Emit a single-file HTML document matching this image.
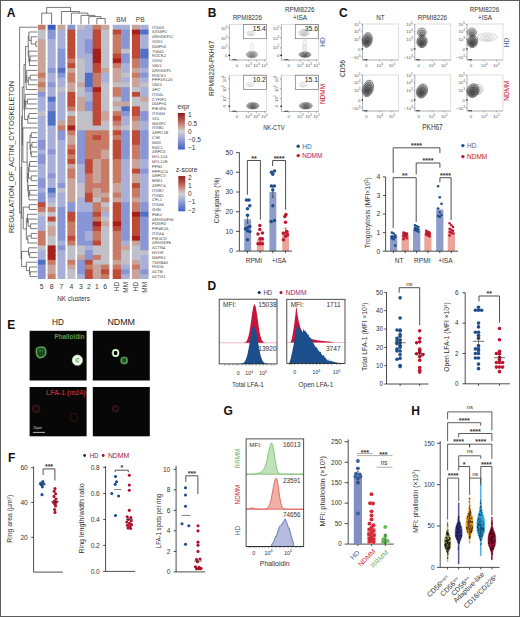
<!DOCTYPE html>
<html><head><meta charset="utf-8"><style>
html,body{margin:0;padding:0;background:#fff;}
svg{display:block;font-family:"Liberation Sans",sans-serif;}
</style></head><body>
<svg width="520" height="617" viewBox="0 0 520 617">
<rect x="0" y="0" width="520" height="617" fill="#fff"/>
<rect x="37.80" y="24.80" width="7.85" height="5.50" fill="#c77a66"/>
<rect x="37.80" y="29.60" width="7.85" height="5.50" fill="#c0c0c9"/>
<rect x="37.80" y="34.39" width="7.85" height="5.50" fill="#c0c0c9"/>
<rect x="37.80" y="39.19" width="7.85" height="5.50" fill="#c9a49b"/>
<rect x="37.80" y="43.98" width="7.85" height="5.50" fill="#c9a49b"/>
<rect x="37.80" y="48.78" width="7.85" height="5.50" fill="#c9a49b"/>
<rect x="37.80" y="53.58" width="7.85" height="5.50" fill="#c9a49b"/>
<rect x="37.80" y="58.37" width="7.85" height="5.50" fill="#c9a49b"/>
<rect x="37.80" y="63.17" width="7.85" height="5.50" fill="#c9a49b"/>
<rect x="37.80" y="67.97" width="7.85" height="5.50" fill="#c9a49b"/>
<rect x="37.80" y="72.76" width="7.85" height="5.50" fill="#c77a66"/>
<rect x="37.80" y="77.56" width="7.85" height="5.50" fill="#c9a49b"/>
<rect x="37.80" y="82.35" width="7.85" height="5.50" fill="#c77a66"/>
<rect x="37.80" y="87.15" width="7.85" height="5.50" fill="#c9a49b"/>
<rect x="37.80" y="91.95" width="7.85" height="5.50" fill="#8896d6"/>
<rect x="37.80" y="96.74" width="7.85" height="5.50" fill="#a8b0d9"/>
<rect x="37.80" y="101.54" width="7.85" height="5.50" fill="#a8b0d9"/>
<rect x="37.80" y="106.34" width="7.85" height="5.50" fill="#a8b0d9"/>
<rect x="37.80" y="111.13" width="7.85" height="5.50" fill="#c0c0c9"/>
<rect x="37.80" y="115.93" width="7.85" height="5.50" fill="#a8b0d9"/>
<rect x="37.80" y="120.72" width="7.85" height="5.50" fill="#a8b0d9"/>
<rect x="37.80" y="125.52" width="7.85" height="5.50" fill="#a8b0d9"/>
<rect x="37.80" y="130.32" width="7.85" height="5.50" fill="#a8b0d9"/>
<rect x="37.80" y="135.11" width="7.85" height="5.50" fill="#a8b0d9"/>
<rect x="37.80" y="139.91" width="7.85" height="5.50" fill="#8896d6"/>
<rect x="37.80" y="144.71" width="7.85" height="5.50" fill="#8896d6"/>
<rect x="37.80" y="149.50" width="7.85" height="5.50" fill="#a8b0d9"/>
<rect x="37.80" y="154.30" width="7.85" height="5.50" fill="#8896d6"/>
<rect x="37.80" y="159.09" width="7.85" height="5.50" fill="#8896d6"/>
<rect x="37.80" y="163.89" width="7.85" height="5.50" fill="#a8b0d9"/>
<rect x="37.80" y="168.69" width="7.85" height="5.50" fill="#a8b0d9"/>
<rect x="37.80" y="173.48" width="7.85" height="5.50" fill="#a8b0d9"/>
<rect x="37.80" y="178.28" width="7.85" height="5.50" fill="#8896d6"/>
<rect x="37.80" y="183.08" width="7.85" height="5.50" fill="#8896d6"/>
<rect x="37.80" y="187.87" width="7.85" height="5.50" fill="#a8b0d9"/>
<rect x="37.80" y="192.67" width="7.85" height="5.50" fill="#8896d6"/>
<rect x="37.80" y="197.46" width="7.85" height="5.50" fill="#8896d6"/>
<rect x="37.80" y="202.26" width="7.85" height="5.50" fill="#bd4a36"/>
<rect x="37.80" y="207.06" width="7.85" height="5.50" fill="#c77a66"/>
<rect x="37.80" y="211.85" width="7.85" height="5.50" fill="#c0c0c9"/>
<rect x="37.80" y="216.65" width="7.85" height="5.50" fill="#a8b0d9"/>
<rect x="37.80" y="221.45" width="7.85" height="5.50" fill="#a8b0d9"/>
<rect x="37.80" y="226.24" width="7.85" height="5.50" fill="#a8b0d9"/>
<rect x="37.80" y="231.04" width="7.85" height="5.50" fill="#c77a66"/>
<rect x="37.80" y="235.83" width="7.85" height="5.50" fill="#c77a66"/>
<rect x="37.80" y="240.63" width="7.85" height="5.50" fill="#c77a66"/>
<rect x="37.80" y="245.43" width="7.85" height="5.50" fill="#c0c0c9"/>
<rect x="37.80" y="250.22" width="7.85" height="5.50" fill="#a8b0d9"/>
<rect x="37.80" y="255.02" width="7.85" height="5.50" fill="#a8b0d9"/>
<rect x="37.80" y="259.82" width="7.85" height="5.50" fill="#5070c8"/>
<rect x="37.80" y="264.61" width="7.85" height="5.50" fill="#8896d6"/>
<rect x="37.80" y="269.41" width="7.85" height="5.50" fill="#8896d6"/>
<rect x="37.80" y="274.20" width="7.85" height="4.80" fill="#8896d6"/>
<rect x="47.60" y="24.80" width="8.05" height="5.50" fill="#3a5cc0"/>
<rect x="47.60" y="29.60" width="8.05" height="5.50" fill="#8896d6"/>
<rect x="47.60" y="34.39" width="8.05" height="5.50" fill="#8896d6"/>
<rect x="47.60" y="39.19" width="8.05" height="5.50" fill="#a8b0d9"/>
<rect x="47.60" y="43.98" width="8.05" height="5.50" fill="#a8b0d9"/>
<rect x="47.60" y="48.78" width="8.05" height="5.50" fill="#a8b0d9"/>
<rect x="47.60" y="53.58" width="8.05" height="5.50" fill="#a8b0d9"/>
<rect x="47.60" y="58.37" width="8.05" height="5.50" fill="#a8b0d9"/>
<rect x="47.60" y="63.17" width="8.05" height="5.50" fill="#a8b0d9"/>
<rect x="47.60" y="67.97" width="8.05" height="5.50" fill="#8896d6"/>
<rect x="47.60" y="72.76" width="8.05" height="5.50" fill="#a8b0d9"/>
<rect x="47.60" y="77.56" width="8.05" height="5.50" fill="#a8b0d9"/>
<rect x="47.60" y="82.35" width="8.05" height="5.50" fill="#8896d6"/>
<rect x="47.60" y="87.15" width="8.05" height="5.50" fill="#a8b0d9"/>
<rect x="47.60" y="91.95" width="8.05" height="5.50" fill="#a8b0d9"/>
<rect x="47.60" y="96.74" width="8.05" height="5.50" fill="#5070c8"/>
<rect x="47.60" y="101.54" width="8.05" height="5.50" fill="#8896d6"/>
<rect x="47.60" y="106.34" width="8.05" height="5.50" fill="#8896d6"/>
<rect x="47.60" y="111.13" width="8.05" height="5.50" fill="#5070c8"/>
<rect x="47.60" y="115.93" width="8.05" height="5.50" fill="#5070c8"/>
<rect x="47.60" y="120.72" width="8.05" height="5.50" fill="#5070c8"/>
<rect x="47.60" y="125.52" width="8.05" height="5.50" fill="#a8b0d9"/>
<rect x="47.60" y="130.32" width="8.05" height="5.50" fill="#a8b0d9"/>
<rect x="47.60" y="135.11" width="8.05" height="5.50" fill="#a8b0d9"/>
<rect x="47.60" y="139.91" width="8.05" height="5.50" fill="#a8b0d9"/>
<rect x="47.60" y="144.71" width="8.05" height="5.50" fill="#a8b0d9"/>
<rect x="47.60" y="149.50" width="8.05" height="5.50" fill="#8896d6"/>
<rect x="47.60" y="154.30" width="8.05" height="5.50" fill="#a8b0d9"/>
<rect x="47.60" y="159.09" width="8.05" height="5.50" fill="#a8b0d9"/>
<rect x="47.60" y="163.89" width="8.05" height="5.50" fill="#a8b0d9"/>
<rect x="47.60" y="168.69" width="8.05" height="5.50" fill="#a8b0d9"/>
<rect x="47.60" y="173.48" width="8.05" height="5.50" fill="#8896d6"/>
<rect x="47.60" y="178.28" width="8.05" height="5.50" fill="#a8b0d9"/>
<rect x="47.60" y="183.08" width="8.05" height="5.50" fill="#a8b0d9"/>
<rect x="47.60" y="187.87" width="8.05" height="5.50" fill="#5070c8"/>
<rect x="47.60" y="192.67" width="8.05" height="5.50" fill="#8896d6"/>
<rect x="47.60" y="197.46" width="8.05" height="5.50" fill="#a8b0d9"/>
<rect x="47.60" y="202.26" width="8.05" height="5.50" fill="#c0c0c9"/>
<rect x="47.60" y="207.06" width="8.05" height="5.50" fill="#c77a66"/>
<rect x="47.60" y="211.85" width="8.05" height="5.50" fill="#c0c0c9"/>
<rect x="47.60" y="216.65" width="8.05" height="5.50" fill="#bd4a36"/>
<rect x="47.60" y="221.45" width="8.05" height="5.50" fill="#c0c0c9"/>
<rect x="47.60" y="226.24" width="8.05" height="5.50" fill="#c9a49b"/>
<rect x="47.60" y="231.04" width="8.05" height="5.50" fill="#c9a49b"/>
<rect x="47.60" y="235.83" width="8.05" height="5.50" fill="#c0c0c9"/>
<rect x="47.60" y="240.63" width="8.05" height="5.50" fill="#c0c0c9"/>
<rect x="47.60" y="245.43" width="8.05" height="5.50" fill="#a5201a"/>
<rect x="47.60" y="250.22" width="8.05" height="5.50" fill="#a5201a"/>
<rect x="47.60" y="255.02" width="8.05" height="5.50" fill="#a5201a"/>
<rect x="47.60" y="259.82" width="8.05" height="5.50" fill="#c77a66"/>
<rect x="47.60" y="264.61" width="8.05" height="5.50" fill="#c9a49b"/>
<rect x="47.60" y="269.41" width="8.05" height="5.50" fill="#c9a49b"/>
<rect x="47.60" y="274.20" width="8.05" height="4.80" fill="#c77a66"/>
<rect x="57.50" y="24.80" width="7.95" height="5.50" fill="#c9a49b"/>
<rect x="57.50" y="29.60" width="7.95" height="5.50" fill="#a8b0d9"/>
<rect x="57.50" y="34.39" width="7.95" height="5.50" fill="#a8b0d9"/>
<rect x="57.50" y="39.19" width="7.95" height="5.50" fill="#a8b0d9"/>
<rect x="57.50" y="43.98" width="7.95" height="5.50" fill="#a8b0d9"/>
<rect x="57.50" y="48.78" width="7.95" height="5.50" fill="#8896d6"/>
<rect x="57.50" y="53.58" width="7.95" height="5.50" fill="#8896d6"/>
<rect x="57.50" y="58.37" width="7.95" height="5.50" fill="#8896d6"/>
<rect x="57.50" y="63.17" width="7.95" height="5.50" fill="#8896d6"/>
<rect x="57.50" y="67.97" width="7.95" height="5.50" fill="#5070c8"/>
<rect x="57.50" y="72.76" width="7.95" height="5.50" fill="#8896d6"/>
<rect x="57.50" y="77.56" width="7.95" height="5.50" fill="#a8b0d9"/>
<rect x="57.50" y="82.35" width="7.95" height="5.50" fill="#a8b0d9"/>
<rect x="57.50" y="87.15" width="7.95" height="5.50" fill="#c0c0c9"/>
<rect x="57.50" y="91.95" width="7.95" height="5.50" fill="#a8b0d9"/>
<rect x="57.50" y="96.74" width="7.95" height="5.50" fill="#a8b0d9"/>
<rect x="57.50" y="101.54" width="7.95" height="5.50" fill="#a8b0d9"/>
<rect x="57.50" y="106.34" width="7.95" height="5.50" fill="#a8b0d9"/>
<rect x="57.50" y="111.13" width="7.95" height="5.50" fill="#a8b0d9"/>
<rect x="57.50" y="115.93" width="7.95" height="5.50" fill="#a8b0d9"/>
<rect x="57.50" y="120.72" width="7.95" height="5.50" fill="#c9a49b"/>
<rect x="57.50" y="125.52" width="7.95" height="5.50" fill="#c77a66"/>
<rect x="57.50" y="130.32" width="7.95" height="5.50" fill="#8896d6"/>
<rect x="57.50" y="135.11" width="7.95" height="5.50" fill="#8896d6"/>
<rect x="57.50" y="139.91" width="7.95" height="5.50" fill="#a8b0d9"/>
<rect x="57.50" y="144.71" width="7.95" height="5.50" fill="#a8b0d9"/>
<rect x="57.50" y="149.50" width="7.95" height="5.50" fill="#a8b0d9"/>
<rect x="57.50" y="154.30" width="7.95" height="5.50" fill="#a8b0d9"/>
<rect x="57.50" y="159.09" width="7.95" height="5.50" fill="#a8b0d9"/>
<rect x="57.50" y="163.89" width="7.95" height="5.50" fill="#a8b0d9"/>
<rect x="57.50" y="168.69" width="7.95" height="5.50" fill="#a8b0d9"/>
<rect x="57.50" y="173.48" width="7.95" height="5.50" fill="#a8b0d9"/>
<rect x="57.50" y="178.28" width="7.95" height="5.50" fill="#a8b0d9"/>
<rect x="57.50" y="183.08" width="7.95" height="5.50" fill="#8896d6"/>
<rect x="57.50" y="187.87" width="7.95" height="5.50" fill="#c0c0c9"/>
<rect x="57.50" y="192.67" width="7.95" height="5.50" fill="#a8b0d9"/>
<rect x="57.50" y="197.46" width="7.95" height="5.50" fill="#a8b0d9"/>
<rect x="57.50" y="202.26" width="7.95" height="5.50" fill="#a8b0d9"/>
<rect x="57.50" y="207.06" width="7.95" height="5.50" fill="#8896d6"/>
<rect x="57.50" y="211.85" width="7.95" height="5.50" fill="#8896d6"/>
<rect x="57.50" y="216.65" width="7.95" height="5.50" fill="#8896d6"/>
<rect x="57.50" y="221.45" width="7.95" height="5.50" fill="#8896d6"/>
<rect x="57.50" y="226.24" width="7.95" height="5.50" fill="#8896d6"/>
<rect x="57.50" y="231.04" width="7.95" height="5.50" fill="#8896d6"/>
<rect x="57.50" y="235.83" width="7.95" height="5.50" fill="#8896d6"/>
<rect x="57.50" y="240.63" width="7.95" height="5.50" fill="#a8b0d9"/>
<rect x="57.50" y="245.43" width="7.95" height="5.50" fill="#8896d6"/>
<rect x="57.50" y="250.22" width="7.95" height="5.50" fill="#a8b0d9"/>
<rect x="57.50" y="255.02" width="7.95" height="5.50" fill="#a8b0d9"/>
<rect x="57.50" y="259.82" width="7.95" height="5.50" fill="#a8b0d9"/>
<rect x="57.50" y="264.61" width="7.95" height="5.50" fill="#a8b0d9"/>
<rect x="57.50" y="269.41" width="7.95" height="5.50" fill="#a8b0d9"/>
<rect x="57.50" y="274.20" width="7.95" height="4.80" fill="#a8b0d9"/>
<rect x="67.40" y="24.80" width="7.95" height="5.50" fill="#8896d6"/>
<rect x="67.40" y="29.60" width="7.95" height="5.50" fill="#bd4a36"/>
<rect x="67.40" y="34.39" width="7.95" height="5.50" fill="#bd4a36"/>
<rect x="67.40" y="39.19" width="7.95" height="5.50" fill="#bd4a36"/>
<rect x="67.40" y="43.98" width="7.95" height="5.50" fill="#bd4a36"/>
<rect x="67.40" y="48.78" width="7.95" height="5.50" fill="#bd4a36"/>
<rect x="67.40" y="53.58" width="7.95" height="5.50" fill="#bd4a36"/>
<rect x="67.40" y="58.37" width="7.95" height="5.50" fill="#c77a66"/>
<rect x="67.40" y="63.17" width="7.95" height="5.50" fill="#bd4a36"/>
<rect x="67.40" y="67.97" width="7.95" height="5.50" fill="#c9a49b"/>
<rect x="67.40" y="72.76" width="7.95" height="5.50" fill="#c77a66"/>
<rect x="67.40" y="77.56" width="7.95" height="5.50" fill="#c77a66"/>
<rect x="67.40" y="82.35" width="7.95" height="5.50" fill="#c9a49b"/>
<rect x="67.40" y="87.15" width="7.95" height="5.50" fill="#c9a49b"/>
<rect x="67.40" y="91.95" width="7.95" height="5.50" fill="#bd4a36"/>
<rect x="67.40" y="96.74" width="7.95" height="5.50" fill="#bd4a36"/>
<rect x="67.40" y="101.54" width="7.95" height="5.50" fill="#bd4a36"/>
<rect x="67.40" y="106.34" width="7.95" height="5.50" fill="#c77a66"/>
<rect x="67.40" y="111.13" width="7.95" height="5.50" fill="#c0c0c9"/>
<rect x="67.40" y="115.93" width="7.95" height="5.50" fill="#c77a66"/>
<rect x="67.40" y="120.72" width="7.95" height="5.50" fill="#c77a66"/>
<rect x="67.40" y="125.52" width="7.95" height="5.50" fill="#a5201a"/>
<rect x="67.40" y="130.32" width="7.95" height="5.50" fill="#c77a66"/>
<rect x="67.40" y="135.11" width="7.95" height="5.50" fill="#c9a49b"/>
<rect x="67.40" y="139.91" width="7.95" height="5.50" fill="#c9a49b"/>
<rect x="67.40" y="144.71" width="7.95" height="5.50" fill="#c77a66"/>
<rect x="67.40" y="149.50" width="7.95" height="5.50" fill="#bd4a36"/>
<rect x="67.40" y="154.30" width="7.95" height="5.50" fill="#c77a66"/>
<rect x="67.40" y="159.09" width="7.95" height="5.50" fill="#bd4a36"/>
<rect x="67.40" y="163.89" width="7.95" height="5.50" fill="#c9a49b"/>
<rect x="67.40" y="168.69" width="7.95" height="5.50" fill="#c77a66"/>
<rect x="67.40" y="173.48" width="7.95" height="5.50" fill="#c77a66"/>
<rect x="67.40" y="178.28" width="7.95" height="5.50" fill="#c9a49b"/>
<rect x="67.40" y="183.08" width="7.95" height="5.50" fill="#c9a49b"/>
<rect x="67.40" y="187.87" width="7.95" height="5.50" fill="#c9a49b"/>
<rect x="67.40" y="192.67" width="7.95" height="5.50" fill="#c9a49b"/>
<rect x="67.40" y="197.46" width="7.95" height="5.50" fill="#c9a49b"/>
<rect x="67.40" y="202.26" width="7.95" height="5.50" fill="#8896d6"/>
<rect x="67.40" y="207.06" width="7.95" height="5.50" fill="#8896d6"/>
<rect x="67.40" y="211.85" width="7.95" height="5.50" fill="#bd4a36"/>
<rect x="67.40" y="216.65" width="7.95" height="5.50" fill="#bd4a36"/>
<rect x="67.40" y="221.45" width="7.95" height="5.50" fill="#c77a66"/>
<rect x="67.40" y="226.24" width="7.95" height="5.50" fill="#c77a66"/>
<rect x="67.40" y="231.04" width="7.95" height="5.50" fill="#c77a66"/>
<rect x="67.40" y="235.83" width="7.95" height="5.50" fill="#bd4a36"/>
<rect x="67.40" y="240.63" width="7.95" height="5.50" fill="#c77a66"/>
<rect x="67.40" y="245.43" width="7.95" height="5.50" fill="#c0c0c9"/>
<rect x="67.40" y="250.22" width="7.95" height="5.50" fill="#c0c0c9"/>
<rect x="67.40" y="255.02" width="7.95" height="5.50" fill="#c0c0c9"/>
<rect x="67.40" y="259.82" width="7.95" height="5.50" fill="#c77a66"/>
<rect x="67.40" y="264.61" width="7.95" height="5.50" fill="#c9a49b"/>
<rect x="67.40" y="269.41" width="7.95" height="5.50" fill="#c0c0c9"/>
<rect x="67.40" y="274.20" width="7.95" height="4.80" fill="#c0c0c9"/>
<rect x="77.10" y="24.80" width="8.15" height="5.50" fill="#c0c0c9"/>
<rect x="77.10" y="29.60" width="8.15" height="5.50" fill="#a8b0d9"/>
<rect x="77.10" y="34.39" width="8.15" height="5.50" fill="#a8b0d9"/>
<rect x="77.10" y="39.19" width="8.15" height="5.50" fill="#a8b0d9"/>
<rect x="77.10" y="43.98" width="8.15" height="5.50" fill="#a8b0d9"/>
<rect x="77.10" y="48.78" width="8.15" height="5.50" fill="#a8b0d9"/>
<rect x="77.10" y="53.58" width="8.15" height="5.50" fill="#a8b0d9"/>
<rect x="77.10" y="58.37" width="8.15" height="5.50" fill="#c0c0c9"/>
<rect x="77.10" y="63.17" width="8.15" height="5.50" fill="#c0c0c9"/>
<rect x="77.10" y="67.97" width="8.15" height="5.50" fill="#c0c0c9"/>
<rect x="77.10" y="72.76" width="8.15" height="5.50" fill="#c0c0c9"/>
<rect x="77.10" y="77.56" width="8.15" height="5.50" fill="#c0c0c9"/>
<rect x="77.10" y="82.35" width="8.15" height="5.50" fill="#c9a49b"/>
<rect x="77.10" y="87.15" width="8.15" height="5.50" fill="#c0c0c9"/>
<rect x="77.10" y="91.95" width="8.15" height="5.50" fill="#c0c0c9"/>
<rect x="77.10" y="96.74" width="8.15" height="5.50" fill="#c9a49b"/>
<rect x="77.10" y="101.54" width="8.15" height="5.50" fill="#c9a49b"/>
<rect x="77.10" y="106.34" width="8.15" height="5.50" fill="#c9a49b"/>
<rect x="77.10" y="111.13" width="8.15" height="5.50" fill="#c0c0c9"/>
<rect x="77.10" y="115.93" width="8.15" height="5.50" fill="#c0c0c9"/>
<rect x="77.10" y="120.72" width="8.15" height="5.50" fill="#c0c0c9"/>
<rect x="77.10" y="125.52" width="8.15" height="5.50" fill="#c0c0c9"/>
<rect x="77.10" y="130.32" width="8.15" height="5.50" fill="#8896d6"/>
<rect x="77.10" y="135.11" width="8.15" height="5.50" fill="#8896d6"/>
<rect x="77.10" y="139.91" width="8.15" height="5.50" fill="#8896d6"/>
<rect x="77.10" y="144.71" width="8.15" height="5.50" fill="#8896d6"/>
<rect x="77.10" y="149.50" width="8.15" height="5.50" fill="#8896d6"/>
<rect x="77.10" y="154.30" width="8.15" height="5.50" fill="#8896d6"/>
<rect x="77.10" y="159.09" width="8.15" height="5.50" fill="#8896d6"/>
<rect x="77.10" y="163.89" width="8.15" height="5.50" fill="#a8b0d9"/>
<rect x="77.10" y="168.69" width="8.15" height="5.50" fill="#a8b0d9"/>
<rect x="77.10" y="173.48" width="8.15" height="5.50" fill="#a8b0d9"/>
<rect x="77.10" y="178.28" width="8.15" height="5.50" fill="#a8b0d9"/>
<rect x="77.10" y="183.08" width="8.15" height="5.50" fill="#c0c0c9"/>
<rect x="77.10" y="187.87" width="8.15" height="5.50" fill="#c0c0c9"/>
<rect x="77.10" y="192.67" width="8.15" height="5.50" fill="#c0c0c9"/>
<rect x="77.10" y="197.46" width="8.15" height="5.50" fill="#a8b0d9"/>
<rect x="77.10" y="202.26" width="8.15" height="5.50" fill="#a8b0d9"/>
<rect x="77.10" y="207.06" width="8.15" height="5.50" fill="#a8b0d9"/>
<rect x="77.10" y="211.85" width="8.15" height="5.50" fill="#8896d6"/>
<rect x="77.10" y="216.65" width="8.15" height="5.50" fill="#8896d6"/>
<rect x="77.10" y="221.45" width="8.15" height="5.50" fill="#8896d6"/>
<rect x="77.10" y="226.24" width="8.15" height="5.50" fill="#8896d6"/>
<rect x="77.10" y="231.04" width="8.15" height="5.50" fill="#8896d6"/>
<rect x="77.10" y="235.83" width="8.15" height="5.50" fill="#8896d6"/>
<rect x="77.10" y="240.63" width="8.15" height="5.50" fill="#8896d6"/>
<rect x="77.10" y="245.43" width="8.15" height="5.50" fill="#c0c0c9"/>
<rect x="77.10" y="250.22" width="8.15" height="5.50" fill="#c0c0c9"/>
<rect x="77.10" y="255.02" width="8.15" height="5.50" fill="#c9a49b"/>
<rect x="77.10" y="259.82" width="8.15" height="5.50" fill="#8896d6"/>
<rect x="77.10" y="264.61" width="8.15" height="5.50" fill="#8896d6"/>
<rect x="77.10" y="269.41" width="8.15" height="5.50" fill="#8896d6"/>
<rect x="77.10" y="274.20" width="8.15" height="4.80" fill="#a8b0d9"/>
<rect x="84.90" y="24.80" width="8.15" height="5.50" fill="#a8b0d9"/>
<rect x="84.90" y="29.60" width="8.15" height="5.50" fill="#a8b0d9"/>
<rect x="84.90" y="34.39" width="8.15" height="5.50" fill="#a8b0d9"/>
<rect x="84.90" y="39.19" width="8.15" height="5.50" fill="#8896d6"/>
<rect x="84.90" y="43.98" width="8.15" height="5.50" fill="#8896d6"/>
<rect x="84.90" y="48.78" width="8.15" height="5.50" fill="#8896d6"/>
<rect x="84.90" y="53.58" width="8.15" height="5.50" fill="#a8b0d9"/>
<rect x="84.90" y="58.37" width="8.15" height="5.50" fill="#a8b0d9"/>
<rect x="84.90" y="63.17" width="8.15" height="5.50" fill="#a8b0d9"/>
<rect x="84.90" y="67.97" width="8.15" height="5.50" fill="#a8b0d9"/>
<rect x="84.90" y="72.76" width="8.15" height="5.50" fill="#5070c8"/>
<rect x="84.90" y="77.56" width="8.15" height="5.50" fill="#5070c8"/>
<rect x="84.90" y="82.35" width="8.15" height="5.50" fill="#5070c8"/>
<rect x="84.90" y="87.15" width="8.15" height="5.50" fill="#8896d6"/>
<rect x="84.90" y="91.95" width="8.15" height="5.50" fill="#a8b0d9"/>
<rect x="84.90" y="96.74" width="8.15" height="5.50" fill="#a8b0d9"/>
<rect x="84.90" y="101.54" width="8.15" height="5.50" fill="#8896d6"/>
<rect x="84.90" y="106.34" width="8.15" height="5.50" fill="#8896d6"/>
<rect x="84.90" y="111.13" width="8.15" height="5.50" fill="#c0c0c9"/>
<rect x="84.90" y="115.93" width="8.15" height="5.50" fill="#c0c0c9"/>
<rect x="84.90" y="120.72" width="8.15" height="5.50" fill="#c0c0c9"/>
<rect x="84.90" y="125.52" width="8.15" height="5.50" fill="#c0c0c9"/>
<rect x="84.90" y="130.32" width="8.15" height="5.50" fill="#c77a66"/>
<rect x="84.90" y="135.11" width="8.15" height="5.50" fill="#c77a66"/>
<rect x="84.90" y="139.91" width="8.15" height="5.50" fill="#c77a66"/>
<rect x="84.90" y="144.71" width="8.15" height="5.50" fill="#c77a66"/>
<rect x="84.90" y="149.50" width="8.15" height="5.50" fill="#c77a66"/>
<rect x="84.90" y="154.30" width="8.15" height="5.50" fill="#c77a66"/>
<rect x="84.90" y="159.09" width="8.15" height="5.50" fill="#bd4a36"/>
<rect x="84.90" y="163.89" width="8.15" height="5.50" fill="#bd4a36"/>
<rect x="84.90" y="168.69" width="8.15" height="5.50" fill="#bd4a36"/>
<rect x="84.90" y="173.48" width="8.15" height="5.50" fill="#c77a66"/>
<rect x="84.90" y="178.28" width="8.15" height="5.50" fill="#c77a66"/>
<rect x="84.90" y="183.08" width="8.15" height="5.50" fill="#c77a66"/>
<rect x="84.90" y="187.87" width="8.15" height="5.50" fill="#c77a66"/>
<rect x="84.90" y="192.67" width="8.15" height="5.50" fill="#bd4a36"/>
<rect x="84.90" y="197.46" width="8.15" height="5.50" fill="#bd4a36"/>
<rect x="84.90" y="202.26" width="8.15" height="5.50" fill="#a8b0d9"/>
<rect x="84.90" y="207.06" width="8.15" height="5.50" fill="#a8b0d9"/>
<rect x="84.90" y="211.85" width="8.15" height="5.50" fill="#8896d6"/>
<rect x="84.90" y="216.65" width="8.15" height="5.50" fill="#8896d6"/>
<rect x="84.90" y="221.45" width="8.15" height="5.50" fill="#8896d6"/>
<rect x="84.90" y="226.24" width="8.15" height="5.50" fill="#8896d6"/>
<rect x="84.90" y="231.04" width="8.15" height="5.50" fill="#a8b0d9"/>
<rect x="84.90" y="235.83" width="8.15" height="5.50" fill="#a8b0d9"/>
<rect x="84.90" y="240.63" width="8.15" height="5.50" fill="#8896d6"/>
<rect x="84.90" y="245.43" width="8.15" height="5.50" fill="#a8b0d9"/>
<rect x="84.90" y="250.22" width="8.15" height="5.50" fill="#8896d6"/>
<rect x="84.90" y="255.02" width="8.15" height="5.50" fill="#8896d6"/>
<rect x="84.90" y="259.82" width="8.15" height="5.50" fill="#bd4a36"/>
<rect x="84.90" y="264.61" width="8.15" height="5.50" fill="#c77a66"/>
<rect x="84.90" y="269.41" width="8.15" height="5.50" fill="#bd4a36"/>
<rect x="84.90" y="274.20" width="8.15" height="4.80" fill="#bd4a36"/>
<rect x="92.70" y="24.80" width="8.65" height="5.50" fill="#c77a66"/>
<rect x="92.70" y="29.60" width="8.65" height="5.50" fill="#bd4a36"/>
<rect x="92.70" y="34.39" width="8.65" height="5.50" fill="#bd4a36"/>
<rect x="92.70" y="39.19" width="8.65" height="5.50" fill="#bd4a36"/>
<rect x="92.70" y="43.98" width="8.65" height="5.50" fill="#bd4a36"/>
<rect x="92.70" y="48.78" width="8.65" height="5.50" fill="#a5201a"/>
<rect x="92.70" y="53.58" width="8.65" height="5.50" fill="#a5201a"/>
<rect x="92.70" y="58.37" width="8.65" height="5.50" fill="#a5201a"/>
<rect x="92.70" y="63.17" width="8.65" height="5.50" fill="#bd4a36"/>
<rect x="92.70" y="67.97" width="8.65" height="5.50" fill="#bd4a36"/>
<rect x="92.70" y="72.76" width="8.65" height="5.50" fill="#c77a66"/>
<rect x="92.70" y="77.56" width="8.65" height="5.50" fill="#c77a66"/>
<rect x="92.70" y="82.35" width="8.65" height="5.50" fill="#c77a66"/>
<rect x="92.70" y="87.15" width="8.65" height="5.50" fill="#a5201a"/>
<rect x="92.70" y="91.95" width="8.65" height="5.50" fill="#bd4a36"/>
<rect x="92.70" y="96.74" width="8.65" height="5.50" fill="#bd4a36"/>
<rect x="92.70" y="101.54" width="8.65" height="5.50" fill="#bd4a36"/>
<rect x="92.70" y="106.34" width="8.65" height="5.50" fill="#bd4a36"/>
<rect x="92.70" y="111.13" width="8.65" height="5.50" fill="#bd4a36"/>
<rect x="92.70" y="115.93" width="8.65" height="5.50" fill="#bd4a36"/>
<rect x="92.70" y="120.72" width="8.65" height="5.50" fill="#bd4a36"/>
<rect x="92.70" y="125.52" width="8.65" height="5.50" fill="#c0c0c9"/>
<rect x="92.70" y="130.32" width="8.65" height="5.50" fill="#c77a66"/>
<rect x="92.70" y="135.11" width="8.65" height="5.50" fill="#bd4a36"/>
<rect x="92.70" y="139.91" width="8.65" height="5.50" fill="#c77a66"/>
<rect x="92.70" y="144.71" width="8.65" height="5.50" fill="#c77a66"/>
<rect x="92.70" y="149.50" width="8.65" height="5.50" fill="#c77a66"/>
<rect x="92.70" y="154.30" width="8.65" height="5.50" fill="#c77a66"/>
<rect x="92.70" y="159.09" width="8.65" height="5.50" fill="#c9a49b"/>
<rect x="92.70" y="163.89" width="8.65" height="5.50" fill="#c9a49b"/>
<rect x="92.70" y="168.69" width="8.65" height="5.50" fill="#c9a49b"/>
<rect x="92.70" y="173.48" width="8.65" height="5.50" fill="#c9a49b"/>
<rect x="92.70" y="178.28" width="8.65" height="5.50" fill="#c9a49b"/>
<rect x="92.70" y="183.08" width="8.65" height="5.50" fill="#c77a66"/>
<rect x="92.70" y="187.87" width="8.65" height="5.50" fill="#c9a49b"/>
<rect x="92.70" y="192.67" width="8.65" height="5.50" fill="#c9a49b"/>
<rect x="92.70" y="197.46" width="8.65" height="5.50" fill="#c0c0c9"/>
<rect x="92.70" y="202.26" width="8.65" height="5.50" fill="#c77a66"/>
<rect x="92.70" y="207.06" width="8.65" height="5.50" fill="#c77a66"/>
<rect x="92.70" y="211.85" width="8.65" height="5.50" fill="#bd4a36"/>
<rect x="92.70" y="216.65" width="8.65" height="5.50" fill="#c77a66"/>
<rect x="92.70" y="221.45" width="8.65" height="5.50" fill="#a5201a"/>
<rect x="92.70" y="226.24" width="8.65" height="5.50" fill="#bd4a36"/>
<rect x="92.70" y="231.04" width="8.65" height="5.50" fill="#c77a66"/>
<rect x="92.70" y="235.83" width="8.65" height="5.50" fill="#c77a66"/>
<rect x="92.70" y="240.63" width="8.65" height="5.50" fill="#bd4a36"/>
<rect x="92.70" y="245.43" width="8.65" height="5.50" fill="#c0c0c9"/>
<rect x="92.70" y="250.22" width="8.65" height="5.50" fill="#c0c0c9"/>
<rect x="92.70" y="255.02" width="8.65" height="5.50" fill="#c77a66"/>
<rect x="92.70" y="259.82" width="8.65" height="5.50" fill="#c0c0c9"/>
<rect x="92.70" y="264.61" width="8.65" height="5.50" fill="#c9a49b"/>
<rect x="92.70" y="269.41" width="8.65" height="5.50" fill="#c9a49b"/>
<rect x="92.70" y="274.20" width="8.65" height="4.80" fill="#c9a49b"/>
<rect x="101.00" y="24.80" width="8.35" height="5.50" fill="#c9a49b"/>
<rect x="101.00" y="29.60" width="8.35" height="5.50" fill="#c0c0c9"/>
<rect x="101.00" y="34.39" width="8.35" height="5.50" fill="#c0c0c9"/>
<rect x="101.00" y="39.19" width="8.35" height="5.50" fill="#c0c0c9"/>
<rect x="101.00" y="43.98" width="8.35" height="5.50" fill="#c0c0c9"/>
<rect x="101.00" y="48.78" width="8.35" height="5.50" fill="#c0c0c9"/>
<rect x="101.00" y="53.58" width="8.35" height="5.50" fill="#c0c0c9"/>
<rect x="101.00" y="58.37" width="8.35" height="5.50" fill="#c0c0c9"/>
<rect x="101.00" y="63.17" width="8.35" height="5.50" fill="#c0c0c9"/>
<rect x="101.00" y="67.97" width="8.35" height="5.50" fill="#c9a49b"/>
<rect x="101.00" y="72.76" width="8.35" height="5.50" fill="#a8b0d9"/>
<rect x="101.00" y="77.56" width="8.35" height="5.50" fill="#a8b0d9"/>
<rect x="101.00" y="82.35" width="8.35" height="5.50" fill="#c0c0c9"/>
<rect x="101.00" y="87.15" width="8.35" height="5.50" fill="#c0c0c9"/>
<rect x="101.00" y="91.95" width="8.35" height="5.50" fill="#c0c0c9"/>
<rect x="101.00" y="96.74" width="8.35" height="5.50" fill="#c0c0c9"/>
<rect x="101.00" y="101.54" width="8.35" height="5.50" fill="#c0c0c9"/>
<rect x="101.00" y="106.34" width="8.35" height="5.50" fill="#c0c0c9"/>
<rect x="101.00" y="111.13" width="8.35" height="5.50" fill="#c9a49b"/>
<rect x="101.00" y="115.93" width="8.35" height="5.50" fill="#c9a49b"/>
<rect x="101.00" y="120.72" width="8.35" height="5.50" fill="#c0c0c9"/>
<rect x="101.00" y="125.52" width="8.35" height="5.50" fill="#c0c0c9"/>
<rect x="101.00" y="130.32" width="8.35" height="5.50" fill="#c77a66"/>
<rect x="101.00" y="135.11" width="8.35" height="5.50" fill="#c77a66"/>
<rect x="101.00" y="139.91" width="8.35" height="5.50" fill="#c77a66"/>
<rect x="101.00" y="144.71" width="8.35" height="5.50" fill="#c77a66"/>
<rect x="101.00" y="149.50" width="8.35" height="5.50" fill="#c9a49b"/>
<rect x="101.00" y="154.30" width="8.35" height="5.50" fill="#c9a49b"/>
<rect x="101.00" y="159.09" width="8.35" height="5.50" fill="#c77a66"/>
<rect x="101.00" y="163.89" width="8.35" height="5.50" fill="#c77a66"/>
<rect x="101.00" y="168.69" width="8.35" height="5.50" fill="#c77a66"/>
<rect x="101.00" y="173.48" width="8.35" height="5.50" fill="#c77a66"/>
<rect x="101.00" y="178.28" width="8.35" height="5.50" fill="#c77a66"/>
<rect x="101.00" y="183.08" width="8.35" height="5.50" fill="#c77a66"/>
<rect x="101.00" y="187.87" width="8.35" height="5.50" fill="#c77a66"/>
<rect x="101.00" y="192.67" width="8.35" height="5.50" fill="#c9a49b"/>
<rect x="101.00" y="197.46" width="8.35" height="5.50" fill="#c77a66"/>
<rect x="101.00" y="202.26" width="8.35" height="5.50" fill="#c0c0c9"/>
<rect x="101.00" y="207.06" width="8.35" height="5.50" fill="#c9a49b"/>
<rect x="101.00" y="211.85" width="8.35" height="5.50" fill="#a8b0d9"/>
<rect x="101.00" y="216.65" width="8.35" height="5.50" fill="#c0c0c9"/>
<rect x="101.00" y="221.45" width="8.35" height="5.50" fill="#c9a49b"/>
<rect x="101.00" y="226.24" width="8.35" height="5.50" fill="#c0c0c9"/>
<rect x="101.00" y="231.04" width="8.35" height="5.50" fill="#c0c0c9"/>
<rect x="101.00" y="235.83" width="8.35" height="5.50" fill="#c0c0c9"/>
<rect x="101.00" y="240.63" width="8.35" height="5.50" fill="#c0c0c9"/>
<rect x="101.00" y="245.43" width="8.35" height="5.50" fill="#c0c0c9"/>
<rect x="101.00" y="250.22" width="8.35" height="5.50" fill="#c0c0c9"/>
<rect x="101.00" y="255.02" width="8.35" height="5.50" fill="#c0c0c9"/>
<rect x="101.00" y="259.82" width="8.35" height="5.50" fill="#c0c0c9"/>
<rect x="101.00" y="264.61" width="8.35" height="5.50" fill="#c77a66"/>
<rect x="101.00" y="269.41" width="8.35" height="5.50" fill="#bd4a36"/>
<rect x="101.00" y="274.20" width="8.35" height="4.80" fill="#c77a66"/>
<rect x="112.70" y="24.80" width="8.95" height="5.50" fill="#a8b0d9"/>
<rect x="112.70" y="29.60" width="8.95" height="5.50" fill="#bd4a36"/>
<rect x="112.70" y="34.39" width="8.95" height="5.50" fill="#c77a66"/>
<rect x="112.70" y="39.19" width="8.95" height="5.50" fill="#c77a66"/>
<rect x="112.70" y="43.98" width="8.95" height="5.50" fill="#c77a66"/>
<rect x="112.70" y="48.78" width="8.95" height="5.50" fill="#c77a66"/>
<rect x="112.70" y="53.58" width="8.95" height="5.50" fill="#bd4a36"/>
<rect x="112.70" y="58.37" width="8.95" height="5.50" fill="#a5201a"/>
<rect x="112.70" y="63.17" width="8.95" height="5.50" fill="#c77a66"/>
<rect x="112.70" y="67.97" width="8.95" height="5.50" fill="#c9a49b"/>
<rect x="112.70" y="72.76" width="8.95" height="5.50" fill="#c9a49b"/>
<rect x="112.70" y="77.56" width="8.95" height="5.50" fill="#c9a49b"/>
<rect x="112.70" y="82.35" width="8.95" height="5.50" fill="#c0c0c9"/>
<rect x="112.70" y="87.15" width="8.95" height="5.50" fill="#c77a66"/>
<rect x="112.70" y="91.95" width="8.95" height="5.50" fill="#c77a66"/>
<rect x="112.70" y="96.74" width="8.95" height="5.50" fill="#c0c0c9"/>
<rect x="112.70" y="101.54" width="8.95" height="5.50" fill="#c9a49b"/>
<rect x="112.70" y="106.34" width="8.95" height="5.50" fill="#c0c0c9"/>
<rect x="112.70" y="111.13" width="8.95" height="5.50" fill="#c77a66"/>
<rect x="112.70" y="115.93" width="8.95" height="5.50" fill="#bd4a36"/>
<rect x="112.70" y="120.72" width="8.95" height="5.50" fill="#c77a66"/>
<rect x="112.70" y="125.52" width="8.95" height="5.50" fill="#c9a49b"/>
<rect x="112.70" y="130.32" width="8.95" height="5.50" fill="#bd4a36"/>
<rect x="112.70" y="135.11" width="8.95" height="5.50" fill="#c77a66"/>
<rect x="112.70" y="139.91" width="8.95" height="5.50" fill="#bd4a36"/>
<rect x="112.70" y="144.71" width="8.95" height="5.50" fill="#bd4a36"/>
<rect x="112.70" y="149.50" width="8.95" height="5.50" fill="#bd4a36"/>
<rect x="112.70" y="154.30" width="8.95" height="5.50" fill="#bd4a36"/>
<rect x="112.70" y="159.09" width="8.95" height="5.50" fill="#c77a66"/>
<rect x="112.70" y="163.89" width="8.95" height="5.50" fill="#c77a66"/>
<rect x="112.70" y="168.69" width="8.95" height="5.50" fill="#c77a66"/>
<rect x="112.70" y="173.48" width="8.95" height="5.50" fill="#c77a66"/>
<rect x="112.70" y="178.28" width="8.95" height="5.50" fill="#c77a66"/>
<rect x="112.70" y="183.08" width="8.95" height="5.50" fill="#c9a49b"/>
<rect x="112.70" y="187.87" width="8.95" height="5.50" fill="#c9a49b"/>
<rect x="112.70" y="192.67" width="8.95" height="5.50" fill="#c77a66"/>
<rect x="112.70" y="197.46" width="8.95" height="5.50" fill="#c9a49b"/>
<rect x="112.70" y="202.26" width="8.95" height="5.50" fill="#bd4a36"/>
<rect x="112.70" y="207.06" width="8.95" height="5.50" fill="#bd4a36"/>
<rect x="112.70" y="211.85" width="8.95" height="5.50" fill="#bd4a36"/>
<rect x="112.70" y="216.65" width="8.95" height="5.50" fill="#bd4a36"/>
<rect x="112.70" y="221.45" width="8.95" height="5.50" fill="#a5201a"/>
<rect x="112.70" y="226.24" width="8.95" height="5.50" fill="#bd4a36"/>
<rect x="112.70" y="231.04" width="8.95" height="5.50" fill="#c77a66"/>
<rect x="112.70" y="235.83" width="8.95" height="5.50" fill="#c77a66"/>
<rect x="112.70" y="240.63" width="8.95" height="5.50" fill="#c77a66"/>
<rect x="112.70" y="245.43" width="8.95" height="5.50" fill="#c77a66"/>
<rect x="112.70" y="250.22" width="8.95" height="5.50" fill="#c77a66"/>
<rect x="112.70" y="255.02" width="8.95" height="5.50" fill="#c77a66"/>
<rect x="112.70" y="259.82" width="8.95" height="5.50" fill="#c9a49b"/>
<rect x="112.70" y="264.61" width="8.95" height="5.50" fill="#c77a66"/>
<rect x="112.70" y="269.41" width="8.95" height="5.50" fill="#bd4a36"/>
<rect x="112.70" y="274.20" width="8.95" height="4.80" fill="#bd4a36"/>
<rect x="121.30" y="24.80" width="8.55" height="5.50" fill="#a8b0d9"/>
<rect x="121.30" y="29.60" width="8.55" height="5.50" fill="#8896d6"/>
<rect x="121.30" y="34.39" width="8.55" height="5.50" fill="#8896d6"/>
<rect x="121.30" y="39.19" width="8.55" height="5.50" fill="#8896d6"/>
<rect x="121.30" y="43.98" width="8.55" height="5.50" fill="#8896d6"/>
<rect x="121.30" y="48.78" width="8.55" height="5.50" fill="#c0c0c9"/>
<rect x="121.30" y="53.58" width="8.55" height="5.50" fill="#8896d6"/>
<rect x="121.30" y="58.37" width="8.55" height="5.50" fill="#8896d6"/>
<rect x="121.30" y="63.17" width="8.55" height="5.50" fill="#a8b0d9"/>
<rect x="121.30" y="67.97" width="8.55" height="5.50" fill="#a8b0d9"/>
<rect x="121.30" y="72.76" width="8.55" height="5.50" fill="#c0c0c9"/>
<rect x="121.30" y="77.56" width="8.55" height="5.50" fill="#a8b0d9"/>
<rect x="121.30" y="82.35" width="8.55" height="5.50" fill="#c0c0c9"/>
<rect x="121.30" y="87.15" width="8.55" height="5.50" fill="#8896d6"/>
<rect x="121.30" y="91.95" width="8.55" height="5.50" fill="#8896d6"/>
<rect x="121.30" y="96.74" width="8.55" height="5.50" fill="#8896d6"/>
<rect x="121.30" y="101.54" width="8.55" height="5.50" fill="#c9a49b"/>
<rect x="121.30" y="106.34" width="8.55" height="5.50" fill="#5070c8"/>
<rect x="121.30" y="111.13" width="8.55" height="5.50" fill="#8896d6"/>
<rect x="121.30" y="115.93" width="8.55" height="5.50" fill="#a8b0d9"/>
<rect x="121.30" y="120.72" width="8.55" height="5.50" fill="#a8b0d9"/>
<rect x="121.30" y="125.52" width="8.55" height="5.50" fill="#c0c0c9"/>
<rect x="121.30" y="130.32" width="8.55" height="5.50" fill="#8896d6"/>
<rect x="121.30" y="135.11" width="8.55" height="5.50" fill="#8896d6"/>
<rect x="121.30" y="139.91" width="8.55" height="5.50" fill="#8896d6"/>
<rect x="121.30" y="144.71" width="8.55" height="5.50" fill="#8896d6"/>
<rect x="121.30" y="149.50" width="8.55" height="5.50" fill="#8896d6"/>
<rect x="121.30" y="154.30" width="8.55" height="5.50" fill="#8896d6"/>
<rect x="121.30" y="159.09" width="8.55" height="5.50" fill="#a8b0d9"/>
<rect x="121.30" y="163.89" width="8.55" height="5.50" fill="#a8b0d9"/>
<rect x="121.30" y="168.69" width="8.55" height="5.50" fill="#a8b0d9"/>
<rect x="121.30" y="173.48" width="8.55" height="5.50" fill="#a8b0d9"/>
<rect x="121.30" y="178.28" width="8.55" height="5.50" fill="#a8b0d9"/>
<rect x="121.30" y="183.08" width="8.55" height="5.50" fill="#a8b0d9"/>
<rect x="121.30" y="187.87" width="8.55" height="5.50" fill="#a8b0d9"/>
<rect x="121.30" y="192.67" width="8.55" height="5.50" fill="#a8b0d9"/>
<rect x="121.30" y="197.46" width="8.55" height="5.50" fill="#a8b0d9"/>
<rect x="121.30" y="202.26" width="8.55" height="5.50" fill="#8896d6"/>
<rect x="121.30" y="207.06" width="8.55" height="5.50" fill="#8896d6"/>
<rect x="121.30" y="211.85" width="8.55" height="5.50" fill="#8896d6"/>
<rect x="121.30" y="216.65" width="8.55" height="5.50" fill="#8896d6"/>
<rect x="121.30" y="221.45" width="8.55" height="5.50" fill="#8896d6"/>
<rect x="121.30" y="226.24" width="8.55" height="5.50" fill="#8896d6"/>
<rect x="121.30" y="231.04" width="8.55" height="5.50" fill="#8896d6"/>
<rect x="121.30" y="235.83" width="8.55" height="5.50" fill="#8896d6"/>
<rect x="121.30" y="240.63" width="8.55" height="5.50" fill="#a8b0d9"/>
<rect x="121.30" y="245.43" width="8.55" height="5.50" fill="#c9a49b"/>
<rect x="121.30" y="250.22" width="8.55" height="5.50" fill="#c0c0c9"/>
<rect x="121.30" y="255.02" width="8.55" height="5.50" fill="#c0c0c9"/>
<rect x="121.30" y="259.82" width="8.55" height="5.50" fill="#c0c0c9"/>
<rect x="121.30" y="264.61" width="8.55" height="5.50" fill="#a8b0d9"/>
<rect x="121.30" y="269.41" width="8.55" height="5.50" fill="#8896d6"/>
<rect x="121.30" y="274.20" width="8.55" height="4.80" fill="#a8b0d9"/>
<rect x="131.90" y="24.80" width="8.35" height="5.50" fill="#c9a49b"/>
<rect x="131.90" y="29.60" width="8.35" height="5.50" fill="#a5201a"/>
<rect x="131.90" y="34.39" width="8.35" height="5.50" fill="#bd4a36"/>
<rect x="131.90" y="39.19" width="8.35" height="5.50" fill="#bd4a36"/>
<rect x="131.90" y="43.98" width="8.35" height="5.50" fill="#bd4a36"/>
<rect x="131.90" y="48.78" width="8.35" height="5.50" fill="#bd4a36"/>
<rect x="131.90" y="53.58" width="8.35" height="5.50" fill="#bd4a36"/>
<rect x="131.90" y="58.37" width="8.35" height="5.50" fill="#c77a66"/>
<rect x="131.90" y="63.17" width="8.35" height="5.50" fill="#c77a66"/>
<rect x="131.90" y="67.97" width="8.35" height="5.50" fill="#c9a49b"/>
<rect x="131.90" y="72.76" width="8.35" height="5.50" fill="#c77a66"/>
<rect x="131.90" y="77.56" width="8.35" height="5.50" fill="#c9a49b"/>
<rect x="131.90" y="82.35" width="8.35" height="5.50" fill="#c9a49b"/>
<rect x="131.90" y="87.15" width="8.35" height="5.50" fill="#c0c0c9"/>
<rect x="131.90" y="91.95" width="8.35" height="5.50" fill="#bd4a36"/>
<rect x="131.90" y="96.74" width="8.35" height="5.50" fill="#c0c0c9"/>
<rect x="131.90" y="101.54" width="8.35" height="5.50" fill="#c0c0c9"/>
<rect x="131.90" y="106.34" width="8.35" height="5.50" fill="#bd4a36"/>
<rect x="131.90" y="111.13" width="8.35" height="5.50" fill="#bd4a36"/>
<rect x="131.90" y="115.93" width="8.35" height="5.50" fill="#c77a66"/>
<rect x="131.90" y="120.72" width="8.35" height="5.50" fill="#c9a49b"/>
<rect x="131.90" y="125.52" width="8.35" height="5.50" fill="#c9a49b"/>
<rect x="131.90" y="130.32" width="8.35" height="5.50" fill="#bd4a36"/>
<rect x="131.90" y="135.11" width="8.35" height="5.50" fill="#bd4a36"/>
<rect x="131.90" y="139.91" width="8.35" height="5.50" fill="#bd4a36"/>
<rect x="131.90" y="144.71" width="8.35" height="5.50" fill="#c77a66"/>
<rect x="131.90" y="149.50" width="8.35" height="5.50" fill="#c77a66"/>
<rect x="131.90" y="154.30" width="8.35" height="5.50" fill="#c77a66"/>
<rect x="131.90" y="159.09" width="8.35" height="5.50" fill="#c9a49b"/>
<rect x="131.90" y="163.89" width="8.35" height="5.50" fill="#c9a49b"/>
<rect x="131.90" y="168.69" width="8.35" height="5.50" fill="#bd4a36"/>
<rect x="131.90" y="173.48" width="8.35" height="5.50" fill="#c9a49b"/>
<rect x="131.90" y="178.28" width="8.35" height="5.50" fill="#c9a49b"/>
<rect x="131.90" y="183.08" width="8.35" height="5.50" fill="#bd4a36"/>
<rect x="131.90" y="187.87" width="8.35" height="5.50" fill="#c77a66"/>
<rect x="131.90" y="192.67" width="8.35" height="5.50" fill="#c77a66"/>
<rect x="131.90" y="197.46" width="8.35" height="5.50" fill="#c9a49b"/>
<rect x="131.90" y="202.26" width="8.35" height="5.50" fill="#c77a66"/>
<rect x="131.90" y="207.06" width="8.35" height="5.50" fill="#c77a66"/>
<rect x="131.90" y="211.85" width="8.35" height="5.50" fill="#a5201a"/>
<rect x="131.90" y="216.65" width="8.35" height="5.50" fill="#bd4a36"/>
<rect x="131.90" y="221.45" width="8.35" height="5.50" fill="#bd4a36"/>
<rect x="131.90" y="226.24" width="8.35" height="5.50" fill="#bd4a36"/>
<rect x="131.90" y="231.04" width="8.35" height="5.50" fill="#bd4a36"/>
<rect x="131.90" y="235.83" width="8.35" height="5.50" fill="#a5201a"/>
<rect x="131.90" y="240.63" width="8.35" height="5.50" fill="#c9a49b"/>
<rect x="131.90" y="245.43" width="8.35" height="5.50" fill="#c0c0c9"/>
<rect x="131.90" y="250.22" width="8.35" height="5.50" fill="#c0c0c9"/>
<rect x="131.90" y="255.02" width="8.35" height="5.50" fill="#c0c0c9"/>
<rect x="131.90" y="259.82" width="8.35" height="5.50" fill="#c9a49b"/>
<rect x="131.90" y="264.61" width="8.35" height="5.50" fill="#c77a66"/>
<rect x="131.90" y="269.41" width="8.35" height="5.50" fill="#c9a49b"/>
<rect x="131.90" y="274.20" width="8.35" height="4.80" fill="#c9a49b"/>
<rect x="140.20" y="24.80" width="8.35" height="5.50" fill="#a8b0d9"/>
<rect x="140.20" y="29.60" width="8.35" height="5.50" fill="#5070c8"/>
<rect x="140.20" y="34.39" width="8.35" height="5.50" fill="#a8b0d9"/>
<rect x="140.20" y="39.19" width="8.35" height="5.50" fill="#a8b0d9"/>
<rect x="140.20" y="43.98" width="8.35" height="5.50" fill="#a8b0d9"/>
<rect x="140.20" y="48.78" width="8.35" height="5.50" fill="#5070c8"/>
<rect x="140.20" y="53.58" width="8.35" height="5.50" fill="#5070c8"/>
<rect x="140.20" y="58.37" width="8.35" height="5.50" fill="#8896d6"/>
<rect x="140.20" y="63.17" width="8.35" height="5.50" fill="#8896d6"/>
<rect x="140.20" y="67.97" width="8.35" height="5.50" fill="#a8b0d9"/>
<rect x="140.20" y="72.76" width="8.35" height="5.50" fill="#8896d6"/>
<rect x="140.20" y="77.56" width="8.35" height="5.50" fill="#a8b0d9"/>
<rect x="140.20" y="82.35" width="8.35" height="5.50" fill="#c0c0c9"/>
<rect x="140.20" y="87.15" width="8.35" height="5.50" fill="#a8b0d9"/>
<rect x="140.20" y="91.95" width="8.35" height="5.50" fill="#a8b0d9"/>
<rect x="140.20" y="96.74" width="8.35" height="5.50" fill="#c9a49b"/>
<rect x="140.20" y="101.54" width="8.35" height="5.50" fill="#c0c0c9"/>
<rect x="140.20" y="106.34" width="8.35" height="5.50" fill="#c0c0c9"/>
<rect x="140.20" y="111.13" width="8.35" height="5.50" fill="#8896d6"/>
<rect x="140.20" y="115.93" width="8.35" height="5.50" fill="#8896d6"/>
<rect x="140.20" y="120.72" width="8.35" height="5.50" fill="#a8b0d9"/>
<rect x="140.20" y="125.52" width="8.35" height="5.50" fill="#a8b0d9"/>
<rect x="140.20" y="130.32" width="8.35" height="5.50" fill="#8896d6"/>
<rect x="140.20" y="135.11" width="8.35" height="5.50" fill="#8896d6"/>
<rect x="140.20" y="139.91" width="8.35" height="5.50" fill="#8896d6"/>
<rect x="140.20" y="144.71" width="8.35" height="5.50" fill="#8896d6"/>
<rect x="140.20" y="149.50" width="8.35" height="5.50" fill="#8896d6"/>
<rect x="140.20" y="154.30" width="8.35" height="5.50" fill="#8896d6"/>
<rect x="140.20" y="159.09" width="8.35" height="5.50" fill="#a8b0d9"/>
<rect x="140.20" y="163.89" width="8.35" height="5.50" fill="#a8b0d9"/>
<rect x="140.20" y="168.69" width="8.35" height="5.50" fill="#8896d6"/>
<rect x="140.20" y="173.48" width="8.35" height="5.50" fill="#a8b0d9"/>
<rect x="140.20" y="178.28" width="8.35" height="5.50" fill="#a8b0d9"/>
<rect x="140.20" y="183.08" width="8.35" height="5.50" fill="#a8b0d9"/>
<rect x="140.20" y="187.87" width="8.35" height="5.50" fill="#a8b0d9"/>
<rect x="140.20" y="192.67" width="8.35" height="5.50" fill="#a8b0d9"/>
<rect x="140.20" y="197.46" width="8.35" height="5.50" fill="#a8b0d9"/>
<rect x="140.20" y="202.26" width="8.35" height="5.50" fill="#8896d6"/>
<rect x="140.20" y="207.06" width="8.35" height="5.50" fill="#8896d6"/>
<rect x="140.20" y="211.85" width="8.35" height="5.50" fill="#5070c8"/>
<rect x="140.20" y="216.65" width="8.35" height="5.50" fill="#8896d6"/>
<rect x="140.20" y="221.45" width="8.35" height="5.50" fill="#8896d6"/>
<rect x="140.20" y="226.24" width="8.35" height="5.50" fill="#8896d6"/>
<rect x="140.20" y="231.04" width="8.35" height="5.50" fill="#8896d6"/>
<rect x="140.20" y="235.83" width="8.35" height="5.50" fill="#8896d6"/>
<rect x="140.20" y="240.63" width="8.35" height="5.50" fill="#8896d6"/>
<rect x="140.20" y="245.43" width="8.35" height="5.50" fill="#8896d6"/>
<rect x="140.20" y="250.22" width="8.35" height="5.50" fill="#c0c0c9"/>
<rect x="140.20" y="255.02" width="8.35" height="5.50" fill="#a8b0d9"/>
<rect x="140.20" y="259.82" width="8.35" height="5.50" fill="#a8b0d9"/>
<rect x="140.20" y="264.61" width="8.35" height="5.50" fill="#a8b0d9"/>
<rect x="140.20" y="269.41" width="8.35" height="5.50" fill="#8896d6"/>
<rect x="140.20" y="274.20" width="8.35" height="4.80" fill="#a8b0d9"/>
<text x="6.8" y="16.6" font-size="12" font-weight="bold" fill="#111">A</text>
<text x="152" y="28.65" font-size="4.05" fill="#3a3a3a" text-rendering="geometricPrecision">ITGAX</text>
<text x="152" y="33.44" font-size="4.05" fill="#3a3a3a" text-rendering="geometricPrecision">IQGAP2</text>
<text x="152" y="38.24" font-size="4.05" fill="#3a3a3a" text-rendering="geometricPrecision">ARHGEF12</text>
<text x="152" y="43.04" font-size="4.05" fill="#3a3a3a" text-rendering="geometricPrecision">SOS1</text>
<text x="152" y="47.83" font-size="4.05" fill="#3a3a3a" text-rendering="geometricPrecision">DIAPH2</text>
<text x="152" y="52.63" font-size="4.05" fill="#3a3a3a" text-rendering="geometricPrecision">TIAM2</text>
<text x="152" y="57.43" font-size="4.05" fill="#3a3a3a" text-rendering="geometricPrecision">ROCK2</text>
<text x="152" y="62.22" font-size="4.05" fill="#3a3a3a" text-rendering="geometricPrecision">SSH2</text>
<text x="152" y="67.02" font-size="4.05" fill="#3a3a3a" text-rendering="geometricPrecision">VAV1</text>
<text x="152" y="71.81" font-size="4.05" fill="#3a3a3a" text-rendering="geometricPrecision">ARHGEF1</text>
<text x="152" y="76.61" font-size="4.05" fill="#3a3a3a" text-rendering="geometricPrecision">ROCK1</text>
<text x="152" y="81.41" font-size="4.05" fill="#3a3a3a" text-rendering="geometricPrecision">PPP1R12A</text>
<text x="152" y="86.20" font-size="4.05" fill="#3a3a3a" text-rendering="geometricPrecision">VAV3</text>
<text x="152" y="91.00" font-size="4.05" fill="#3a3a3a" text-rendering="geometricPrecision">APC</text>
<text x="152" y="95.80" font-size="4.05" fill="#3a3a3a" text-rendering="geometricPrecision">ITGAL</text>
<text x="152" y="100.59" font-size="4.05" fill="#3a3a3a" text-rendering="geometricPrecision">CYFIP2</text>
<text x="152" y="105.39" font-size="4.05" fill="#3a3a3a" text-rendering="geometricPrecision">DIAPH1</text>
<text x="152" y="110.18" font-size="4.05" fill="#3a3a3a" text-rendering="geometricPrecision">PIK3R5</text>
<text x="152" y="114.98" font-size="4.05" fill="#3a3a3a" text-rendering="geometricPrecision">ITGAM</text>
<text x="152" y="119.78" font-size="4.05" fill="#3a3a3a" text-rendering="geometricPrecision">VCL</text>
<text x="152" y="124.57" font-size="4.05" fill="#3a3a3a" text-rendering="geometricPrecision">WASF2</text>
<text x="152" y="129.37" font-size="4.05" fill="#3a3a3a" text-rendering="geometricPrecision">ITGB1</text>
<text x="152" y="134.17" font-size="4.05" fill="#3a3a3a" text-rendering="geometricPrecision">ARPC1B</text>
<text x="152" y="138.96" font-size="4.05" fill="#3a3a3a" text-rendering="geometricPrecision">CSK</text>
<text x="152" y="143.76" font-size="4.05" fill="#3a3a3a" text-rendering="geometricPrecision">WAS</text>
<text x="152" y="148.55" font-size="4.05" fill="#3a3a3a" text-rendering="geometricPrecision">RAC2</text>
<text x="152" y="153.35" font-size="4.05" fill="#3a3a3a" text-rendering="geometricPrecision">ARPC5</text>
<text x="152" y="158.15" font-size="4.05" fill="#3a3a3a" text-rendering="geometricPrecision">MYL12A</text>
<text x="152" y="162.94" font-size="4.05" fill="#3a3a3a" text-rendering="geometricPrecision">MYL12B</text>
<text x="152" y="167.74" font-size="4.05" fill="#3a3a3a" text-rendering="geometricPrecision">PFN1</text>
<text x="152" y="172.53" font-size="4.05" fill="#3a3a3a" text-rendering="geometricPrecision">PPP1CA</text>
<text x="152" y="177.33" font-size="4.05" fill="#3a3a3a" text-rendering="geometricPrecision">ARPC3</text>
<text x="152" y="182.13" font-size="4.05" fill="#3a3a3a" text-rendering="geometricPrecision">BRK1</text>
<text x="152" y="186.92" font-size="4.05" fill="#3a3a3a" text-rendering="geometricPrecision">ARPC4</text>
<text x="152" y="191.72" font-size="4.05" fill="#3a3a3a" text-rendering="geometricPrecision">ITGB7</text>
<text x="152" y="196.52" font-size="4.05" fill="#3a3a3a" text-rendering="geometricPrecision">ITGB2</text>
<text x="152" y="201.31" font-size="4.05" fill="#3a3a3a" text-rendering="geometricPrecision">CFL1</text>
<text x="152" y="206.11" font-size="4.05" fill="#3a3a3a" text-rendering="geometricPrecision">ITGA6</text>
<text x="152" y="210.90" font-size="4.05" fill="#3a3a3a" text-rendering="geometricPrecision">GSN</text>
<text x="152" y="215.70" font-size="4.05" fill="#3a3a3a" text-rendering="geometricPrecision">PAK2</text>
<text x="152" y="220.50" font-size="4.05" fill="#3a3a3a" text-rendering="geometricPrecision">ARHGAP35</text>
<text x="152" y="225.29" font-size="4.05" fill="#3a3a3a" text-rendering="geometricPrecision">PDGFD</text>
<text x="152" y="230.09" font-size="4.05" fill="#3a3a3a" text-rendering="geometricPrecision">PIP4K2A</text>
<text x="152" y="234.89" font-size="4.05" fill="#3a3a3a" text-rendering="geometricPrecision">ITGA4</text>
<text x="152" y="239.68" font-size="4.05" fill="#3a3a3a" text-rendering="geometricPrecision">PIK3CD</text>
<text x="152" y="244.48" font-size="4.05" fill="#3a3a3a" text-rendering="geometricPrecision">ARHGEF6</text>
<text x="152" y="249.27" font-size="4.05" fill="#3a3a3a" text-rendering="geometricPrecision">ACTN4</text>
<text x="152" y="254.07" font-size="4.05" fill="#3a3a3a" text-rendering="geometricPrecision">MYH9</text>
<text x="152" y="258.87" font-size="4.05" fill="#3a3a3a" text-rendering="geometricPrecision">MAPK1</text>
<text x="152" y="263.66" font-size="4.05" fill="#3a3a3a" text-rendering="geometricPrecision">TMSB4X</text>
<text x="152" y="268.46" font-size="4.05" fill="#3a3a3a" text-rendering="geometricPrecision">RHOA</text>
<text x="152" y="273.26" font-size="4.05" fill="#3a3a3a" text-rendering="geometricPrecision">ACTB</text>
<text x="152" y="278.05" font-size="4.05" fill="#3a3a3a" text-rendering="geometricPrecision">ACTG1</text>
<path d="M96.85,24.30V18.50H105.15V24.30" stroke="#555" stroke-width="0.8" fill="none"/>
<path d="M88.80,24.30V16.60H101.00V18.50" stroke="#555" stroke-width="0.8" fill="none"/>
<path d="M81.00,24.30V15.40H94.90V16.60" stroke="#555" stroke-width="0.8" fill="none"/>
<path d="M71.35,24.30V13.10H87.95V15.40" stroke="#555" stroke-width="0.8" fill="none"/>
<path d="M61.45,24.30V11.50H79.65V13.10" stroke="#555" stroke-width="0.8" fill="none"/>
<path d="M41.70,24.30V13.10H51.60V24.30" stroke="#555" stroke-width="0.8" fill="none"/>
<path d="M46.65,13.10V7.40H70.55V11.50" stroke="#555" stroke-width="0.8" fill="none"/>
<text x="121.3" y="22.3" font-size="6.6" fill="#444" text-anchor="middle">BM</text>
<text x="140.2" y="22.3" font-size="6.6" fill="#444" text-anchor="middle">PB</text>
<text x="41.70" y="288.5" font-size="6.8" fill="#333" text-anchor="middle">5</text>
<text x="51.60" y="288.5" font-size="6.8" fill="#333" text-anchor="middle">8</text>
<text x="61.45" y="288.5" font-size="6.8" fill="#333" text-anchor="middle">7</text>
<text x="71.35" y="288.5" font-size="6.8" fill="#333" text-anchor="middle">4</text>
<text x="81.00" y="288.5" font-size="6.8" fill="#333" text-anchor="middle">3</text>
<text x="88.80" y="288.5" font-size="6.8" fill="#333" text-anchor="middle">2</text>
<text x="96.85" y="288.5" font-size="6.8" fill="#333" text-anchor="middle">1</text>
<text x="105.15" y="288.5" font-size="6.8" fill="#333" text-anchor="middle">6</text>
<text transform="translate(119.30,282) rotate(-90)" font-size="6.4" fill="#333" text-anchor="end">HD</text>
<text transform="translate(127.85,282) rotate(-90)" font-size="6.4" fill="#333" text-anchor="end">MM</text>
<text transform="translate(138.35,282) rotate(-90)" font-size="6.4" fill="#333" text-anchor="end">HD</text>
<text transform="translate(146.65,282) rotate(-90)" font-size="6.4" fill="#333" text-anchor="end">MM</text>
<text x="73.55" y="300.5" font-size="7.6" fill="#333" text-anchor="middle" textLength="32.7" lengthAdjust="spacingAndGlyphs">NK clusters</text>
<text transform="translate(13.6,157) rotate(-90)" font-size="6.4" fill="#333" text-anchor="middle" textLength="152" lengthAdjust="spacingAndGlyphs">REGULATION_OF_ACTIN_CYTOSKELETON</text>
<defs><linearGradient id="cm" x1="0" y1="0" x2="0" y2="1"><stop offset="0" stop-color="#8e1b1b"/><stop offset="0.25" stop-color="#c0685e"/><stop offset="0.5" stop-color="#d4d2d4"/><stop offset="0.75" stop-color="#8e9ad6"/><stop offset="1" stop-color="#3f5fc0"/></linearGradient></defs>
<text x="177.4" y="109.4" font-size="6.3" fill="#333">expr</text>
<rect x="177.9" y="113" width="7" height="36.5" fill="url(#cm)"/>
<text x="188" y="116.9" font-size="6.5" fill="#333">1</text>
<text x="188" y="125.8" font-size="6.5" fill="#333">0.5</text>
<text x="188" y="133.9" font-size="6.5" fill="#333">0</text>
<text x="188" y="142.0" font-size="6.5" fill="#333">−0.5</text>
<text x="188" y="149.6" font-size="6.5" fill="#333">−1</text>
<text x="176" y="172.3" font-size="6.5" fill="#333">z-score</text>
<rect x="178.3" y="176.1" width="7" height="35.2" fill="url(#cm)"/>
<text x="188" y="179.6" font-size="6.5" fill="#333">2</text>
<text x="188" y="187.9" font-size="6.5" fill="#333">1</text>
<text x="188" y="195.7" font-size="6.5" fill="#333">0</text>
<text x="188" y="204.4" font-size="6.5" fill="#333">−1</text>
<text x="188" y="212.5" font-size="6.5" fill="#333">−2</text>
<path d="M37.30,41.59H35.80V46.38H37.30" stroke="#444" stroke-width="0.7" fill="none"/>
<path d="M37.30,142.31H31.93V147.10H37.30" stroke="#444" stroke-width="0.7" fill="none"/>
<path d="M37.30,36.79H31.21V43.98H35.80" stroke="#444" stroke-width="0.7" fill="none"/>
<path d="M37.30,132.72H31.21V137.51H37.30" stroke="#444" stroke-width="0.7" fill="none"/>
<path d="M37.30,151.90H31.21V156.70H37.30" stroke="#444" stroke-width="0.7" fill="none"/>
<path d="M37.30,175.88H31.21V180.68H37.30" stroke="#444" stroke-width="0.7" fill="none"/>
<path d="M37.30,233.44H31.21V238.23H37.30" stroke="#444" stroke-width="0.7" fill="none"/>
<path d="M31.93,144.71H30.61V154.30H31.21" stroke="#444" stroke-width="0.7" fill="none"/>
<path d="M37.30,223.84H30.62V228.64H37.30" stroke="#444" stroke-width="0.7" fill="none"/>
<path d="M37.30,55.98H30.12V60.77H37.30" stroke="#444" stroke-width="0.7" fill="none"/>
<path d="M37.30,75.16H30.12V79.96H37.30" stroke="#444" stroke-width="0.7" fill="none"/>
<path d="M37.30,271.81H30.12V276.60H37.30" stroke="#444" stroke-width="0.7" fill="none"/>
<path d="M31.21,135.11H30.01V149.50H30.61" stroke="#444" stroke-width="0.7" fill="none"/>
<path d="M37.30,161.49H29.68V166.29H37.30" stroke="#444" stroke-width="0.7" fill="none"/>
<path d="M37.30,190.27H29.68V195.07H37.30" stroke="#444" stroke-width="0.7" fill="none"/>
<path d="M37.30,252.62H29.68V257.42H37.30" stroke="#444" stroke-width="0.7" fill="none"/>
<path d="M30.12,58.37H29.48V65.57H37.30" stroke="#444" stroke-width="0.7" fill="none"/>
<path d="M37.30,267.01H29.48V274.20H30.12" stroke="#444" stroke-width="0.7" fill="none"/>
<path d="M29.68,163.89H29.08V171.08H37.30" stroke="#444" stroke-width="0.7" fill="none"/>
<path d="M29.08,167.49H28.48V178.28H31.21" stroke="#444" stroke-width="0.7" fill="none"/>
<path d="M37.30,204.66H29.28V209.45H37.30" stroke="#444" stroke-width="0.7" fill="none"/>
<path d="M29.68,192.67H28.95V199.86H37.30" stroke="#444" stroke-width="0.7" fill="none"/>
<path d="M37.30,31.99H28.93V40.39H31.21" stroke="#444" stroke-width="0.7" fill="none"/>
<path d="M37.30,113.53H28.91V118.33H37.30" stroke="#444" stroke-width="0.7" fill="none"/>
<path d="M37.30,51.18H28.88V61.97H29.48" stroke="#444" stroke-width="0.7" fill="none"/>
<path d="M37.30,247.82H28.57V255.02H29.68" stroke="#444" stroke-width="0.7" fill="none"/>
<path d="M28.93,36.19H28.28V56.58H28.88" stroke="#444" stroke-width="0.7" fill="none"/>
<path d="M30.12,77.56H28.42V84.75H37.30" stroke="#444" stroke-width="0.7" fill="none"/>
<path d="M37.30,185.47H28.35V196.27H28.95" stroke="#444" stroke-width="0.7" fill="none"/>
<path d="M28.48,172.88H27.75V190.87H28.35" stroke="#444" stroke-width="0.7" fill="none"/>
<path d="M37.30,219.05H28.12V226.24H30.62" stroke="#444" stroke-width="0.7" fill="none"/>
<path d="M37.30,214.25H27.52V222.64H28.12" stroke="#444" stroke-width="0.7" fill="none"/>
<path d="M31.21,235.83H27.84V243.03H37.30" stroke="#444" stroke-width="0.7" fill="none"/>
<path d="M28.91,115.93H27.75V123.12H37.30" stroke="#444" stroke-width="0.7" fill="none"/>
<path d="M30.01,142.31H27.15V181.88H27.75" stroke="#444" stroke-width="0.7" fill="none"/>
<path d="M37.30,99.14H27.39V103.94H37.30" stroke="#444" stroke-width="0.7" fill="none"/>
<path d="M37.30,70.36H26.80V81.16H28.42" stroke="#444" stroke-width="0.7" fill="none"/>
<path d="M26.80,75.76H26.20V89.55H37.30" stroke="#444" stroke-width="0.7" fill="none"/>
<path d="M27.52,218.45H26.38V239.43H27.84" stroke="#444" stroke-width="0.7" fill="none"/>
<path d="M37.30,262.21H26.35V270.61H29.48" stroke="#444" stroke-width="0.7" fill="none"/>
<path d="M27.39,101.54H25.77V108.73H37.30" stroke="#444" stroke-width="0.7" fill="none"/>
<path d="M37.30,94.35H25.17V105.14H25.77" stroke="#444" stroke-width="0.7" fill="none"/>
<path d="M28.28,46.38H25.59V82.65H26.20" stroke="#444" stroke-width="0.7" fill="none"/>
<path d="M25.17,99.74H24.57V119.53H27.75" stroke="#444" stroke-width="0.7" fill="none"/>
<path d="M25.59,64.52H23.97V109.63H24.57" stroke="#444" stroke-width="0.7" fill="none"/>
<path d="M29.28,207.06H23.26V228.94H26.38" stroke="#444" stroke-width="0.7" fill="none"/>
<path d="M37.30,127.92H22.91V162.09H27.15" stroke="#444" stroke-width="0.7" fill="none"/>
<path d="M23.97,87.08H22.31V145.01H22.91" stroke="#444" stroke-width="0.7" fill="none"/>
<path d="M22.31,116.04H21.71V218.00H23.26" stroke="#444" stroke-width="0.7" fill="none"/>
<path d="M28.57,251.42H21.64V266.41H26.35" stroke="#444" stroke-width="0.7" fill="none"/>
<path d="M21.71,167.02H21.04V258.92H21.64" stroke="#444" stroke-width="0.7" fill="none"/>
<path d="M37.30,27.20H19.60V212.97H21.04" stroke="#444" stroke-width="0.7" fill="none"/>
<text x="207.70" y="16.60" font-size="12" fill="#111" text-anchor="start" font-weight="bold">B</text>
<text x="247.30" y="19.90" font-size="6.4" fill="#333" text-anchor="middle" textLength="29.3" lengthAdjust="spacingAndGlyphs">RPMI8226</text>
<text x="299.70" y="12.00" font-size="6.4" fill="#333" text-anchor="middle" textLength="29.3" lengthAdjust="spacingAndGlyphs">RPMI8226</text>
<text x="300.00" y="19.90" font-size="6.4" fill="#333" text-anchor="middle" >+ISA</text>
<rect x="229.4" y="24.4" width="36.900000000000006" height="35.6" fill="none" stroke="#c8c8c8" stroke-width="0.6"/>
<path d="M229.4,24.4V60H266.3" stroke="#9a9a9a" stroke-width="0.6" fill="none"/>
<path d="M228.1,28.2H229.4" stroke="#555" stroke-width="0.5"/>
<text x="227.40" y="29.70" font-size="4.3" fill="#555" text-anchor="end">10<tspan font-size="3.10" dy="-1.81">4</tspan></text>
<path d="M228.1,38.0H229.4" stroke="#555" stroke-width="0.5"/>
<text x="227.40" y="39.50" font-size="4.3" fill="#555" text-anchor="end">10<tspan font-size="3.10" dy="-1.81">3</tspan></text>
<path d="M228.1,47.8H229.4" stroke="#555" stroke-width="0.5"/>
<text x="227.40" y="49.30" font-size="4.3" fill="#555" text-anchor="end">10<tspan font-size="3.10" dy="-1.81">2</tspan></text>
<path d="M228.1,55.4H229.4" stroke="#555" stroke-width="0.5"/>
<text x="227.40" y="56.90" font-size="4.3" fill="#555" text-anchor="end">0</text>
<path d="M236.9,60V61.3" stroke="#555" stroke-width="0.5"/>
<text x="236.90" y="66.60" font-size="4.3" fill="#555" text-anchor="middle">0</text>
<path d="M248.4,60V61.3" stroke="#555" stroke-width="0.5"/>
<text x="248.40" y="66.60" font-size="4.3" fill="#555" text-anchor="middle">10<tspan font-size="3.10" dy="-1.81">3</tspan></text>
<path d="M256.5,60V61.3" stroke="#555" stroke-width="0.5"/>
<text x="256.50" y="66.60" font-size="4.3" fill="#555" text-anchor="middle">10<tspan font-size="3.10" dy="-1.81">4</tspan></text>
<path d="M264.6,60V61.3" stroke="#555" stroke-width="0.5"/>
<text x="264.60" y="66.60" font-size="4.3" fill="#555" text-anchor="middle">10<tspan font-size="3.10" dy="-1.81">5</tspan></text>
<rect x="243.40" y="24.40" width="22.90" height="14.30" fill="none" stroke="#777" stroke-width="0.7"/>
<text x="265.90" y="30.70" font-size="6.8" fill="#222" text-anchor="end" >15.4</text>
<g transform="rotate(0 251.9 54.599999999999994)">
<ellipse cx="251.9" cy="54.60" rx="5.60" ry="3.20" fill="#777" fill-opacity="0.28" stroke="#555" stroke-width="0.45"/>
<ellipse cx="251.9" cy="54.84" rx="4.20" ry="2.40" fill="#777" fill-opacity="0.28" stroke="#555" stroke-width="0.45"/>
<ellipse cx="251.9" cy="55.08" rx="2.80" ry="1.60" fill="#777" fill-opacity="0.28" stroke="#555" stroke-width="0.45"/>
<ellipse cx="251.9" cy="55.32" rx="1.40" ry="0.80" fill="#777" fill-opacity="0.28" stroke="#555" stroke-width="0.45"/>
</g>
<g transform="rotate(0 251.9 47.4)">
<ellipse cx="251.9" cy="47.40" rx="1.50" ry="5.00" fill="#ddd" fill-opacity="0.07" stroke="#ccc" stroke-width="0.45"/>
</g>
<g transform="rotate(0 250.70000000000002 33.4)">
<ellipse cx="250.70000000000002" cy="33.40" rx="4.00" ry="2.20" fill="#bbb" fill-opacity="0.10" stroke="#aaa" stroke-width="0.45"/>
<ellipse cx="250.70000000000002" cy="33.73" rx="2.00" ry="1.10" fill="#bbb" fill-opacity="0.10" stroke="#aaa" stroke-width="0.45"/>
</g>
<circle cx="229.4" cy="55.40" r="0.8" fill="#111"/>
<path d="M232.4,59.7H236.4" stroke="#222" stroke-width="0.8"/>
<rect x="281.3" y="24.4" width="37.099999999999966" height="35.6" fill="none" stroke="#c8c8c8" stroke-width="0.6"/>
<path d="M281.3,24.4V60H318.4" stroke="#9a9a9a" stroke-width="0.6" fill="none"/>
<path d="M280.0,28.2H281.3" stroke="#555" stroke-width="0.5"/>
<text x="279.30" y="29.70" font-size="4.3" fill="#555" text-anchor="end">10<tspan font-size="3.10" dy="-1.81">4</tspan></text>
<path d="M280.0,38.0H281.3" stroke="#555" stroke-width="0.5"/>
<text x="279.30" y="39.50" font-size="4.3" fill="#555" text-anchor="end">10<tspan font-size="3.10" dy="-1.81">3</tspan></text>
<path d="M280.0,47.8H281.3" stroke="#555" stroke-width="0.5"/>
<text x="279.30" y="49.30" font-size="4.3" fill="#555" text-anchor="end">10<tspan font-size="3.10" dy="-1.81">2</tspan></text>
<path d="M280.0,55.4H281.3" stroke="#555" stroke-width="0.5"/>
<text x="279.30" y="56.90" font-size="4.3" fill="#555" text-anchor="end">0</text>
<path d="M288.8,60V61.3" stroke="#555" stroke-width="0.5"/>
<text x="288.80" y="66.60" font-size="4.3" fill="#555" text-anchor="middle">0</text>
<path d="M300.3,60V61.3" stroke="#555" stroke-width="0.5"/>
<text x="300.30" y="66.60" font-size="4.3" fill="#555" text-anchor="middle">10<tspan font-size="3.10" dy="-1.81">3</tspan></text>
<path d="M308.40000000000003,60V61.3" stroke="#555" stroke-width="0.5"/>
<text x="308.40" y="66.60" font-size="4.3" fill="#555" text-anchor="middle">10<tspan font-size="3.10" dy="-1.81">4</tspan></text>
<path d="M316.5,60V61.3" stroke="#555" stroke-width="0.5"/>
<text x="316.50" y="66.60" font-size="4.3" fill="#555" text-anchor="middle">10<tspan font-size="3.10" dy="-1.81">5</tspan></text>
<rect x="295.30" y="24.40" width="23.10" height="14.30" fill="none" stroke="#777" stroke-width="0.7"/>
<text x="318.00" y="30.70" font-size="6.8" fill="#222" text-anchor="end" >35.6</text>
<g transform="rotate(0 305.0 54.599999999999994)">
<ellipse cx="305.0" cy="54.60" rx="6.00" ry="2.80" fill="#666" fill-opacity="0.28" stroke="#444" stroke-width="0.45"/>
<ellipse cx="305.0" cy="54.77" rx="4.80" ry="2.24" fill="#666" fill-opacity="0.28" stroke="#444" stroke-width="0.45"/>
<ellipse cx="305.0" cy="54.94" rx="3.60" ry="1.68" fill="#666" fill-opacity="0.28" stroke="#444" stroke-width="0.45"/>
<ellipse cx="305.0" cy="55.10" rx="2.40" ry="1.12" fill="#666" fill-opacity="0.28" stroke="#444" stroke-width="0.45"/>
<ellipse cx="305.0" cy="55.27" rx="1.20" ry="0.56" fill="#666" fill-opacity="0.28" stroke="#444" stroke-width="0.45"/>
</g>
<g transform="rotate(0 304.8 46.4)">
<ellipse cx="304.8" cy="46.40" rx="2.00" ry="6.50" fill="#ccc" fill-opacity="0.07" stroke="#bbb" stroke-width="0.45"/>
<ellipse cx="304.8" cy="47.38" rx="1.00" ry="3.25" fill="#ccc" fill-opacity="0.07" stroke="#bbb" stroke-width="0.45"/>
</g>
<g transform="rotate(0 304.0 32.7)">
<ellipse cx="304.0" cy="32.70" rx="5.00" ry="3.50" fill="#aaa" fill-opacity="0.17" stroke="#999" stroke-width="0.45"/>
<ellipse cx="304.0" cy="33.05" rx="3.33" ry="2.33" fill="#aaa" fill-opacity="0.17" stroke="#999" stroke-width="0.45"/>
<ellipse cx="304.0" cy="33.40" rx="1.67" ry="1.17" fill="#aaa" fill-opacity="0.17" stroke="#999" stroke-width="0.45"/>
</g>
<circle cx="281.3" cy="55.40" r="0.8" fill="#111"/>
<path d="M284.3,59.7H288.3" stroke="#222" stroke-width="0.8"/>
<rect x="229.4" y="75.2" width="36.900000000000006" height="36.3" fill="none" stroke="#c8c8c8" stroke-width="0.6"/>
<path d="M229.4,75.2V111.5H266.3" stroke="#9a9a9a" stroke-width="0.6" fill="none"/>
<path d="M228.1,79.0H229.4" stroke="#555" stroke-width="0.5"/>
<text transform="translate(226.20,79.00) rotate(-90)" font-size="4.3" fill="#555" text-anchor="middle">10<tspan font-size="3.10" dy="-1.81">4</tspan></text>
<path d="M228.1,88.8H229.4" stroke="#555" stroke-width="0.5"/>
<text transform="translate(226.20,88.80) rotate(-90)" font-size="4.3" fill="#555" text-anchor="middle">10<tspan font-size="3.10" dy="-1.81">3</tspan></text>
<path d="M228.1,98.6H229.4" stroke="#555" stroke-width="0.5"/>
<text transform="translate(226.20,98.60) rotate(-90)" font-size="4.3" fill="#555" text-anchor="middle">10<tspan font-size="3.10" dy="-1.81">2</tspan></text>
<path d="M228.1,106.2H229.4" stroke="#555" stroke-width="0.5"/>
<text transform="translate(226.20,106.20) rotate(-90)" font-size="4.3" fill="#555" text-anchor="middle">0</text>
<path d="M236.9,111.5V112.8" stroke="#555" stroke-width="0.5"/>
<text x="236.90" y="118.10" font-size="4.3" fill="#555" text-anchor="middle">0</text>
<path d="M248.4,111.5V112.8" stroke="#555" stroke-width="0.5"/>
<text x="248.40" y="118.10" font-size="4.3" fill="#555" text-anchor="middle">10<tspan font-size="3.10" dy="-1.81">3</tspan></text>
<path d="M256.5,111.5V112.8" stroke="#555" stroke-width="0.5"/>
<text x="256.50" y="118.10" font-size="4.3" fill="#555" text-anchor="middle">10<tspan font-size="3.10" dy="-1.81">4</tspan></text>
<path d="M264.6,111.5V112.8" stroke="#555" stroke-width="0.5"/>
<text x="264.60" y="118.10" font-size="4.3" fill="#555" text-anchor="middle">10<tspan font-size="3.10" dy="-1.81">5</tspan></text>
<rect x="243.40" y="75.20" width="22.90" height="14.30" fill="none" stroke="#777" stroke-width="0.7"/>
<text x="265.90" y="81.50" font-size="6.8" fill="#222" text-anchor="end" >10.2</text>
<g transform="rotate(0 252.8 105.80000000000001)">
<ellipse cx="252.8" cy="105.80" rx="6.20" ry="3.20" fill="#666" fill-opacity="0.28" stroke="#444" stroke-width="0.45"/>
<ellipse cx="252.8" cy="105.99" rx="4.96" ry="2.56" fill="#666" fill-opacity="0.28" stroke="#444" stroke-width="0.45"/>
<ellipse cx="252.8" cy="106.18" rx="3.72" ry="1.92" fill="#666" fill-opacity="0.28" stroke="#444" stroke-width="0.45"/>
<ellipse cx="252.8" cy="106.38" rx="2.48" ry="1.28" fill="#666" fill-opacity="0.28" stroke="#444" stroke-width="0.45"/>
<ellipse cx="252.8" cy="106.57" rx="1.24" ry="0.64" fill="#666" fill-opacity="0.28" stroke="#444" stroke-width="0.45"/>
</g>
<g transform="rotate(0 250.0 84.60000000000001)">
<ellipse cx="250.0" cy="84.60" rx="4.00" ry="2.00" fill="#ccc" fill-opacity="0.10" stroke="#bbb" stroke-width="0.45"/>
<ellipse cx="250.0" cy="84.90" rx="2.00" ry="1.00" fill="#ccc" fill-opacity="0.10" stroke="#bbb" stroke-width="0.45"/>
</g>
<circle cx="229.4" cy="106.20" r="0.8" fill="#111"/>
<path d="M232.4,111.2H236.4" stroke="#222" stroke-width="0.8"/>
<rect x="281.3" y="75.2" width="37.099999999999966" height="36.3" fill="none" stroke="#c8c8c8" stroke-width="0.6"/>
<path d="M281.3,75.2V111.5H318.4" stroke="#9a9a9a" stroke-width="0.6" fill="none"/>
<path d="M280.0,79.0H281.3" stroke="#555" stroke-width="0.5"/>
<text transform="translate(278.10,79.00) rotate(-90)" font-size="4.3" fill="#555" text-anchor="middle">10<tspan font-size="3.10" dy="-1.81">4</tspan></text>
<path d="M280.0,88.8H281.3" stroke="#555" stroke-width="0.5"/>
<text transform="translate(278.10,88.80) rotate(-90)" font-size="4.3" fill="#555" text-anchor="middle">10<tspan font-size="3.10" dy="-1.81">3</tspan></text>
<path d="M280.0,98.6H281.3" stroke="#555" stroke-width="0.5"/>
<text transform="translate(278.10,98.60) rotate(-90)" font-size="4.3" fill="#555" text-anchor="middle">10<tspan font-size="3.10" dy="-1.81">2</tspan></text>
<path d="M280.0,106.2H281.3" stroke="#555" stroke-width="0.5"/>
<text transform="translate(278.10,106.20) rotate(-90)" font-size="4.3" fill="#555" text-anchor="middle">0</text>
<path d="M288.8,111.5V112.8" stroke="#555" stroke-width="0.5"/>
<text x="288.80" y="118.10" font-size="4.3" fill="#555" text-anchor="middle">0</text>
<path d="M300.3,111.5V112.8" stroke="#555" stroke-width="0.5"/>
<text x="300.30" y="118.10" font-size="4.3" fill="#555" text-anchor="middle">10<tspan font-size="3.10" dy="-1.81">3</tspan></text>
<path d="M308.40000000000003,111.5V112.8" stroke="#555" stroke-width="0.5"/>
<text x="308.40" y="118.10" font-size="4.3" fill="#555" text-anchor="middle">10<tspan font-size="3.10" dy="-1.81">4</tspan></text>
<path d="M316.5,111.5V112.8" stroke="#555" stroke-width="0.5"/>
<text x="316.50" y="118.10" font-size="4.3" fill="#555" text-anchor="middle">10<tspan font-size="3.10" dy="-1.81">5</tspan></text>
<rect x="295.30" y="75.20" width="23.10" height="14.30" fill="none" stroke="#777" stroke-width="0.7"/>
<text x="318.00" y="81.50" font-size="6.8" fill="#222" text-anchor="end" >15.1</text>
<g transform="rotate(0 305.90000000000003 105.80000000000001)">
<ellipse cx="305.90000000000003" cy="105.80" rx="6.50" ry="3.30" fill="#666" fill-opacity="0.28" stroke="#444" stroke-width="0.45"/>
<ellipse cx="305.90000000000003" cy="106.00" rx="5.20" ry="2.64" fill="#666" fill-opacity="0.28" stroke="#444" stroke-width="0.45"/>
<ellipse cx="305.90000000000003" cy="106.20" rx="3.90" ry="1.98" fill="#666" fill-opacity="0.28" stroke="#444" stroke-width="0.45"/>
<ellipse cx="305.90000000000003" cy="106.39" rx="2.60" ry="1.32" fill="#666" fill-opacity="0.28" stroke="#444" stroke-width="0.45"/>
<ellipse cx="305.90000000000003" cy="106.59" rx="1.30" ry="0.66" fill="#666" fill-opacity="0.28" stroke="#444" stroke-width="0.45"/>
</g>
<g transform="rotate(0 303.2 84.60000000000001)">
<ellipse cx="303.2" cy="84.60" rx="3.80" ry="2.50" fill="#ccc" fill-opacity="0.10" stroke="#bbb" stroke-width="0.45"/>
<ellipse cx="303.2" cy="84.98" rx="1.90" ry="1.25" fill="#ccc" fill-opacity="0.10" stroke="#bbb" stroke-width="0.45"/>
</g>
<circle cx="281.3" cy="106.20" r="0.8" fill="#111"/>
<path d="M284.3,111.2H288.3" stroke="#222" stroke-width="0.8"/>
<text transform="translate(324.60,42.00) rotate(-90)" font-size="6.5" fill="#3b5f9e" text-anchor="middle" >HD</text>
<text transform="translate(325.00,94.00) rotate(-90)" font-size="6.5" fill="#c8102e" text-anchor="middle" >NDMM</text>
<text transform="translate(214.00,68.40) rotate(-90)" font-size="7.8" fill="#333" text-anchor="middle" textLength="55" lengthAdjust="spacingAndGlyphs">RPMI8226-PKH67</text>
<text x="273.90" y="129.80" font-size="8" fill="#333" text-anchor="middle" textLength="21.5" lengthAdjust="spacingAndGlyphs">NK-CTV</text>
<text x="339.00" y="16.60" font-size="12" fill="#111" text-anchor="start" font-weight="bold">C</text>
<text x="380.50" y="19.90" font-size="6.4" fill="#333" text-anchor="middle" >NT</text>
<text x="432.40" y="19.90" font-size="6.4" fill="#333" text-anchor="middle" textLength="29.3" lengthAdjust="spacingAndGlyphs">RPMI8226</text>
<text x="484.50" y="12.00" font-size="6.4" fill="#333" text-anchor="middle" textLength="29.3" lengthAdjust="spacingAndGlyphs">RPMI8226</text>
<text x="485.00" y="19.90" font-size="6.4" fill="#333" text-anchor="middle" >+ISA</text>
<rect x="362.5" y="24" width="36.0" height="36" fill="none" stroke="#c8c8c8" stroke-width="0.6"/>
<path d="M362.5,24V60H398.5" stroke="#9a9a9a" stroke-width="0.6" fill="none"/>
<path d="M361.2,24.3H362.5" stroke="#555" stroke-width="0.5"/>
<text x="360.50" y="25.80" font-size="4.3" fill="#555" text-anchor="end">10<tspan font-size="3.10" dy="-1.81">5</tspan></text>
<path d="M361.2,31.8H362.5" stroke="#555" stroke-width="0.5"/>
<text x="360.50" y="33.30" font-size="4.3" fill="#555" text-anchor="end">10<tspan font-size="3.10" dy="-1.81">4</tspan></text>
<path d="M361.2,39.8H362.5" stroke="#555" stroke-width="0.5"/>
<text x="360.50" y="41.30" font-size="4.3" fill="#555" text-anchor="end">10<tspan font-size="3.10" dy="-1.81">3</tspan></text>
<path d="M361.2,49H362.5" stroke="#555" stroke-width="0.5"/>
<text x="360.50" y="50.50" font-size="4.3" fill="#555" text-anchor="end">0</text>
<path d="M361.2,57H362.5" stroke="#555" stroke-width="0.5"/>
<text x="360.50" y="58.50" font-size="4.3" fill="#555" text-anchor="end">−10<tspan font-size="3.10" dy="-1.81">3</tspan></text>
<path d="M366.5,60V61.3" stroke="#555" stroke-width="0.5"/>
<text x="366.50" y="66.60" font-size="4.3" fill="#555" text-anchor="middle">0</text>
<path d="M379.8,60V61.3" stroke="#555" stroke-width="0.5"/>
<text x="379.80" y="66.60" font-size="4.3" fill="#555" text-anchor="middle">10<tspan font-size="3.10" dy="-1.81">4</tspan></text>
<path d="M391.9,60V61.3" stroke="#555" stroke-width="0.5"/>
<text x="391.90" y="66.60" font-size="4.3" fill="#555" text-anchor="middle">10<tspan font-size="3.10" dy="-1.81">5</tspan></text>
<circle cx="362.5" cy="49.00" r="0.7" fill="#111"/>
<path d="M363.5,59.7H367.5" stroke="#222" stroke-width="0.8"/>
<g transform="rotate(12 367.3 40)">
<ellipse cx="367.3" cy="40.00" rx="5.00" ry="7.50" fill="#444" fill-opacity="0.32" stroke="#222" stroke-width="0.45"/>
<ellipse cx="367.3" cy="40.45" rx="4.00" ry="6.00" fill="#444" fill-opacity="0.32" stroke="#222" stroke-width="0.45"/>
<ellipse cx="367.3" cy="40.90" rx="3.00" ry="4.50" fill="#444" fill-opacity="0.32" stroke="#222" stroke-width="0.45"/>
<ellipse cx="367.3" cy="41.35" rx="2.00" ry="3.00" fill="#444" fill-opacity="0.32" stroke="#222" stroke-width="0.45"/>
<ellipse cx="367.3" cy="41.80" rx="1.00" ry="1.50" fill="#444" fill-opacity="0.32" stroke="#222" stroke-width="0.45"/>
</g>
<rect x="414.8" y="24" width="36.0" height="36" fill="none" stroke="#c8c8c8" stroke-width="0.6"/>
<path d="M414.8,24V60H450.8" stroke="#9a9a9a" stroke-width="0.6" fill="none"/>
<path d="M413.5,24.3H414.8" stroke="#555" stroke-width="0.5"/>
<text x="412.80" y="25.80" font-size="4.3" fill="#555" text-anchor="end">10<tspan font-size="3.10" dy="-1.81">5</tspan></text>
<path d="M413.5,31.8H414.8" stroke="#555" stroke-width="0.5"/>
<text x="412.80" y="33.30" font-size="4.3" fill="#555" text-anchor="end">10<tspan font-size="3.10" dy="-1.81">4</tspan></text>
<path d="M413.5,39.8H414.8" stroke="#555" stroke-width="0.5"/>
<text x="412.80" y="41.30" font-size="4.3" fill="#555" text-anchor="end">10<tspan font-size="3.10" dy="-1.81">3</tspan></text>
<path d="M413.5,49H414.8" stroke="#555" stroke-width="0.5"/>
<text x="412.80" y="50.50" font-size="4.3" fill="#555" text-anchor="end">0</text>
<path d="M413.5,57H414.8" stroke="#555" stroke-width="0.5"/>
<text x="412.80" y="58.50" font-size="4.3" fill="#555" text-anchor="end">−10<tspan font-size="3.10" dy="-1.81">3</tspan></text>
<path d="M418.8,60V61.3" stroke="#555" stroke-width="0.5"/>
<text x="418.80" y="66.60" font-size="4.3" fill="#555" text-anchor="middle">0</text>
<path d="M432.1,60V61.3" stroke="#555" stroke-width="0.5"/>
<text x="432.10" y="66.60" font-size="4.3" fill="#555" text-anchor="middle">10<tspan font-size="3.10" dy="-1.81">4</tspan></text>
<path d="M444.2,60V61.3" stroke="#555" stroke-width="0.5"/>
<text x="444.20" y="66.60" font-size="4.3" fill="#555" text-anchor="middle">10<tspan font-size="3.10" dy="-1.81">5</tspan></text>
<circle cx="414.8" cy="49.00" r="0.7" fill="#111"/>
<path d="M415.8,59.7H419.8" stroke="#222" stroke-width="0.8"/>
<g transform="rotate(0 421.8 32.5)">
<ellipse cx="421.8" cy="32.50" rx="4.50" ry="4.50" fill="#555" fill-opacity="0.28" stroke="#333" stroke-width="0.45"/>
<ellipse cx="421.8" cy="32.95" rx="3.00" ry="3.00" fill="#555" fill-opacity="0.28" stroke="#333" stroke-width="0.45"/>
<ellipse cx="421.8" cy="33.40" rx="1.50" ry="1.50" fill="#555" fill-opacity="0.28" stroke="#333" stroke-width="0.45"/>
</g>
<g transform="rotate(8 422.0 41.5)">
<ellipse cx="422.0" cy="41.50" rx="5.20" ry="6.20" fill="#444" fill-opacity="0.32" stroke="#222" stroke-width="0.45"/>
<ellipse cx="422.0" cy="41.87" rx="4.16" ry="4.96" fill="#444" fill-opacity="0.32" stroke="#222" stroke-width="0.45"/>
<ellipse cx="422.0" cy="42.24" rx="3.12" ry="3.72" fill="#444" fill-opacity="0.32" stroke="#222" stroke-width="0.45"/>
<ellipse cx="422.0" cy="42.62" rx="2.08" ry="2.48" fill="#444" fill-opacity="0.32" stroke="#222" stroke-width="0.45"/>
<ellipse cx="422.0" cy="42.99" rx="1.04" ry="1.24" fill="#444" fill-opacity="0.32" stroke="#222" stroke-width="0.45"/>
</g>
<rect x="467" y="24" width="36" height="36" fill="none" stroke="#c8c8c8" stroke-width="0.6"/>
<path d="M467,24V60H503" stroke="#9a9a9a" stroke-width="0.6" fill="none"/>
<path d="M465.7,24.3H467" stroke="#555" stroke-width="0.5"/>
<text x="465.00" y="25.80" font-size="4.3" fill="#555" text-anchor="end">10<tspan font-size="3.10" dy="-1.81">5</tspan></text>
<path d="M465.7,31.8H467" stroke="#555" stroke-width="0.5"/>
<text x="465.00" y="33.30" font-size="4.3" fill="#555" text-anchor="end">10<tspan font-size="3.10" dy="-1.81">4</tspan></text>
<path d="M465.7,39.8H467" stroke="#555" stroke-width="0.5"/>
<text x="465.00" y="41.30" font-size="4.3" fill="#555" text-anchor="end">10<tspan font-size="3.10" dy="-1.81">3</tspan></text>
<path d="M465.7,49H467" stroke="#555" stroke-width="0.5"/>
<text x="465.00" y="50.50" font-size="4.3" fill="#555" text-anchor="end">0</text>
<path d="M465.7,57H467" stroke="#555" stroke-width="0.5"/>
<text x="465.00" y="58.50" font-size="4.3" fill="#555" text-anchor="end">−10<tspan font-size="3.10" dy="-1.81">3</tspan></text>
<path d="M471,60V61.3" stroke="#555" stroke-width="0.5"/>
<text x="471.00" y="66.60" font-size="4.3" fill="#555" text-anchor="middle">0</text>
<path d="M484.3,60V61.3" stroke="#555" stroke-width="0.5"/>
<text x="484.30" y="66.60" font-size="4.3" fill="#555" text-anchor="middle">10<tspan font-size="3.10" dy="-1.81">4</tspan></text>
<path d="M496.4,60V61.3" stroke="#555" stroke-width="0.5"/>
<text x="496.40" y="66.60" font-size="4.3" fill="#555" text-anchor="middle">10<tspan font-size="3.10" dy="-1.81">5</tspan></text>
<circle cx="467" cy="49.00" r="0.7" fill="#111"/>
<path d="M468,59.7H472" stroke="#222" stroke-width="0.8"/>
<g transform="rotate(0 487 37.2)">
<ellipse cx="487" cy="37.20" rx="10.00" ry="4.20" fill="#c8c8c8" fill-opacity="0.10" stroke="#b0b0b0" stroke-width="0.45"/>
<ellipse cx="487" cy="37.62" rx="6.67" ry="2.80" fill="#c8c8c8" fill-opacity="0.10" stroke="#b0b0b0" stroke-width="0.45"/>
<ellipse cx="487" cy="38.04" rx="3.33" ry="1.40" fill="#c8c8c8" fill-opacity="0.10" stroke="#b0b0b0" stroke-width="0.45"/>
</g>
<g transform="rotate(0 472 32.5)">
<ellipse cx="472" cy="32.50" rx="4.50" ry="4.50" fill="#555" fill-opacity="0.28" stroke="#333" stroke-width="0.45"/>
<ellipse cx="472" cy="32.95" rx="3.00" ry="3.00" fill="#555" fill-opacity="0.28" stroke="#333" stroke-width="0.45"/>
<ellipse cx="472" cy="33.40" rx="1.50" ry="1.50" fill="#555" fill-opacity="0.28" stroke="#333" stroke-width="0.45"/>
</g>
<g transform="rotate(8 472.5 41.5)">
<ellipse cx="472.5" cy="41.50" rx="5.20" ry="6.20" fill="#444" fill-opacity="0.32" stroke="#222" stroke-width="0.45"/>
<ellipse cx="472.5" cy="41.87" rx="4.16" ry="4.96" fill="#444" fill-opacity="0.32" stroke="#222" stroke-width="0.45"/>
<ellipse cx="472.5" cy="42.24" rx="3.12" ry="3.72" fill="#444" fill-opacity="0.32" stroke="#222" stroke-width="0.45"/>
<ellipse cx="472.5" cy="42.62" rx="2.08" ry="2.48" fill="#444" fill-opacity="0.32" stroke="#222" stroke-width="0.45"/>
<ellipse cx="472.5" cy="42.99" rx="1.04" ry="1.24" fill="#444" fill-opacity="0.32" stroke="#222" stroke-width="0.45"/>
</g>
<rect x="362.5" y="75" width="36.0" height="36" fill="none" stroke="#c8c8c8" stroke-width="0.6"/>
<path d="M362.5,75V111H398.5" stroke="#9a9a9a" stroke-width="0.6" fill="none"/>
<path d="M361.2,75.3H362.5" stroke="#555" stroke-width="0.5"/>
<text x="360.50" y="76.80" font-size="4.3" fill="#555" text-anchor="end">10<tspan font-size="3.10" dy="-1.81">5</tspan></text>
<path d="M361.2,82.8H362.5" stroke="#555" stroke-width="0.5"/>
<text x="360.50" y="84.30" font-size="4.3" fill="#555" text-anchor="end">10<tspan font-size="3.10" dy="-1.81">4</tspan></text>
<path d="M361.2,90.8H362.5" stroke="#555" stroke-width="0.5"/>
<text x="360.50" y="92.30" font-size="4.3" fill="#555" text-anchor="end">10<tspan font-size="3.10" dy="-1.81">3</tspan></text>
<path d="M361.2,100H362.5" stroke="#555" stroke-width="0.5"/>
<text x="360.50" y="101.50" font-size="4.3" fill="#555" text-anchor="end">0</text>
<path d="M361.2,108H362.5" stroke="#555" stroke-width="0.5"/>
<text x="360.50" y="109.50" font-size="4.3" fill="#555" text-anchor="end">−10<tspan font-size="3.10" dy="-1.81">3</tspan></text>
<path d="M366.5,111V112.3" stroke="#555" stroke-width="0.5"/>
<text x="366.50" y="117.60" font-size="4.3" fill="#555" text-anchor="middle">0</text>
<path d="M379.8,111V112.3" stroke="#555" stroke-width="0.5"/>
<text x="379.80" y="117.60" font-size="4.3" fill="#555" text-anchor="middle">10<tspan font-size="3.10" dy="-1.81">4</tspan></text>
<path d="M391.9,111V112.3" stroke="#555" stroke-width="0.5"/>
<text x="391.90" y="117.60" font-size="4.3" fill="#555" text-anchor="middle">10<tspan font-size="3.10" dy="-1.81">5</tspan></text>
<circle cx="362.5" cy="100.00" r="0.7" fill="#111"/>
<path d="M363.5,110.7H367.5" stroke="#222" stroke-width="0.8"/>
<g transform="rotate(15 368.0 88.5)">
<ellipse cx="368.0" cy="88.50" rx="5.30" ry="8.50" fill="#444" fill-opacity="0.32" stroke="#222" stroke-width="0.45"/>
<ellipse cx="368.0" cy="89.01" rx="4.24" ry="6.80" fill="#444" fill-opacity="0.32" stroke="#222" stroke-width="0.45"/>
<ellipse cx="368.0" cy="89.52" rx="3.18" ry="5.10" fill="#444" fill-opacity="0.32" stroke="#222" stroke-width="0.45"/>
<ellipse cx="368.0" cy="90.03" rx="2.12" ry="3.40" fill="#444" fill-opacity="0.32" stroke="#222" stroke-width="0.45"/>
<ellipse cx="368.0" cy="90.54" rx="1.06" ry="1.70" fill="#444" fill-opacity="0.32" stroke="#222" stroke-width="0.45"/>
</g>
<rect x="414.8" y="75" width="36.0" height="36" fill="none" stroke="#c8c8c8" stroke-width="0.6"/>
<path d="M414.8,75V111H450.8" stroke="#9a9a9a" stroke-width="0.6" fill="none"/>
<path d="M413.5,75.3H414.8" stroke="#555" stroke-width="0.5"/>
<text x="412.80" y="76.80" font-size="4.3" fill="#555" text-anchor="end">10<tspan font-size="3.10" dy="-1.81">5</tspan></text>
<path d="M413.5,82.8H414.8" stroke="#555" stroke-width="0.5"/>
<text x="412.80" y="84.30" font-size="4.3" fill="#555" text-anchor="end">10<tspan font-size="3.10" dy="-1.81">4</tspan></text>
<path d="M413.5,90.8H414.8" stroke="#555" stroke-width="0.5"/>
<text x="412.80" y="92.30" font-size="4.3" fill="#555" text-anchor="end">10<tspan font-size="3.10" dy="-1.81">3</tspan></text>
<path d="M413.5,100H414.8" stroke="#555" stroke-width="0.5"/>
<text x="412.80" y="101.50" font-size="4.3" fill="#555" text-anchor="end">0</text>
<path d="M413.5,108H414.8" stroke="#555" stroke-width="0.5"/>
<text x="412.80" y="109.50" font-size="4.3" fill="#555" text-anchor="end">−10<tspan font-size="3.10" dy="-1.81">3</tspan></text>
<path d="M418.8,111V112.3" stroke="#555" stroke-width="0.5"/>
<text x="418.80" y="117.60" font-size="4.3" fill="#555" text-anchor="middle">0</text>
<path d="M432.1,111V112.3" stroke="#555" stroke-width="0.5"/>
<text x="432.10" y="117.60" font-size="4.3" fill="#555" text-anchor="middle">10<tspan font-size="3.10" dy="-1.81">4</tspan></text>
<path d="M444.2,111V112.3" stroke="#555" stroke-width="0.5"/>
<text x="444.20" y="117.60" font-size="4.3" fill="#555" text-anchor="middle">10<tspan font-size="3.10" dy="-1.81">5</tspan></text>
<circle cx="414.8" cy="100.00" r="0.7" fill="#111"/>
<path d="M415.8,110.7H419.8" stroke="#222" stroke-width="0.8"/>
<g transform="rotate(20 422.0 91)">
<ellipse cx="422.0" cy="91.00" rx="5.40" ry="7.20" fill="#444" fill-opacity="0.32" stroke="#222" stroke-width="0.45"/>
<ellipse cx="422.0" cy="91.43" rx="4.32" ry="5.76" fill="#444" fill-opacity="0.32" stroke="#222" stroke-width="0.45"/>
<ellipse cx="422.0" cy="91.86" rx="3.24" ry="4.32" fill="#444" fill-opacity="0.32" stroke="#222" stroke-width="0.45"/>
<ellipse cx="422.0" cy="92.30" rx="2.16" ry="2.88" fill="#444" fill-opacity="0.32" stroke="#222" stroke-width="0.45"/>
<ellipse cx="422.0" cy="92.73" rx="1.08" ry="1.44" fill="#444" fill-opacity="0.32" stroke="#222" stroke-width="0.45"/>
</g>
<rect x="467" y="75" width="36" height="36" fill="none" stroke="#c8c8c8" stroke-width="0.6"/>
<path d="M467,75V111H503" stroke="#9a9a9a" stroke-width="0.6" fill="none"/>
<path d="M465.7,75.3H467" stroke="#555" stroke-width="0.5"/>
<text x="465.00" y="76.80" font-size="4.3" fill="#555" text-anchor="end">10<tspan font-size="3.10" dy="-1.81">5</tspan></text>
<path d="M465.7,82.8H467" stroke="#555" stroke-width="0.5"/>
<text x="465.00" y="84.30" font-size="4.3" fill="#555" text-anchor="end">10<tspan font-size="3.10" dy="-1.81">4</tspan></text>
<path d="M465.7,90.8H467" stroke="#555" stroke-width="0.5"/>
<text x="465.00" y="92.30" font-size="4.3" fill="#555" text-anchor="end">10<tspan font-size="3.10" dy="-1.81">3</tspan></text>
<path d="M465.7,100H467" stroke="#555" stroke-width="0.5"/>
<text x="465.00" y="101.50" font-size="4.3" fill="#555" text-anchor="end">0</text>
<path d="M465.7,108H467" stroke="#555" stroke-width="0.5"/>
<text x="465.00" y="109.50" font-size="4.3" fill="#555" text-anchor="end">−10<tspan font-size="3.10" dy="-1.81">3</tspan></text>
<path d="M471,111V112.3" stroke="#555" stroke-width="0.5"/>
<text x="471.00" y="117.60" font-size="4.3" fill="#555" text-anchor="middle">0</text>
<path d="M484.3,111V112.3" stroke="#555" stroke-width="0.5"/>
<text x="484.30" y="117.60" font-size="4.3" fill="#555" text-anchor="middle">10<tspan font-size="3.10" dy="-1.81">4</tspan></text>
<path d="M496.4,111V112.3" stroke="#555" stroke-width="0.5"/>
<text x="496.40" y="117.60" font-size="4.3" fill="#555" text-anchor="middle">10<tspan font-size="3.10" dy="-1.81">5</tspan></text>
<circle cx="467" cy="100.00" r="0.7" fill="#111"/>
<path d="M468,110.7H472" stroke="#222" stroke-width="0.8"/>
<g transform="rotate(0 477.5 89.5)">
<ellipse cx="477.5" cy="89.50" rx="5.50" ry="5.20" fill="#aaa" fill-opacity="0.16" stroke="#999" stroke-width="0.45"/>
<ellipse cx="477.5" cy="90.02" rx="3.67" ry="3.47" fill="#aaa" fill-opacity="0.16" stroke="#999" stroke-width="0.45"/>
<ellipse cx="477.5" cy="90.54" rx="1.83" ry="1.73" fill="#aaa" fill-opacity="0.16" stroke="#999" stroke-width="0.45"/>
</g>
<g transform="rotate(20 473 90.7)">
<ellipse cx="473" cy="90.70" rx="6.00" ry="7.00" fill="#444" fill-opacity="0.32" stroke="#222" stroke-width="0.45"/>
<ellipse cx="473" cy="91.12" rx="4.80" ry="5.60" fill="#444" fill-opacity="0.32" stroke="#222" stroke-width="0.45"/>
<ellipse cx="473" cy="91.54" rx="3.60" ry="4.20" fill="#444" fill-opacity="0.32" stroke="#222" stroke-width="0.45"/>
<ellipse cx="473" cy="91.96" rx="2.40" ry="2.80" fill="#444" fill-opacity="0.32" stroke="#222" stroke-width="0.45"/>
<ellipse cx="473" cy="92.38" rx="1.20" ry="1.40" fill="#444" fill-opacity="0.32" stroke="#222" stroke-width="0.45"/>
</g>
<text transform="translate(508.60,42.50) rotate(-90)" font-size="6.5" fill="#3b5f9e" text-anchor="middle" >HD</text>
<text transform="translate(508.60,90.60) rotate(-90)" font-size="6.5" fill="#c8102e" text-anchor="middle" >NDMM</text>
<text transform="translate(345.30,68.50) rotate(-90)" font-size="7.4" fill="#333" text-anchor="middle" textLength="17" lengthAdjust="spacingAndGlyphs">CD56</text>
<text x="432.50" y="129.60" font-size="8.2" fill="#333" text-anchor="middle" textLength="20.4" lengthAdjust="spacingAndGlyphs">PKH67</text>
<path d="M239.4,152.5V251.1" stroke="#222" stroke-width="0.8" fill="none"/>
<path d="M236.1,251.10H239.4" stroke="#222" stroke-width="0.8"/>
<text x="233.10" y="253.48" font-size="6.8" fill="#333" text-anchor="end" >0</text>
<path d="M236.1,231.40H239.4" stroke="#222" stroke-width="0.8"/>
<text x="233.10" y="233.78" font-size="6.8" fill="#333" text-anchor="end" >10</text>
<path d="M236.1,211.70H239.4" stroke="#222" stroke-width="0.8"/>
<text x="233.10" y="214.08" font-size="6.8" fill="#333" text-anchor="end" >20</text>
<path d="M236.1,192.00H239.4" stroke="#222" stroke-width="0.8"/>
<text x="233.10" y="194.38" font-size="6.8" fill="#333" text-anchor="end" >30</text>
<path d="M236.1,172.30H239.4" stroke="#222" stroke-width="0.8"/>
<text x="233.10" y="174.68" font-size="6.8" fill="#333" text-anchor="end" >40</text>
<path d="M236.1,152.60H239.4" stroke="#222" stroke-width="0.8"/>
<text x="233.10" y="154.98" font-size="6.8" fill="#333" text-anchor="end" >50</text>
<rect x="244.2" y="219.19" width="6.90" height="31.91" fill="#8d9cc8"/>
<rect x="256.9" y="239.28" width="6.90" height="11.82" fill="#eca398"/>
<rect x="269.4" y="192.00" width="6.90" height="59.10" fill="#8d9cc8"/>
<rect x="282.3" y="231.40" width="6.70" height="19.70" fill="#eca398"/>
<path d="M247.60,223.13V215.25M246.50,215.25H248.70M246.50,223.13H248.70" stroke="#222" stroke-width="0.6" fill="none"/>
<path d="M260.30,241.25V237.31M259.20,237.31H261.40M259.20,241.25H261.40" stroke="#a01020" stroke-width="0.6" fill="none"/>
<path d="M272.80,197.32V186.68M271.70,186.68H273.90M271.70,197.32H273.90" stroke="#222" stroke-width="0.6" fill="none"/>
<path d="M285.60,233.76V228.25M284.50,228.25H286.70M284.50,233.76H286.70" stroke="#a01020" stroke-width="0.6" fill="none"/>
<circle cx="246.50" cy="199.88" r="1.75" fill="#1f4e8c"/>
<circle cx="249.00" cy="199.88" r="1.75" fill="#1f4e8c"/>
<circle cx="249.80" cy="205.79" r="1.75" fill="#1f4e8c"/>
<circle cx="247.50" cy="208.75" r="1.75" fill="#1f4e8c"/>
<circle cx="247.50" cy="215.25" r="1.75" fill="#1f4e8c"/>
<circle cx="249.80" cy="226.47" r="1.75" fill="#1f4e8c"/>
<circle cx="245.40" cy="228.84" r="1.75" fill="#1f4e8c"/>
<circle cx="247.50" cy="230.81" r="1.75" fill="#1f4e8c"/>
<circle cx="249.80" cy="231.40" r="1.75" fill="#1f4e8c"/>
<circle cx="247.50" cy="227.85" r="1.75" fill="#1f4e8c"/>
<circle cx="247.50" cy="239.87" r="1.75" fill="#1f4e8c"/>
<circle cx="271.50" cy="172.30" r="1.75" fill="#1f4e8c"/>
<circle cx="274.50" cy="171.12" r="1.75" fill="#1f4e8c"/>
<circle cx="272.80" cy="174.27" r="1.75" fill="#1f4e8c"/>
<circle cx="271.40" cy="186.09" r="1.75" fill="#1f4e8c"/>
<circle cx="274.40" cy="186.09" r="1.75" fill="#1f4e8c"/>
<circle cx="272.80" cy="190.03" r="1.75" fill="#1f4e8c"/>
<circle cx="272.80" cy="205.79" r="1.75" fill="#1f4e8c"/>
<circle cx="271.20" cy="221.55" r="1.75" fill="#1f4e8c"/>
<circle cx="274.40" cy="220.56" r="1.75" fill="#1f4e8c"/>
<circle cx="259.80" cy="225.49" r="1.75" fill="#c0152f"/>
<circle cx="259.80" cy="229.43" r="1.75" fill="#c0152f"/>
<circle cx="258.00" cy="233.96" r="1.75" fill="#c0152f"/>
<circle cx="262.40" cy="232.98" r="1.75" fill="#c0152f"/>
<circle cx="260.00" cy="238.69" r="1.75" fill="#c0152f"/>
<circle cx="262.40" cy="238.69" r="1.75" fill="#c0152f"/>
<circle cx="258.00" cy="243.81" r="1.75" fill="#c0152f"/>
<circle cx="260.00" cy="243.81" r="1.75" fill="#c0152f"/>
<circle cx="262.40" cy="243.81" r="1.75" fill="#c0152f"/>
<circle cx="286.00" cy="214.46" r="1.75" fill="#c0152f"/>
<circle cx="284.80" cy="216.62" r="1.75" fill="#c0152f"/>
<circle cx="285.50" cy="222.34" r="1.75" fill="#c0152f"/>
<circle cx="286.80" cy="231.40" r="1.75" fill="#c0152f"/>
<circle cx="283.40" cy="233.37" r="1.75" fill="#c0152f"/>
<circle cx="287.50" cy="234.75" r="1.75" fill="#c0152f"/>
<circle cx="285.50" cy="236.32" r="1.75" fill="#c0152f"/>
<circle cx="283.40" cy="239.87" r="1.75" fill="#c0152f"/>
<path d="M239.6,251.1H292" stroke="#222" stroke-width="0.8" fill="none"/>
<path d="M247.50,251.1V253.1" stroke="#222" stroke-width="0.8"/>
<path d="M260.10,251.1V253.1" stroke="#222" stroke-width="0.8"/>
<path d="M272.80,251.1V253.1" stroke="#222" stroke-width="0.8"/>
<path d="M285.50,251.1V253.1" stroke="#222" stroke-width="0.8"/>
<path d="M247.40,194.80V160.50H260.40V219.60" stroke="#333" stroke-width="0.85" fill="none"/>
<text x="253.90" y="160.50" font-size="7" fill="#333" text-anchor="middle" font-weight="bold">**</text>
<path d="M272.60,166.00V160.50H285.60V209.80" stroke="#333" stroke-width="0.85" fill="none"/>
<text x="279.10" y="160.50" font-size="7" fill="#333" text-anchor="middle" font-weight="bold">****</text>
<text x="253.90" y="262.70" font-size="6.6" fill="#333" text-anchor="middle" >RPMI</text>
<text x="279.00" y="262.70" font-size="6.6" fill="#333" text-anchor="middle" >+ISA</text>
<text transform="translate(219.00,200.40) rotate(-90)" font-size="6.8" fill="#333" text-anchor="middle" textLength="45.9" lengthAdjust="spacingAndGlyphs">Conjugates (%)</text>
<circle cx="298.20" cy="146.20" r="1.7" fill="#1f4e8c"/>
<text x="302.20" y="148.60" font-size="6.5" fill="#3b5f9e" text-anchor="start" >HD</text>
<circle cx="298.20" cy="155.60" r="1.7" fill="#c0152f"/>
<text x="302.20" y="158.00" font-size="6.5" fill="#c8102e" text-anchor="start" >NDMM</text>
<path d="M385.6,176.9V251.2" stroke="#222" stroke-width="0.8" fill="none"/>
<path d="M382.90000000000003,251.20H385.6" stroke="#222" stroke-width="0.8"/>
<text x="380.30" y="253.58" font-size="6.8" fill="#333" text-anchor="end" >0</text>
<path d="M382.90000000000003,232.63H385.6" stroke="#222" stroke-width="0.8"/>
<text x="380.30" y="235.01" font-size="6.8" fill="#333" text-anchor="end" >1</text>
<path d="M382.90000000000003,214.06H385.6" stroke="#222" stroke-width="0.8"/>
<text x="380.30" y="216.44" font-size="6.8" fill="#333" text-anchor="end" >2</text>
<path d="M382.90000000000003,195.49H385.6" stroke="#222" stroke-width="0.8"/>
<text x="380.30" y="197.87" font-size="6.8" fill="#333" text-anchor="end" >3</text>
<path d="M382.90000000000003,176.92H385.6" stroke="#222" stroke-width="0.8"/>
<text x="380.30" y="179.30" font-size="6.8" fill="#333" text-anchor="end" >4</text>
<rect x="390" y="235.79" width="7.20" height="15.41" fill="#8d9cc8"/>
<rect x="401.5" y="235.23" width="7.40" height="15.97" fill="#eca398"/>
<rect x="413" y="229.47" width="7.30" height="21.73" fill="#8d9cc8"/>
<rect x="424.3" y="233.37" width="7.20" height="17.83" fill="#eca398"/>
<rect x="436.2" y="209.42" width="7.20" height="41.78" fill="#8d9cc8"/>
<rect x="447.7" y="231.89" width="7.30" height="19.31" fill="#eca398"/>
<circle cx="391.90" cy="232.63" r="1.3" fill="#1f4e8c"/>
<circle cx="393.60" cy="233.56" r="1.3" fill="#1f4e8c"/>
<circle cx="395.30" cy="235.42" r="1.3" fill="#1f4e8c"/>
<circle cx="391.90" cy="236.34" r="1.3" fill="#1f4e8c"/>
<circle cx="393.60" cy="236.72" r="1.3" fill="#1f4e8c"/>
<circle cx="395.30" cy="237.27" r="1.3" fill="#1f4e8c"/>
<circle cx="391.90" cy="238.20" r="1.3" fill="#1f4e8c"/>
<circle cx="393.60" cy="239.13" r="1.3" fill="#1f4e8c"/>
<circle cx="395.30" cy="245.63" r="1.3" fill="#1f4e8c"/>
<circle cx="403.50" cy="232.63" r="1.3" fill="#c0152f"/>
<circle cx="405.20" cy="233.00" r="1.3" fill="#c0152f"/>
<circle cx="406.90" cy="233.56" r="1.3" fill="#c0152f"/>
<circle cx="403.50" cy="234.49" r="1.3" fill="#c0152f"/>
<circle cx="405.20" cy="234.86" r="1.3" fill="#c0152f"/>
<circle cx="406.90" cy="235.42" r="1.3" fill="#c0152f"/>
<circle cx="403.50" cy="236.34" r="1.3" fill="#c0152f"/>
<circle cx="405.20" cy="236.72" r="1.3" fill="#c0152f"/>
<circle cx="406.90" cy="238.20" r="1.3" fill="#c0152f"/>
<circle cx="403.50" cy="239.13" r="1.3" fill="#c0152f"/>
<circle cx="414.90" cy="225.20" r="1.3" fill="#1f4e8c"/>
<circle cx="416.60" cy="226.13" r="1.3" fill="#1f4e8c"/>
<circle cx="418.30" cy="227.06" r="1.3" fill="#1f4e8c"/>
<circle cx="414.90" cy="227.99" r="1.3" fill="#1f4e8c"/>
<circle cx="416.60" cy="228.92" r="1.3" fill="#1f4e8c"/>
<circle cx="418.30" cy="229.29" r="1.3" fill="#1f4e8c"/>
<circle cx="414.90" cy="229.84" r="1.3" fill="#1f4e8c"/>
<circle cx="416.60" cy="230.77" r="1.3" fill="#1f4e8c"/>
<circle cx="418.30" cy="231.70" r="1.3" fill="#1f4e8c"/>
<circle cx="426.20" cy="230.77" r="1.3" fill="#c0152f"/>
<circle cx="427.90" cy="231.70" r="1.3" fill="#c0152f"/>
<circle cx="429.60" cy="232.63" r="1.3" fill="#c0152f"/>
<circle cx="426.20" cy="233.00" r="1.3" fill="#c0152f"/>
<circle cx="427.90" cy="233.56" r="1.3" fill="#c0152f"/>
<circle cx="429.60" cy="234.12" r="1.3" fill="#c0152f"/>
<circle cx="426.20" cy="234.49" r="1.3" fill="#c0152f"/>
<circle cx="427.90" cy="235.42" r="1.3" fill="#c0152f"/>
<circle cx="429.60" cy="236.34" r="1.3" fill="#c0152f"/>
<circle cx="438.10" cy="186.20" r="1.3" fill="#1f4e8c"/>
<circle cx="439.80" cy="197.35" r="1.3" fill="#1f4e8c"/>
<circle cx="441.50" cy="203.85" r="1.3" fill="#1f4e8c"/>
<circle cx="438.10" cy="208.49" r="1.3" fill="#1f4e8c"/>
<circle cx="439.80" cy="212.20" r="1.3" fill="#1f4e8c"/>
<circle cx="441.50" cy="214.99" r="1.3" fill="#1f4e8c"/>
<circle cx="438.10" cy="215.92" r="1.3" fill="#1f4e8c"/>
<circle cx="439.80" cy="216.85" r="1.3" fill="#1f4e8c"/>
<circle cx="449.60" cy="223.34" r="1.3" fill="#c0152f"/>
<circle cx="451.30" cy="225.20" r="1.3" fill="#c0152f"/>
<circle cx="453.00" cy="227.06" r="1.3" fill="#c0152f"/>
<circle cx="449.60" cy="228.92" r="1.3" fill="#c0152f"/>
<circle cx="451.30" cy="229.84" r="1.3" fill="#c0152f"/>
<circle cx="453.00" cy="230.77" r="1.3" fill="#c0152f"/>
<circle cx="449.60" cy="231.70" r="1.3" fill="#c0152f"/>
<circle cx="451.30" cy="232.63" r="1.3" fill="#c0152f"/>
<circle cx="453.00" cy="233.56" r="1.3" fill="#c0152f"/>
<circle cx="449.60" cy="235.42" r="1.3" fill="#c0152f"/>
<path d="M385.8,251.2H458" stroke="#222" stroke-width="0.8" fill="none"/>
<path d="M393.60,251.2V253.2" stroke="#222" stroke-width="0.8"/>
<path d="M405.20,251.2V253.2" stroke="#222" stroke-width="0.8"/>
<path d="M416.60,251.2V253.2" stroke="#222" stroke-width="0.8"/>
<path d="M427.90,251.2V253.2" stroke="#222" stroke-width="0.8"/>
<path d="M439.80,251.2V253.2" stroke="#222" stroke-width="0.8"/>
<path d="M451.30,251.2V253.2" stroke="#222" stroke-width="0.8"/>
<path d="M393.20,172.90V147.80H439.90V153.00" stroke="#333" stroke-width="0.85" fill="none"/>
<text x="416.55" y="147.80" font-size="7" fill="#333" text-anchor="middle" font-weight="bold">****</text>
<path d="M416.20,174.60V163.00H439.90V167.70" stroke="#333" stroke-width="0.85" fill="none"/>
<text x="428.05" y="163.00" font-size="7" fill="#333" text-anchor="middle" font-weight="bold">****</text>
<path d="M393.20,228.00V177.70H416.20V222.00" stroke="#333" stroke-width="0.85" fill="none"/>
<text x="404.70" y="177.70" font-size="7" fill="#333" text-anchor="middle" font-weight="bold">**</text>
<path d="M439.90,182.40V177.70H451.10V220.00" stroke="#333" stroke-width="0.85" fill="none"/>
<text x="445.50" y="177.70" font-size="7" fill="#333" text-anchor="middle" font-weight="bold">****</text>
<text x="399.20" y="262.70" font-size="6.6" fill="#333" text-anchor="middle" >NT</text>
<text x="422.30" y="262.70" font-size="6.6" fill="#333" text-anchor="middle" >RPMI</text>
<text x="445.40" y="262.70" font-size="6.6" fill="#333" text-anchor="middle" >+ISA</text>
<text transform="translate(370.30,212.70) rotate(-90)" font-size="6.8" fill="#333" text-anchor="middle" textLength="71" lengthAdjust="spacingAndGlyphs">Trogocytosis (MFI×10<tspan font-size="4.5" dy="-2.5">3</tspan><tspan dy="2.5">)</tspan></text>
<circle cx="462.90" cy="145.60" r="1.7" fill="#1f4e8c"/>
<text x="467.00" y="148.00" font-size="6.5" fill="#3b5f9e" text-anchor="start" >HD</text>
<circle cx="462.90" cy="156.60" r="1.7" fill="#c0152f"/>
<text x="467.00" y="159.00" font-size="6.5" fill="#c8102e" text-anchor="start" >NDMM</text>
<text x="207.60" y="289.60" font-size="12" fill="#111" text-anchor="start" font-weight="bold">D</text>
<circle cx="259.20" cy="292.40" r="1.5" fill="#1a2a50"/>
<text x="263.50" y="294.70" font-size="6.5" fill="#2c4070" text-anchor="start" textLength="8.7" lengthAdjust="spacingAndGlyphs">HD</text>
<circle cx="281.00" cy="292.40" r="1.5" fill="#a01030"/>
<text x="285.70" y="294.70" font-size="6.5" fill="#b02040" text-anchor="start" textLength="20.8" lengthAdjust="spacingAndGlyphs">NDMM</text>
<path d="M219.2,342.8H277" stroke="#e8a0b0" stroke-width="0.7"/>
<path d="M219.70,342.80L219.70,342.80L220.20,342.80L220.70,342.80L221.20,342.80L221.70,342.80L222.20,342.80L222.70,342.80L223.20,342.80L223.70,342.80L224.20,342.80L224.70,342.80L225.20,342.80L225.70,342.80L226.20,342.80L226.70,342.80L227.20,342.80L227.70,342.80L228.20,342.80L228.70,342.80L229.20,342.80L229.70,342.80L230.20,342.80L230.70,342.80L231.20,342.80L231.70,342.80L232.20,342.80L232.70,342.80L233.20,342.80L233.70,342.80L234.20,342.80L234.70,342.80L235.20,342.80L235.70,342.80L236.20,342.80L236.70,342.80L237.20,342.80L237.70,342.80L238.20,342.80L238.70,342.80L239.20,342.80L239.70,342.80L240.20,342.80L240.70,342.80L241.20,342.79L241.70,342.79L242.20,342.78L242.70,342.76L243.20,342.72L243.70,342.67L244.20,342.58L244.70,342.45L245.20,342.24L245.70,341.92L246.20,341.47L246.70,340.83L247.20,339.95L247.70,338.77L248.20,337.26L248.70,335.35L249.20,333.03L249.70,330.30L250.20,327.19L250.70,323.78L251.20,320.18L251.70,316.55L252.20,313.06L252.70,309.93L253.20,307.35L253.70,305.48L254.20,304.47L254.70,304.38L255.20,305.21L255.70,306.91L256.20,309.37L256.70,312.40L257.20,315.83L257.70,319.45L258.20,323.07L258.70,326.53L259.20,329.71L259.70,332.52L260.20,334.92L260.70,336.91L261.20,338.50L261.70,339.74L262.20,340.67L262.70,341.36L263.20,341.84L263.70,342.18L264.20,342.41L264.70,342.56L265.20,342.66L265.70,342.72L266.20,342.75L266.70,342.77L267.20,342.79L267.70,342.79L268.20,342.80L268.70,342.80L269.20,342.80L269.70,342.80L270.20,342.80L270.70,342.80L271.20,342.80L271.70,342.80L272.20,342.80L272.70,342.80L273.20,342.80L273.70,342.80L274.20,342.80L274.70,342.80L275.20,342.80L275.70,342.80L276.20,342.80L276.50,342.80Z" fill="#c8143a"/>
<path d="M219.70,363.90L219.70,363.90L220.20,363.90L220.70,363.90L221.20,363.90L221.70,363.90L222.20,363.90L222.70,363.90L223.20,363.90L223.70,363.90L224.20,363.90L224.70,363.90L225.20,363.90L225.70,363.90L226.20,363.90L226.70,363.90L227.20,363.90L227.70,363.90L228.20,363.90L228.70,363.90L229.20,363.90L229.70,363.90L230.20,363.90L230.70,363.90L231.20,363.90L231.70,363.90L232.20,363.90L232.70,363.90L233.20,363.90L233.70,363.90L234.20,363.90L234.70,363.90L235.20,363.90L235.70,363.90L236.20,363.90L236.70,363.90L237.20,363.90L237.70,363.89L238.20,363.89L238.70,363.88L239.20,363.87L239.70,363.85L240.20,363.82L240.70,363.78L241.20,363.71L241.70,363.61L242.20,363.48L242.70,363.28L243.20,363.02L243.70,362.66L244.20,362.18L244.70,361.55L245.20,360.74L245.70,359.73L246.20,358.49L246.70,356.99L247.20,355.21L247.70,353.16L248.20,350.84L248.70,348.28L249.20,345.52L249.70,342.62L250.20,339.67L250.70,336.76L251.20,334.00L251.70,331.49L252.20,329.34L252.70,327.66L253.20,326.51L253.70,325.95L254.20,326.01L254.70,326.69L255.20,327.95L255.70,329.74L256.20,331.97L256.70,334.53L257.20,337.33L257.70,340.26L258.20,343.21L258.70,346.08L259.20,348.81L259.70,351.32L260.20,353.59L260.70,355.59L261.20,357.31L261.70,358.76L262.20,359.95L262.70,360.92L263.20,361.69L263.70,362.28L264.20,362.74L264.70,363.08L265.20,363.33L265.70,363.51L266.20,363.64L266.70,363.73L267.20,363.79L267.70,363.83L268.20,363.85L268.70,363.87L269.20,363.88L269.70,363.89L270.20,363.89L270.70,363.90L271.20,363.90L271.70,363.90L272.20,363.90L272.70,363.90L273.20,363.90L273.70,363.90L274.20,363.90L274.70,363.90L275.20,363.90L275.70,363.90L276.20,363.90L276.50,363.90Z" fill="#1c4e8c"/>
<rect x="219.2" y="299.2" width="57.80000000000001" height="64.69999999999999" fill="none" stroke="#222" stroke-width="0.8"/>
<text x="223.10" y="307.40" font-size="6.5" fill="#333" text-anchor="start" >MFI:</text>
<text x="276.60" y="307.40" font-size="6.6" fill="#333" text-anchor="end" >15038</text>
<text x="276.60" y="350.60" font-size="6.6" fill="#333" text-anchor="end" >13920</text>
<text x="238.20" y="375.00" font-size="5.2" fill="#333" text-anchor="middle" >0</text>
<text x="249.30" y="375.00" font-size="5.2" fill="#333" text-anchor="middle" >10<tspan font-size="3.74" dy="-2.18">4</tspan></text>
<text x="263.20" y="375.00" font-size="5.2" fill="#333" text-anchor="middle" >10<tspan font-size="3.74" dy="-2.18">5</tspan></text>
<path d="M225,363.9V365.5" stroke="#333" stroke-width="0.5"/>
<path d="M229,363.9V365.5" stroke="#333" stroke-width="0.5"/>
<path d="M233,363.9V365.5" stroke="#333" stroke-width="0.5"/>
<path d="M236,363.9V365.5" stroke="#333" stroke-width="0.5"/>
<path d="M238.2,363.9V365.5" stroke="#333" stroke-width="0.5"/>
<path d="M242,363.9V365.5" stroke="#333" stroke-width="0.5"/>
<path d="M246,363.9V365.5" stroke="#333" stroke-width="0.5"/>
<path d="M249.3,363.9V365.5" stroke="#333" stroke-width="0.5"/>
<path d="M252,363.9V365.5" stroke="#333" stroke-width="0.5"/>
<path d="M256,363.9V365.5" stroke="#333" stroke-width="0.5"/>
<path d="M260,363.9V365.5" stroke="#333" stroke-width="0.5"/>
<path d="M263.2,363.9V365.5" stroke="#333" stroke-width="0.5"/>
<path d="M267,363.9V365.5" stroke="#333" stroke-width="0.5"/>
<path d="M271,363.9V365.5" stroke="#333" stroke-width="0.5"/>
<path d="M274,363.9V365.5" stroke="#333" stroke-width="0.5"/>
<text x="247.90" y="386.90" font-size="7.9" fill="#333" text-anchor="middle" textLength="31.8" lengthAdjust="spacingAndGlyphs">Total LFA-1</text>
<path d="M286.8,342.5H345" stroke="#e8a0b0" stroke-width="0.7"/>
<path d="M287.30,342.50L287.30,342.50L287.70,342.50L288.10,342.50L288.50,342.50L288.90,342.50L289.30,342.50L289.70,342.50L290.10,342.50L290.50,342.34L290.90,341.59L291.30,340.45L291.70,338.99L292.10,337.25L292.50,335.26L292.90,333.05L293.30,330.61L293.70,327.98L294.10,325.15L294.50,322.14L294.90,318.94L295.30,315.58L295.70,312.06L296.10,308.37L296.50,306.75L296.90,310.06L297.30,313.01L297.70,315.64L298.10,317.98L298.50,320.07L298.90,321.94L299.30,323.61L299.70,325.10L300.10,326.44L300.50,327.64L300.90,328.72L301.30,329.69L301.70,330.57L302.10,331.36L302.50,332.07L302.90,332.72L303.30,333.31L303.70,333.84L304.10,334.33L304.50,334.77L304.90,335.18L305.30,335.55L305.70,335.90L306.10,336.21L306.50,336.50L306.90,336.78L307.30,337.03L307.70,337.26L308.10,337.48L308.50,337.68L308.90,337.87L309.30,338.05L309.70,338.22L310.10,338.37L310.50,338.52L310.90,338.66L311.30,338.80L311.70,338.92L312.10,339.04L312.50,339.16L312.90,339.27L313.30,339.37L313.70,339.47L314.10,339.57L314.50,339.66L314.90,339.75L315.30,339.84L315.70,339.92L316.10,340.00L316.50,340.07L316.90,340.14L317.30,340.21L317.70,340.28L318.10,340.35L318.50,340.41L318.90,340.47L319.30,340.53L319.70,340.59L320.10,340.64L320.50,340.70L320.90,340.75L321.30,340.80L321.70,340.85L322.10,340.90L322.50,340.94L322.90,340.99L323.30,341.03L323.70,341.07L324.10,341.11L324.50,341.15L324.90,341.19L325.30,341.23L325.70,341.26L326.10,341.30L326.50,341.33L326.90,341.37L327.30,341.40L327.70,341.43L328.10,341.46L328.50,341.49L328.90,341.52L329.30,341.55L329.70,341.57L330.10,341.61L330.50,341.70L330.90,341.78L331.30,341.85L331.70,341.92L332.10,341.99L332.50,342.06L332.90,342.12L333.30,342.18L333.70,342.23L334.10,342.50L334.50,342.50L334.90,342.50L335.30,342.50L335.70,342.50L336.10,342.50L336.50,342.50L336.90,342.50L337.30,342.50L337.70,342.50L338.10,342.50L338.50,342.50L338.90,342.50L339.30,342.50L339.70,342.50L340.10,342.50L340.50,342.50L340.90,342.50L341.30,342.50L341.70,342.50L342.10,342.50L342.50,342.50L342.90,342.50L343.30,342.50L343.70,342.50L344.10,342.50L344.50,342.50L344.50,342.50Z" fill="#c8143a"/>
<path d="M287.30,363.40L287.30,363.40L287.80,363.40L288.30,363.40L288.80,363.40L289.30,362.86L289.80,361.48L290.30,359.78L290.80,357.88L291.30,355.80L291.80,353.59L292.30,351.26L292.80,348.81L293.30,346.27L293.80,343.63L294.30,340.92L294.80,338.12L295.30,335.25L295.80,332.31L296.30,329.31L296.80,326.24L297.30,323.96L297.80,327.40L298.30,325.61L298.80,327.97L299.30,329.06L299.80,329.79L300.30,329.86L300.80,328.99L301.30,331.55L301.80,331.00L302.30,331.47L302.80,332.92L303.30,328.30L303.80,330.29L304.30,330.87L304.80,331.03L305.30,330.24L305.80,331.65L306.30,332.67L306.80,332.55L307.30,333.67L307.80,334.86L308.30,334.13L308.80,335.18L309.30,337.33L309.80,337.12L310.30,338.06L310.80,337.81L311.30,339.05L311.80,341.17L312.30,339.89L312.80,343.28L313.30,343.17L313.80,342.94L314.30,345.53L314.80,345.29L315.30,347.40L315.80,346.26L316.30,346.70L316.80,348.00L317.30,347.79L317.80,350.17L318.30,349.69L318.80,350.65L319.30,351.33L319.80,352.31L320.30,351.76L320.80,352.02L321.30,353.99L321.80,353.95L322.30,356.28L322.80,354.85L323.30,355.49L323.80,354.91L324.30,355.85L324.80,357.88L325.30,357.97L325.80,357.50L326.30,359.80L326.80,358.82L327.30,360.02L327.80,360.48L328.30,360.94L328.80,359.09L329.30,361.26L329.80,361.15L330.30,360.62L330.80,360.83L331.30,361.03L331.80,361.21L332.30,361.39L332.80,361.55L333.30,361.70L333.80,361.84L334.30,361.97L334.80,362.10L335.30,362.21L335.80,362.31L336.30,362.41L336.80,362.50L337.30,362.58L337.80,362.65L338.30,362.72L338.80,362.79L339.30,362.84L339.80,362.90L340.30,362.95L340.80,362.99L341.30,363.03L341.80,363.07L342.30,363.10L342.80,363.13L343.30,363.16L343.80,363.18L344.30,363.21L344.50,363.40Z" fill="#1c4e8c"/>
<rect x="286.8" y="299.3" width="58.19999999999999" height="64.09999999999997" fill="none" stroke="#222" stroke-width="0.8"/>
<text x="290.70" y="307.00" font-size="6.5" fill="#333" text-anchor="start" >MFI:</text>
<text x="340.60" y="307.00" font-size="6.6" fill="#333" text-anchor="end" >1711</text>
<text x="340.60" y="350.60" font-size="6.6" fill="#333" text-anchor="end" >3747</text>
<text x="294.60" y="374.30" font-size="5.2" fill="#333" text-anchor="middle" >0</text>
<text x="316.50" y="374.30" font-size="5.2" fill="#333" text-anchor="middle" >10<tspan font-size="3.74" dy="-2.18">4</tspan></text>
<text x="336.70" y="374.30" font-size="5.2" fill="#333" text-anchor="middle" >10<tspan font-size="3.74" dy="-2.18">5</tspan></text>
<path d="M290,363.4V365.0" stroke="#333" stroke-width="0.5"/>
<path d="M292,363.4V365.0" stroke="#333" stroke-width="0.5"/>
<path d="M294.6,363.4V365.0" stroke="#333" stroke-width="0.5"/>
<path d="M298,363.4V365.0" stroke="#333" stroke-width="0.5"/>
<path d="M302,363.4V365.0" stroke="#333" stroke-width="0.5"/>
<path d="M306,363.4V365.0" stroke="#333" stroke-width="0.5"/>
<path d="M310,363.4V365.0" stroke="#333" stroke-width="0.5"/>
<path d="M313,363.4V365.0" stroke="#333" stroke-width="0.5"/>
<path d="M316.5,363.4V365.0" stroke="#333" stroke-width="0.5"/>
<path d="M320,363.4V365.0" stroke="#333" stroke-width="0.5"/>
<path d="M324,363.4V365.0" stroke="#333" stroke-width="0.5"/>
<path d="M328,363.4V365.0" stroke="#333" stroke-width="0.5"/>
<path d="M332,363.4V365.0" stroke="#333" stroke-width="0.5"/>
<path d="M336.7,363.4V365.0" stroke="#333" stroke-width="0.5"/>
<path d="M340,363.4V365.0" stroke="#333" stroke-width="0.5"/>
<text x="315.90" y="386.90" font-size="7.9" fill="#333" text-anchor="middle" textLength="34.7" lengthAdjust="spacingAndGlyphs">Open LFA-1</text>
<path d="M386.5,292.3V384" stroke="#222" stroke-width="0.8" fill="none"/>
<path d="M384.3,384.00H386.5" stroke="#222" stroke-width="0.8"/>
<text x="382.90" y="386.20" font-size="6.3" fill="#333" text-anchor="end" >0</text>
<path d="M384.3,365.67H386.5" stroke="#222" stroke-width="0.8"/>
<text x="382.90" y="367.88" font-size="6.3" fill="#333" text-anchor="end" >10</text>
<path d="M384.3,347.34H386.5" stroke="#222" stroke-width="0.8"/>
<text x="382.90" y="349.55" font-size="6.3" fill="#333" text-anchor="end" >20</text>
<path d="M384.3,329.01H386.5" stroke="#222" stroke-width="0.8"/>
<text x="382.90" y="331.21" font-size="6.3" fill="#333" text-anchor="end" >30</text>
<path d="M384.3,310.68H386.5" stroke="#222" stroke-width="0.8"/>
<text x="382.90" y="312.88" font-size="6.3" fill="#333" text-anchor="end" >40</text>
<path d="M384.3,292.35H386.5" stroke="#222" stroke-width="0.8"/>
<text x="382.90" y="294.56" font-size="6.3" fill="#333" text-anchor="end" >50</text>
<path d="M386.5,384H428.5" stroke="#222" stroke-width="0.8" fill="none"/>
<path d="M400.10,384V386" stroke="#222" stroke-width="0.8"/>
<path d="M419.70,384V386" stroke="#222" stroke-width="0.8"/>
<circle cx="400.10" cy="297.85" r="1.8" fill="#1f4e8c"/>
<circle cx="400.10" cy="318.01" r="1.8" fill="#1f4e8c"/>
<circle cx="400.10" cy="329.93" r="1.8" fill="#1f4e8c"/>
<circle cx="397.00" cy="329.93" r="1.8" fill="#1f4e8c"/>
<circle cx="400.10" cy="330.84" r="1.8" fill="#1f4e8c"/>
<circle cx="400.10" cy="334.51" r="1.8" fill="#1f4e8c"/>
<circle cx="400.10" cy="336.34" r="1.8" fill="#1f4e8c"/>
<circle cx="397.00" cy="338.18" r="1.8" fill="#1f4e8c"/>
<circle cx="400.10" cy="340.01" r="1.8" fill="#1f4e8c"/>
<circle cx="397.00" cy="340.92" r="1.8" fill="#1f4e8c"/>
<circle cx="400.10" cy="342.76" r="1.8" fill="#1f4e8c"/>
<circle cx="397.00" cy="343.67" r="1.8" fill="#1f4e8c"/>
<circle cx="400.10" cy="345.51" r="1.8" fill="#1f4e8c"/>
<circle cx="400.10" cy="347.34" r="1.8" fill="#1f4e8c"/>
<circle cx="397.00" cy="349.17" r="1.8" fill="#1f4e8c"/>
<circle cx="400.10" cy="351.01" r="1.8" fill="#1f4e8c"/>
<circle cx="397.00" cy="351.01" r="1.8" fill="#1f4e8c"/>
<circle cx="400.10" cy="354.67" r="1.8" fill="#1f4e8c"/>
<circle cx="400.10" cy="358.34" r="1.8" fill="#1f4e8c"/>
<circle cx="397.00" cy="359.25" r="1.8" fill="#1f4e8c"/>
<circle cx="400.10" cy="365.67" r="1.8" fill="#1f4e8c"/>
<circle cx="400.10" cy="366.59" r="1.8" fill="#1f4e8c"/>
<circle cx="419.70" cy="330.84" r="1.8" fill="#c0152f"/>
<circle cx="419.70" cy="338.18" r="1.8" fill="#c0152f"/>
<circle cx="419.70" cy="341.84" r="1.8" fill="#c0152f"/>
<circle cx="416.60" cy="342.76" r="1.8" fill="#c0152f"/>
<circle cx="419.70" cy="349.17" r="1.8" fill="#c0152f"/>
<circle cx="419.70" cy="351.01" r="1.8" fill="#c0152f"/>
<circle cx="419.70" cy="352.84" r="1.8" fill="#c0152f"/>
<circle cx="416.60" cy="353.76" r="1.8" fill="#c0152f"/>
<circle cx="422.80" cy="354.67" r="1.8" fill="#c0152f"/>
<circle cx="419.70" cy="356.50" r="1.8" fill="#c0152f"/>
<circle cx="419.70" cy="360.17" r="1.8" fill="#c0152f"/>
<circle cx="419.70" cy="367.50" r="1.8" fill="#c0152f"/>
<circle cx="419.70" cy="370.25" r="1.8" fill="#c0152f"/>
<circle cx="419.70" cy="372.09" r="1.8" fill="#c0152f"/>
<path d="M394.5,342.76H405.7" stroke="#333" stroke-width="0.7"/>
<path d="M400.10,345.87V339.64M398.35,339.64H401.85M398.35,345.87H401.85" stroke="#333" stroke-width="0.6" fill="none"/>
<path d="M414.3,353.76H425.1" stroke="#333" stroke-width="0.7"/>
<path d="M419.70,356.50V350.64M417.95,350.64H421.45M417.95,356.50H421.45" stroke="#333" stroke-width="0.6" fill="none"/>
<path d="M399.20,292.70V287.70H419.70V325.30" stroke="#333" stroke-width="0.85" fill="none"/>
<text x="409.45" y="286.00" font-size="6.2" fill="#333" text-anchor="middle" >ns</text>
<text transform="translate(367.40,336.70) rotate(-90)" font-size="6.7" fill="#333" text-anchor="middle" textLength="68.6" lengthAdjust="spacingAndGlyphs">Total LFA-1 (MFI ×10<tspan font-size="4.3" dy="-2.4">3</tspan><tspan dy="2.4">)</tspan></text>
<path d="M465.2,292.8V383.8" stroke="#222" stroke-width="0.8" fill="none"/>
<path d="M462.5,383.80H465.2" stroke="#222" stroke-width="0.8"/>
<text x="458.60" y="386.00" font-size="6.3" fill="#333" text-anchor="end" >0</text>
<path d="M462.5,353.46H465.2" stroke="#222" stroke-width="0.8"/>
<text x="458.60" y="355.67" font-size="6.3" fill="#333" text-anchor="end" >2</text>
<path d="M462.5,323.12H465.2" stroke="#222" stroke-width="0.8"/>
<text x="458.60" y="325.32" font-size="6.3" fill="#333" text-anchor="end" >4</text>
<path d="M462.5,292.78H465.2" stroke="#222" stroke-width="0.8"/>
<text x="458.60" y="294.99" font-size="6.3" fill="#333" text-anchor="end" >6</text>
<path d="M465.1,383.8H510" stroke="#222" stroke-width="0.8" fill="none"/>
<path d="M478.50,383.8V385.8" stroke="#222" stroke-width="0.8"/>
<path d="M499.50,383.8V385.8" stroke="#222" stroke-width="0.8"/>
<circle cx="478.50" cy="307.19" r="1.8" fill="#1f4e8c"/>
<circle cx="478.50" cy="310.23" r="1.8" fill="#1f4e8c"/>
<circle cx="475.40" cy="310.23" r="1.8" fill="#1f4e8c"/>
<circle cx="481.60" cy="310.23" r="1.8" fill="#1f4e8c"/>
<circle cx="478.50" cy="323.12" r="1.8" fill="#1f4e8c"/>
<circle cx="478.50" cy="326.91" r="1.8" fill="#1f4e8c"/>
<circle cx="478.50" cy="332.22" r="1.8" fill="#1f4e8c"/>
<circle cx="475.40" cy="332.22" r="1.8" fill="#1f4e8c"/>
<circle cx="478.50" cy="335.26" r="1.8" fill="#1f4e8c"/>
<circle cx="478.50" cy="338.29" r="1.8" fill="#1f4e8c"/>
<circle cx="478.50" cy="345.88" r="1.8" fill="#1f4e8c"/>
<circle cx="478.50" cy="348.91" r="1.8" fill="#1f4e8c"/>
<circle cx="475.40" cy="348.91" r="1.8" fill="#1f4e8c"/>
<circle cx="478.50" cy="350.43" r="1.8" fill="#1f4e8c"/>
<circle cx="478.50" cy="353.46" r="1.8" fill="#1f4e8c"/>
<circle cx="475.40" cy="353.46" r="1.8" fill="#1f4e8c"/>
<circle cx="478.50" cy="358.01" r="1.8" fill="#1f4e8c"/>
<circle cx="475.40" cy="358.01" r="1.8" fill="#1f4e8c"/>
<circle cx="478.50" cy="364.08" r="1.8" fill="#1f4e8c"/>
<circle cx="478.50" cy="368.63" r="1.8" fill="#1f4e8c"/>
<circle cx="499.50" cy="328.43" r="1.8" fill="#c0152f"/>
<circle cx="499.50" cy="339.81" r="1.8" fill="#c0152f"/>
<circle cx="499.50" cy="351.18" r="1.8" fill="#c0152f"/>
<circle cx="499.50" cy="353.46" r="1.8" fill="#c0152f"/>
<circle cx="496.40" cy="353.46" r="1.8" fill="#c0152f"/>
<circle cx="499.50" cy="357.25" r="1.8" fill="#c0152f"/>
<circle cx="499.50" cy="359.53" r="1.8" fill="#c0152f"/>
<circle cx="499.50" cy="362.56" r="1.8" fill="#c0152f"/>
<circle cx="496.40" cy="362.56" r="1.8" fill="#c0152f"/>
<circle cx="502.60" cy="362.56" r="1.8" fill="#c0152f"/>
<circle cx="499.50" cy="367.11" r="1.8" fill="#c0152f"/>
<circle cx="496.40" cy="367.11" r="1.8" fill="#c0152f"/>
<circle cx="502.60" cy="367.11" r="1.8" fill="#c0152f"/>
<circle cx="499.50" cy="371.66" r="1.8" fill="#c0152f"/>
<path d="M472.9,341.32H484.1" stroke="#333" stroke-width="0.7"/>
<path d="M478.50,345.12V336.77M476.75,336.77H480.25M476.75,345.12H480.25" stroke="#333" stroke-width="0.6" fill="none"/>
<path d="M494,357.71H505" stroke="#333" stroke-width="0.7"/>
<path d="M499.50,360.29V354.67M497.75,354.67H501.25M497.75,360.29H501.25" stroke="#333" stroke-width="0.6" fill="none"/>
<path d="M479.00,301.40V296.00H499.50V322.70" stroke="#333" stroke-width="0.85" fill="none"/>
<text x="489.25" y="296.00" font-size="7" fill="#333" text-anchor="middle" font-weight="bold">**</text>
<text transform="translate(449.00,337.00) rotate(-90)" font-size="6.7" fill="#333" text-anchor="middle" textLength="69.3" lengthAdjust="spacingAndGlyphs">Open LFA-1 (MFI ×10<tspan font-size="4.3" dy="-2.4">3</tspan><tspan dy="2.4">)</tspan></text>
<text x="7.20" y="328.70" font-size="12" fill="#111" text-anchor="start" font-weight="bold">E</text>
<text x="58.00" y="325.40" font-size="8.2" fill="#222" text-anchor="middle" >HD</text>
<text x="121.20" y="325.40" font-size="8.2" fill="#222" text-anchor="middle" textLength="27.6" lengthAdjust="spacingAndGlyphs">NDMM</text>
<rect x="29.6" y="330.8" width="57" height="49.7" fill="#070707"/>
<rect x="29.6" y="387" width="57" height="49.3" fill="#070707"/>
<rect x="92.8" y="330.8" width="57" height="49.7" fill="#070707"/>
<rect x="92.8" y="387" width="57" height="49.3" fill="#070707"/>
<text x="84.60" y="339.00" font-size="6.3" fill="#5a9c50" text-anchor="end" font-weight="bold">Phalloidin</text>
<path d="M36.5,348.5 Q40,346 44,347.5 Q46.8,350 45.5,354.5 Q43,358.5 39,357.5 Q35.5,355.5 36.5,348.5Z" fill="#1f4a22" stroke="#5aa855" stroke-width="1.4"/>
<path d="M38.5,351 Q41,349.5 43,351.5" fill="none" stroke="#4a8a48" stroke-width="0.8"/>
<circle cx="77.4" cy="360.2" r="4.0" fill="#cfe9c8" fill-opacity="1" stroke="#f2fbef" stroke-width="2.8" stroke-opacity="1"/>
<circle cx="77.4" cy="360.2" r="5.3" fill="none" fill-opacity="0" stroke="#7cc070" stroke-width="0.7" stroke-opacity="0.6"/>
<path d="M78.8,358.6 A1.8,1.8 0 1 0 78.8,361.8" fill="none" stroke="#5a9a50" stroke-width="0.9"/>
<ellipse cx="115.6" cy="353" rx="2.7" ry="3.1" fill="#0a0a0a" stroke="#f0fff0" stroke-width="1.6"/>
<circle cx="115.6" cy="353" r="3.9" fill="none" fill-opacity="0" stroke="#7ac870" stroke-width="0.5" stroke-opacity="0.7"/>
<circle cx="124.2" cy="360.5" r="3.1" fill="#2a5a2a" fill-opacity="0.9" stroke="#5aa855" stroke-width="1.4" stroke-opacity="0.95"/>
<circle cx="124.2" cy="360.5" r="4.0" fill="none" fill-opacity="0" stroke="#3a7a3a" stroke-width="0.6" stroke-opacity="0.5"/>
<text x="85.50" y="395.00" font-size="6.9" fill="#b02c2c" text-anchor="end" font-weight="bold">LFA-1 (m24)</text>
<circle cx="36.3" cy="408.8" r="3.8" fill="none" fill-opacity="0" stroke="#a03030" stroke-width="0.9" stroke-opacity="0.45"/>
<circle cx="36.3" cy="408.8" r="2.4" fill="none" fill-opacity="0" stroke="#802828" stroke-width="0.8" stroke-opacity="0.5"/>
<circle cx="73.8" cy="417.5" r="4" fill="none" fill-opacity="0" stroke="#802828" stroke-width="0.8" stroke-opacity="0.45"/>
<circle cx="115.5" cy="408.8" r="3.2" fill="none" fill-opacity="0" stroke="#a03838" stroke-width="0.8" stroke-opacity="0.45"/>
<circle cx="115.5" cy="408.8" r="2" fill="none" fill-opacity="0" stroke="#803030" stroke-width="0.6" stroke-opacity="0.5"/>
<text x="33.20" y="429.00" font-size="3.4" fill="#ddd" text-anchor="start" >10µm</text>
<path d="M33,432.4H45" stroke="#ddd" stroke-width="0.8"/>
<text x="7.90" y="462.20" font-size="12" fill="#111" text-anchor="start" font-weight="bold">F</text>
<circle cx="84.60" cy="455.50" r="1.4" fill="#1a2a50"/>
<text x="89.80" y="457.70" font-size="6.4" fill="#2c3e70" text-anchor="start" textLength="8.6" lengthAdjust="spacingAndGlyphs">HD</text>
<circle cx="103.20" cy="455.50" r="1.4" fill="#901030"/>
<text x="107.90" y="457.70" font-size="6.4" fill="#a02040" text-anchor="start" textLength="21.3" lengthAdjust="spacingAndGlyphs">NDMM</text>
<path d="M33.6,466.5V572.1" stroke="#222" stroke-width="0.8" fill="none"/>
<path d="M31.200000000000003,537.30H33.6" stroke="#222" stroke-width="0.8"/>
<text x="27.80" y="539.61" font-size="6.6" fill="#333" text-anchor="end" >20</text>
<path d="M31.200000000000003,502.50H33.6" stroke="#222" stroke-width="0.8"/>
<text x="27.80" y="504.81" font-size="6.6" fill="#333" text-anchor="end" >40</text>
<path d="M31.200000000000003,467.70H33.6" stroke="#222" stroke-width="0.8"/>
<text x="27.80" y="470.01" font-size="6.6" fill="#333" text-anchor="end" >60</text>
<path d="M33.6,572.1H62.8" stroke="#222" stroke-width="0.8"/>
<circle cx="42.80" cy="481.62" r="1.55" fill="#1f4e8c"/>
<circle cx="40.60" cy="483.36" r="1.55" fill="#1f4e8c"/>
<circle cx="43.60" cy="483.71" r="1.55" fill="#1f4e8c"/>
<circle cx="41.40" cy="484.75" r="1.55" fill="#1f4e8c"/>
<circle cx="42.40" cy="486.84" r="1.55" fill="#1f4e8c"/>
<circle cx="42.00" cy="494.67" r="1.55" fill="#1f4e8c"/>
<circle cx="55.00" cy="488.58" r="1.55" fill="#b0102c"/>
<circle cx="54.20" cy="491.19" r="1.55" fill="#b0102c"/>
<circle cx="55.60" cy="493.80" r="1.55" fill="#b0102c"/>
<circle cx="54.00" cy="496.41" r="1.55" fill="#b0102c"/>
<circle cx="56.00" cy="499.02" r="1.55" fill="#b0102c"/>
<circle cx="54.50" cy="501.11" r="1.55" fill="#b0102c"/>
<circle cx="56.20" cy="502.15" r="1.55" fill="#b0102c"/>
<circle cx="53.60" cy="502.50" r="1.55" fill="#b0102c"/>
<circle cx="55.00" cy="504.24" r="1.55" fill="#b0102c"/>
<circle cx="55.60" cy="505.98" r="1.55" fill="#b0102c"/>
<circle cx="54.60" cy="509.46" r="1.55" fill="#b0102c"/>
<circle cx="55.00" cy="512.42" r="1.55" fill="#b0102c"/>
<path d="M38.5,484.75H46" stroke="#333" stroke-width="0.6"/>
<path d="M51,501.63H59" stroke="#333" stroke-width="0.7"/>
<path d="M43.10,475.00V468.90H54.90V480.50" stroke="#333" stroke-width="0.85" fill="none"/>
<text x="49.00" y="468.90" font-size="7" fill="#333" text-anchor="middle" font-weight="bold">***</text>
<text transform="translate(11.80,518.70) rotate(-90)" font-size="6.6" fill="#333" text-anchor="middle" textLength="47.9" lengthAdjust="spacingAndGlyphs">Ring area (µm<tspan font-size="4" dy="-2.2">2</tspan><tspan dy="2.2">)</tspan></text>
<path d="M105.6,466V571.4" stroke="#222" stroke-width="0.8" fill="none"/>
<path d="M103.19999999999999,571.40H105.6" stroke="#222" stroke-width="0.8"/>
<text x="99.80" y="573.71" font-size="6.6" fill="#333" text-anchor="end" >0.0</text>
<path d="M103.19999999999999,545.42H105.6" stroke="#222" stroke-width="0.8"/>
<text x="99.80" y="547.73" font-size="6.6" fill="#333" text-anchor="end" >0.2</text>
<path d="M103.19999999999999,519.44H105.6" stroke="#222" stroke-width="0.8"/>
<text x="99.80" y="521.75" font-size="6.6" fill="#333" text-anchor="end" >0.4</text>
<path d="M103.19999999999999,493.46H105.6" stroke="#222" stroke-width="0.8"/>
<text x="99.80" y="495.77" font-size="6.6" fill="#333" text-anchor="end" >0.6</text>
<path d="M103.19999999999999,467.48H105.6" stroke="#222" stroke-width="0.8"/>
<text x="99.80" y="469.79" font-size="6.6" fill="#333" text-anchor="end" >0.8</text>
<path d="M105.6,571.4H135.2" stroke="#222" stroke-width="0.8"/>
<circle cx="115.50" cy="476.57" r="1.55" fill="#1f4e8c"/>
<circle cx="116.50" cy="481.77" r="1.55" fill="#1f4e8c"/>
<circle cx="115.20" cy="484.37" r="1.55" fill="#1f4e8c"/>
<circle cx="111.80" cy="493.46" r="1.55" fill="#1f4e8c"/>
<circle cx="118.60" cy="496.06" r="1.55" fill="#1f4e8c"/>
<circle cx="115.50" cy="515.54" r="1.55" fill="#1f4e8c"/>
<circle cx="129.30" cy="475.27" r="1.55" fill="#b0102c"/>
<circle cx="129.30" cy="485.02" r="1.55" fill="#b0102c"/>
<circle cx="129.30" cy="490.21" r="1.55" fill="#b0102c"/>
<circle cx="129.30" cy="510.35" r="1.55" fill="#b0102c"/>
<circle cx="127.20" cy="516.84" r="1.55" fill="#b0102c"/>
<circle cx="130.80" cy="517.49" r="1.55" fill="#b0102c"/>
<circle cx="128.30" cy="519.44" r="1.55" fill="#b0102c"/>
<circle cx="131.20" cy="520.74" r="1.55" fill="#b0102c"/>
<circle cx="126.80" cy="522.04" r="1.55" fill="#b0102c"/>
<circle cx="129.50" cy="523.34" r="1.55" fill="#b0102c"/>
<circle cx="131.50" cy="524.64" r="1.55" fill="#b0102c"/>
<circle cx="127.50" cy="525.29" r="1.55" fill="#b0102c"/>
<circle cx="130.00" cy="526.58" r="1.55" fill="#b0102c"/>
<circle cx="128.00" cy="527.88" r="1.55" fill="#b0102c"/>
<circle cx="130.60" cy="528.53" r="1.55" fill="#b0102c"/>
<path d="M114,489.56H121.4" stroke="#333" stroke-width="0.6"/>
<path d="M126,519.44H133" stroke="#333" stroke-width="0.6"/>
<path d="M115.20,472.00V470.20H128.30V472.20" stroke="#333" stroke-width="0.85" fill="none"/>
<text x="121.75" y="470.20" font-size="7" fill="#333" text-anchor="middle" font-weight="bold">*</text>
<text transform="translate(84.20,518.40) rotate(-90)" font-size="6.8" fill="#333" text-anchor="middle" textLength="70.4" lengthAdjust="spacingAndGlyphs">Ring length/width ratio</text>
<path d="M176.1,465.8V571.9" stroke="#222" stroke-width="0.8" fill="none"/>
<path d="M173.7,571.90H176.1" stroke="#222" stroke-width="0.8"/>
<text x="170.30" y="574.21" font-size="6.6" fill="#333" text-anchor="end" >0</text>
<path d="M173.7,551.38H176.1" stroke="#222" stroke-width="0.8"/>
<text x="170.30" y="553.69" font-size="6.6" fill="#333" text-anchor="end" >2</text>
<path d="M173.7,530.86H176.1" stroke="#222" stroke-width="0.8"/>
<text x="170.30" y="533.17" font-size="6.6" fill="#333" text-anchor="end" >4</text>
<path d="M173.7,510.34H176.1" stroke="#222" stroke-width="0.8"/>
<text x="170.30" y="512.65" font-size="6.6" fill="#333" text-anchor="end" >6</text>
<path d="M173.7,489.82H176.1" stroke="#222" stroke-width="0.8"/>
<text x="170.30" y="492.13" font-size="6.6" fill="#333" text-anchor="end" >8</text>
<path d="M173.7,469.30H176.1" stroke="#222" stroke-width="0.8"/>
<text x="170.30" y="471.61" font-size="6.6" fill="#333" text-anchor="end" >10</text>
<path d="M176.1,571.9H205.2" stroke="#222" stroke-width="0.8"/>
<circle cx="185.50" cy="487.77" r="1.55" fill="#1f4e8c"/>
<circle cx="185.50" cy="494.95" r="1.55" fill="#1f4e8c"/>
<circle cx="185.50" cy="506.24" r="1.55" fill="#1f4e8c"/>
<circle cx="182.00" cy="523.68" r="1.55" fill="#1f4e8c"/>
<circle cx="188.80" cy="525.73" r="1.55" fill="#1f4e8c"/>
<circle cx="185.50" cy="544.20" r="1.55" fill="#1f4e8c"/>
<circle cx="198.00" cy="525.73" r="1.55" fill="#b0102c"/>
<circle cx="198.00" cy="530.86" r="1.55" fill="#b0102c"/>
<circle cx="198.00" cy="542.15" r="1.55" fill="#b0102c"/>
<circle cx="198.00" cy="545.22" r="1.55" fill="#b0102c"/>
<circle cx="198.00" cy="551.38" r="1.55" fill="#b0102c"/>
<circle cx="196.50" cy="559.59" r="1.55" fill="#b0102c"/>
<circle cx="200.00" cy="559.07" r="1.55" fill="#b0102c"/>
<circle cx="197.50" cy="561.64" r="1.55" fill="#b0102c"/>
<circle cx="195.50" cy="566.77" r="1.55" fill="#b0102c"/>
<circle cx="199.00" cy="567.28" r="1.55" fill="#b0102c"/>
<circle cx="201.00" cy="568.31" r="1.55" fill="#b0102c"/>
<circle cx="196.50" cy="568.82" r="1.55" fill="#b0102c"/>
<circle cx="198.50" cy="568.82" r="1.55" fill="#b0102c"/>
<circle cx="200.50" cy="568.82" r="1.55" fill="#b0102c"/>
<path d="M181.5,515.47H190.5" stroke="#333" stroke-width="0.6"/>
<path d="M194,561.13H202" stroke="#333" stroke-width="0.6"/>
<path d="M185.80,481.90V475.80H197.90V494.00" stroke="#333" stroke-width="0.85" fill="none"/>
<text x="191.85" y="475.80" font-size="7" fill="#333" text-anchor="middle" font-weight="bold">***</text>
<text transform="translate(161.00,521.00) rotate(-90)" font-size="6.6" fill="#333" text-anchor="middle" textLength="54.3" lengthAdjust="spacingAndGlyphs">LFA-1 spots per ring</text>
<text x="223.40" y="415.00" font-size="12" fill="#111" text-anchor="start" font-weight="bold">G</text>
<path d="M246.10,474.20L246.10,474.20L246.60,474.20L247.10,474.20L247.60,474.20L248.10,474.20L248.60,474.19L249.10,474.19L249.60,474.19L250.10,474.18L250.60,474.17L251.10,474.16L251.60,474.15L252.10,474.14L252.60,474.12L253.10,474.09L253.60,474.06L254.10,474.02L254.60,473.98L255.10,473.92L255.60,473.85L256.10,473.78L256.60,473.68L257.10,473.58L257.60,473.46L258.10,473.32L258.60,473.17L259.10,472.99L259.60,472.80L260.10,472.58L260.60,472.33L261.10,472.04L261.60,471.70L262.10,471.30L262.60,470.83L263.10,470.25L263.60,469.55L264.10,468.71L264.60,467.69L265.10,466.47L265.60,465.03L266.10,463.37L266.60,461.48L267.10,459.39L267.60,457.13L268.10,454.77L268.60,452.37L269.10,450.04L269.60,447.86L270.10,445.96L270.60,444.42L271.10,443.34L271.60,442.78L272.10,444.22L272.60,444.99L273.10,446.77L273.60,449.38L274.10,452.55L274.60,456.00L275.10,459.46L275.60,462.70L276.10,465.55L276.60,467.93L277.10,469.82L277.60,471.25L278.10,472.29L278.60,473.00L279.10,473.48L279.60,473.78L280.10,473.97L280.60,474.07L281.10,474.13L281.60,474.17L282.10,474.18L282.60,474.19L283.10,474.20L283.60,474.20L284.10,474.20L284.60,474.20L285.10,474.20L285.60,474.20L286.10,474.20L286.60,474.20L287.10,474.20L287.60,474.20L288.10,474.20L288.60,474.20L289.10,474.20L289.60,474.20L290.10,474.20L290.60,474.20L291.10,474.20L291.60,474.20L292.10,474.20L292.60,474.20L293.10,474.20L293.60,474.20L294.10,474.20L294.60,474.20L295.10,474.20L295.60,474.20L296.10,474.20L296.60,474.20L297.10,474.20L297.60,474.20L298.10,474.20L298.60,474.20L299.10,474.20L299.60,474.20L300.10,474.20L300.60,474.20L301.10,474.20L301.60,474.20L302.10,474.20L302.60,474.20L303.10,474.20L303.60,474.20L303.70,474.20Z" fill="#bfe3b8" stroke="#74b866" stroke-width="0.8"/>
<path d="M246.10,509.20L246.10,509.03L246.60,508.96L247.10,508.88L247.60,508.79L248.10,508.68L248.60,508.57L249.10,508.45L249.60,508.33L250.10,508.22L250.60,508.12L251.10,508.05L251.60,508.01L252.10,508.00L252.60,508.02L253.10,508.08L253.60,508.16L254.10,508.26L254.60,508.38L255.10,508.50L255.60,508.62L256.10,508.73L256.60,508.83L257.10,508.92L257.60,508.99L258.10,509.05L258.60,509.09L259.10,509.13L259.60,509.15L260.10,509.17L260.60,509.18L261.10,509.19L261.60,509.19L262.10,509.19L262.60,509.19L263.10,509.18L263.60,509.17L264.10,509.14L264.60,509.11L265.10,509.05L265.60,508.96L266.10,508.82L266.60,508.62L267.10,508.34L267.60,507.94L268.10,507.38L268.60,506.65L269.10,505.70L269.60,504.49L270.10,503.00L270.60,501.21L271.10,499.14L271.60,496.79L272.10,494.22L272.60,491.50L273.10,488.74L273.60,486.06L274.10,483.58L274.60,481.45L275.10,479.78L275.60,478.68L276.10,478.21L276.60,478.56L277.10,480.00L277.60,482.38L278.10,485.46L278.60,488.95L279.10,492.56L279.60,496.02L280.10,499.14L280.60,501.80L281.10,503.95L281.60,505.61L282.10,506.84L282.60,507.70L283.10,508.28L283.60,508.66L284.10,508.89L284.60,509.03L285.10,509.11L285.60,509.16L286.10,509.18L286.60,509.19L287.10,509.20L287.60,509.20L288.10,509.20L288.60,509.20L289.10,509.20L289.60,509.20L290.10,509.20L290.60,509.20L291.10,509.20L291.60,509.20L292.10,509.20L292.60,509.20L293.10,509.20L293.60,509.20L294.10,509.20L294.60,509.20L295.10,509.20L295.60,509.20L296.10,509.20L296.60,509.20L297.10,509.20L297.60,509.20L298.10,509.20L298.60,509.20L299.10,509.20L299.60,509.20L300.10,509.20L300.60,509.20L301.10,509.20L301.60,509.20L302.10,509.20L302.60,509.20L303.10,509.20L303.60,509.20L303.70,509.20Z" fill="#efb1a6" stroke="#d85050" stroke-width="0.8"/>
<path d="M246.10,546.50L246.10,546.50L246.60,546.50L247.10,546.50L247.60,546.50L248.10,546.50L248.60,546.50L249.10,546.50L249.60,546.50L250.10,546.50L250.60,546.50L251.10,546.50L251.60,546.50L252.10,546.50L252.60,546.50L253.10,546.50L253.60,546.50L254.10,546.50L254.60,546.50L255.10,546.50L255.60,546.50L256.10,546.50L256.60,546.50L257.10,546.50L257.60,546.50L258.10,546.50L258.60,546.50L259.10,546.50L259.60,546.50L260.10,546.50L260.60,546.50L261.10,546.50L261.60,546.50L262.10,546.50L262.60,546.50L263.10,546.50L263.60,546.50L264.10,546.50L264.60,546.50L265.10,546.50L265.60,546.50L266.10,546.50L266.60,546.50L267.10,546.50L267.60,546.50L268.10,546.50L268.60,546.50L269.10,546.50L269.60,546.50L270.10,546.50L270.60,546.50L271.10,546.27L271.60,545.25L272.10,543.51L272.60,543.66L273.10,542.57L273.60,541.33L274.10,541.22L274.60,539.32L275.10,537.89L275.60,536.33L276.10,536.81L276.60,535.09L277.10,534.36L277.60,531.38L278.10,530.38L278.60,530.65L279.10,527.18L279.60,526.38L280.10,526.30L280.60,525.56L281.10,525.82L281.60,525.33L282.10,523.27L282.60,523.56L283.10,522.41L283.60,521.45L284.10,521.13L284.60,519.25L285.10,518.89L285.60,519.18L286.10,521.23L286.60,522.22L287.10,523.86L287.60,524.79L288.10,526.63L288.60,528.43L289.10,528.09L289.60,529.52L290.10,531.34L290.60,533.15L291.10,535.63L291.60,537.42L292.10,538.94L292.60,541.21L293.10,541.42L293.60,544.42L294.10,546.50L294.60,546.50L295.10,546.50L295.60,546.50L296.10,546.50L296.60,546.50L297.10,546.50L297.60,546.50L298.10,546.50L298.60,546.50L299.10,546.50L299.60,546.50L300.10,546.50L300.60,546.50L301.10,546.50L301.60,546.50L302.10,546.50L302.60,546.50L303.10,546.50L303.60,546.50L303.70,546.50Z" fill="#b6bcdd" stroke="#4a62a6" stroke-width="0.8"/>
<rect x="246.1" y="438.9" width="57.599999999999994" height="107.60000000000002" fill="none" stroke="#222" stroke-width="0.8"/>
<text x="249.30" y="446.50" font-size="6.2" fill="#333" text-anchor="start" >MFI:</text>
<text x="300.60" y="446.50" font-size="6.3" fill="#333" text-anchor="end" >16013</text>
<text x="300.60" y="483.20" font-size="6.3" fill="#333" text-anchor="end" >23591</text>
<text x="300.60" y="517.20" font-size="6.3" fill="#333" text-anchor="end" >74656</text>
<text x="253.70" y="554.50" font-size="5.4" fill="#333" text-anchor="middle" >0</text>
<text x="268.50" y="554.50" font-size="5.4" fill="#333" text-anchor="middle" >10<tspan font-size="3.89" dy="-2.27">4</tspan></text>
<text x="288.00" y="554.50" font-size="5.4" fill="#333" text-anchor="middle" >10<tspan font-size="3.89" dy="-2.27">5</tspan></text>
<path d="M249,546.5V548.1" stroke="#333" stroke-width="0.5"/>
<path d="M251,546.5V548.1" stroke="#333" stroke-width="0.5"/>
<path d="M253.7,546.5V548.1" stroke="#333" stroke-width="0.5"/>
<path d="M256,546.5V548.1" stroke="#333" stroke-width="0.5"/>
<path d="M259,546.5V548.1" stroke="#333" stroke-width="0.5"/>
<path d="M262,546.5V548.1" stroke="#333" stroke-width="0.5"/>
<path d="M265,546.5V548.1" stroke="#333" stroke-width="0.5"/>
<path d="M268.5,546.5V548.1" stroke="#333" stroke-width="0.5"/>
<path d="M272,546.5V548.1" stroke="#333" stroke-width="0.5"/>
<path d="M276,546.5V548.1" stroke="#333" stroke-width="0.5"/>
<path d="M280,546.5V548.1" stroke="#333" stroke-width="0.5"/>
<path d="M284,546.5V548.1" stroke="#333" stroke-width="0.5"/>
<path d="M288,546.5V548.1" stroke="#333" stroke-width="0.5"/>
<path d="M292,546.5V548.1" stroke="#333" stroke-width="0.5"/>
<path d="M296,546.5V548.1" stroke="#333" stroke-width="0.5"/>
<path d="M300,546.5V548.1" stroke="#333" stroke-width="0.5"/>
<text x="274.70" y="566.30" font-size="8" fill="#333" text-anchor="middle" textLength="29.8" lengthAdjust="spacingAndGlyphs">Phalloidin</text>
<text transform="translate(240.30,458.60) rotate(-90)" font-size="6.3" fill="#6ab060" text-anchor="middle" >RRMM</text>
<text transform="translate(240.30,494.60) rotate(-90)" font-size="6.3" fill="#d0303a" text-anchor="middle" >NDMM</text>
<text transform="translate(240.30,530.60) rotate(-90)" font-size="6.3" fill="#3b5f9e" text-anchor="middle" >HD</text>
<path d="M348.2,439.4V544.1" stroke="#222" stroke-width="0.8" fill="none"/>
<path d="M344.59999999999997,544.10H348.2" stroke="#222" stroke-width="0.8"/>
<text x="341.90" y="546.38" font-size="6.5" fill="#333" text-anchor="end" >0</text>
<path d="M344.59999999999997,523.63H348.2" stroke="#222" stroke-width="0.8"/>
<text x="341.90" y="525.90" font-size="6.5" fill="#333" text-anchor="end" >50</text>
<path d="M344.59999999999997,503.16H348.2" stroke="#222" stroke-width="0.8"/>
<text x="341.90" y="505.44" font-size="6.5" fill="#333" text-anchor="end" >100</text>
<path d="M344.59999999999997,482.69H348.2" stroke="#222" stroke-width="0.8"/>
<text x="341.90" y="484.97" font-size="6.5" fill="#333" text-anchor="end" >150</text>
<path d="M344.59999999999997,462.22H348.2" stroke="#222" stroke-width="0.8"/>
<text x="341.90" y="464.50" font-size="6.5" fill="#333" text-anchor="end" >200</text>
<path d="M344.59999999999997,441.75H348.2" stroke="#222" stroke-width="0.8"/>
<text x="341.90" y="444.02" font-size="6.5" fill="#333" text-anchor="end" >250</text>
<path d="M348.4,544.1H393.8" stroke="#222" stroke-width="0.8" fill="none"/>
<path d="M357.90,544.1V546.1" stroke="#222" stroke-width="0.8"/>
<path d="M371.50,544.1V546.1" stroke="#222" stroke-width="0.8"/>
<path d="M385.30,544.1V546.1" stroke="#222" stroke-width="0.8"/>
<rect x="353.8" y="476.55" width="8.2" height="67.55" fill="#7f8fc4"/>
<rect x="367.2" y="527.72" width="8.5" height="16.38" fill="#e9a096"/>
<rect x="380.9" y="540.01" width="8.9" height="4.09" fill="#a9d9a2"/>
<circle cx="357.90" cy="460.99" r="1.95" fill="#3a619f"/>
<circle cx="357.90" cy="468.36" r="1.95" fill="#3a619f"/>
<circle cx="356.00" cy="473.68" r="1.95" fill="#3a619f"/>
<circle cx="359.80" cy="474.50" r="1.95" fill="#3a619f"/>
<circle cx="355.50" cy="476.55" r="1.95" fill="#3a619f"/>
<circle cx="360.40" cy="476.55" r="1.95" fill="#3a619f"/>
<circle cx="357.90" cy="478.60" r="1.95" fill="#3a619f"/>
<circle cx="357.90" cy="482.69" r="1.95" fill="#3a619f"/>
<circle cx="357.90" cy="513.39" r="1.95" fill="#3a619f"/>
<circle cx="371.50" cy="494.15" r="1.95" fill="#d42a38"/>
<circle cx="370.00" cy="503.16" r="1.95" fill="#d42a38"/>
<circle cx="373.00" cy="503.57" r="1.95" fill="#d42a38"/>
<circle cx="371.50" cy="511.35" r="1.95" fill="#d42a38"/>
<circle cx="371.50" cy="515.44" r="1.95" fill="#d42a38"/>
<circle cx="371.50" cy="519.54" r="1.95" fill="#d42a38"/>
<circle cx="369.50" cy="523.63" r="1.95" fill="#d42a38"/>
<circle cx="373.50" cy="525.27" r="1.95" fill="#d42a38"/>
<circle cx="371.50" cy="527.72" r="1.95" fill="#d42a38"/>
<circle cx="369.50" cy="529.36" r="1.95" fill="#d42a38"/>
<circle cx="373.50" cy="530.59" r="1.95" fill="#d42a38"/>
<circle cx="371.50" cy="532.64" r="1.95" fill="#d42a38"/>
<circle cx="369.00" cy="534.27" r="1.95" fill="#d42a38"/>
<circle cx="374.00" cy="535.09" r="1.95" fill="#d42a38"/>
<circle cx="371.50" cy="536.73" r="1.95" fill="#d42a38"/>
<circle cx="369.50" cy="538.37" r="1.95" fill="#d42a38"/>
<circle cx="373.50" cy="539.19" r="1.95" fill="#d42a38"/>
<circle cx="371.50" cy="540.42" r="1.95" fill="#d42a38"/>
<circle cx="369.50" cy="541.64" r="1.95" fill="#d42a38"/>
<circle cx="373.50" cy="542.05" r="1.95" fill="#d42a38"/>
<circle cx="385.30" cy="526.91" r="1.95" fill="#68b85c"/>
<circle cx="385.30" cy="535.91" r="1.95" fill="#68b85c"/>
<circle cx="383.50" cy="539.19" r="1.95" fill="#68b85c"/>
<circle cx="387.00" cy="540.42" r="1.95" fill="#68b85c"/>
<circle cx="385.30" cy="541.64" r="1.95" fill="#68b85c"/>
<circle cx="383.50" cy="542.46" r="1.95" fill="#68b85c"/>
<path d="M357.90,482.69V471.23M356.65,471.23H359.15M356.65,482.69H359.15" stroke="#333" stroke-width="0.6" fill="none"/>
<path d="M385.30,543.28V534.27M384.05,534.27H386.55M384.05,543.28H386.55" stroke="#333" stroke-width="0.6" fill="none"/>
<path d="M357,453.5H372.6M357,455.6H392.5M376.6,467.2H392.5" stroke="#999" stroke-width="0.8" fill="none"/>
<text x="364.80" y="455.20" font-size="7" fill="#333" text-anchor="middle" font-weight="bold">***</text>
<text x="383.30" y="456.60" font-size="7" fill="#333" text-anchor="middle" font-weight="bold">***</text>
<text x="384.20" y="465.40" font-size="6.3" fill="#333" text-anchor="middle" >ns</text>
<text transform="translate(352.90,560.20) rotate(-45)" font-size="6.9" fill="#3b5f9e">HD</text>
<text transform="translate(361.00,567.00) rotate(-45)" font-size="6.9" fill="#d0303a">NDMM</text>
<text transform="translate(373.60,568.20) rotate(-45)" font-size="6.9" fill="#6ab060">RRMM</text>
<text transform="translate(325.00,491.30) rotate(-90)" font-size="6.7" fill="#333" text-anchor="middle" textLength="70.5" lengthAdjust="spacingAndGlyphs">MFI: phalloidin (×10<tspan font-size="4.3" dy="-2.4">3</tspan><tspan dy="2.4">)</tspan></text>
<text x="411.20" y="414.90" font-size="12" fill="#111" text-anchor="start" font-weight="bold">H</text>
<path d="M440.2,441.2V567.4" stroke="#222" stroke-width="0.8" fill="none"/>
<path d="M437.0,567.40H440.2" stroke="#222" stroke-width="0.8"/>
<text x="434.60" y="569.64" font-size="6.4" fill="#333" text-anchor="end" >0</text>
<path d="M437.0,526.02H440.2" stroke="#222" stroke-width="0.8"/>
<text x="434.60" y="528.26" font-size="6.4" fill="#333" text-anchor="end" >50</text>
<path d="M437.0,484.64H440.2" stroke="#222" stroke-width="0.8"/>
<text x="434.60" y="486.88" font-size="6.4" fill="#333" text-anchor="end" >100</text>
<path d="M437.0,443.26H440.2" stroke="#222" stroke-width="0.8"/>
<text x="434.60" y="445.50" font-size="6.4" fill="#333" text-anchor="end" >150</text>
<path d="M440.2,567.4H499.6" stroke="#222" stroke-width="0.8" fill="none"/>
<path d="M447.60,567.4V569.4" stroke="#222" stroke-width="0.8"/>
<path d="M458.70,567.4V569.4" stroke="#222" stroke-width="0.8"/>
<path d="M469.60,567.4V569.4" stroke="#222" stroke-width="0.8"/>
<path d="M480.80,567.4V569.4" stroke="#222" stroke-width="0.8"/>
<path d="M491.90,567.4V569.4" stroke="#222" stroke-width="0.8"/>
<path d="M447.15,521.05 L447.15,521.73 L447.15,522.41 L447.15,523.08 L447.15,523.76 L447.15,524.43 L447.15,525.11 L447.15,525.79 L447.14,526.46 L447.13,527.14 L447.12,527.81 L447.10,528.49 L447.06,529.16 L447.00,529.84 L446.92,530.52 L446.82,531.19 L446.68,531.87 L446.51,532.54 L446.31,533.22 L446.09,533.90 L445.84,534.57 L445.59,535.25 L445.34,535.92 L445.10,536.60 L444.88,537.28 L444.68,537.95 L444.52,538.63 L444.39,539.30 L444.29,539.98 L444.22,540.65 L444.18,541.33 L444.16,542.01 L444.15,542.68 L444.15,543.36 L444.15,544.03 L444.17,544.71 L444.21,545.39 L444.29,546.06 L444.42,546.74 L444.61,547.41 L444.85,548.09 L445.13,548.77 L445.45,549.44 L445.77,550.12 L446.09,550.79 L446.37,551.47 L446.61,552.14 L446.80,552.82 L446.94,553.50 L447.03,554.17 L447.09,554.85 L447.12,555.52 L447.14,556.20 L447.14,556.88 L447.15,557.55 L447.15,558.23 L447.15,558.90 L447.15,559.58 L447.15,560.26 L447.15,560.93 L447.15,561.61 L448.05,561.61 L448.05,560.93 L448.05,560.26 L448.05,559.58 L448.05,558.90 L448.05,558.23 L448.05,557.55 L448.06,556.88 L448.06,556.20 L448.08,555.52 L448.11,554.85 L448.17,554.17 L448.26,553.50 L448.40,552.82 L448.59,552.14 L448.83,551.47 L449.11,550.79 L449.43,550.12 L449.75,549.44 L450.07,548.77 L450.35,548.09 L450.59,547.41 L450.78,546.74 L450.91,546.06 L450.99,545.39 L451.03,544.71 L451.05,544.03 L451.05,543.36 L451.05,542.68 L451.04,542.01 L451.02,541.33 L450.98,540.65 L450.91,539.98 L450.81,539.30 L450.68,538.63 L450.52,537.95 L450.32,537.28 L450.10,536.60 L449.86,535.92 L449.61,535.25 L449.36,534.57 L449.11,533.90 L448.89,533.22 L448.69,532.54 L448.52,531.87 L448.38,531.19 L448.28,530.52 L448.20,529.84 L448.14,529.16 L448.10,528.49 L448.08,527.81 L448.07,527.14 L448.06,526.46 L448.05,525.79 L448.05,525.11 L448.05,524.43 L448.05,523.76 L448.05,523.08 L448.05,522.41 L448.05,521.73 L448.05,521.05Z" fill="#bdbb6c" stroke="#bdbb6c" stroke-width="0.4"/>
<circle cx="450.04" cy="543.93" r="0.6" fill="#141414"/>
<circle cx="448.03" cy="553.70" r="0.6" fill="#141414"/>
<circle cx="447.71" cy="525.97" r="0.6" fill="#141414"/>
<circle cx="445.59" cy="546.37" r="0.6" fill="#141414"/>
<circle cx="448.01" cy="543.20" r="0.6" fill="#141414"/>
<circle cx="446.89" cy="534.07" r="0.6" fill="#141414"/>
<circle cx="447.03" cy="532.42" r="0.6" fill="#141414"/>
<circle cx="446.07" cy="548.35" r="0.6" fill="#141414"/>
<circle cx="449.65" cy="543.64" r="0.6" fill="#141414"/>
<circle cx="446.03" cy="543.08" r="0.6" fill="#141414"/>
<circle cx="449.95" cy="546.73" r="0.6" fill="#141414"/>
<circle cx="448.50" cy="546.84" r="0.6" fill="#141414"/>
<circle cx="448.46" cy="532.77" r="0.6" fill="#141414"/>
<circle cx="446.57" cy="546.62" r="0.6" fill="#141414"/>
<circle cx="445.22" cy="541.29" r="0.6" fill="#141414"/>
<circle cx="448.14" cy="539.79" r="0.6" fill="#141414"/>
<circle cx="446.58" cy="540.44" r="0.6" fill="#141414"/>
<circle cx="447.52" cy="548.13" r="0.6" fill="#141414"/>
<circle cx="446.95" cy="531.85" r="0.6" fill="#141414"/>
<circle cx="444.97" cy="544.46" r="0.6" fill="#141414"/>
<circle cx="449.19" cy="544.02" r="0.6" fill="#141414"/>
<circle cx="448.03" cy="542.22" r="0.6" fill="#141414"/>
<circle cx="449.88" cy="538.90" r="0.6" fill="#141414"/>
<circle cx="449.01" cy="542.04" r="0.6" fill="#141414"/>
<circle cx="446.99" cy="548.37" r="0.6" fill="#141414"/>
<circle cx="449.10" cy="545.30" r="0.6" fill="#141414"/>
<circle cx="449.59" cy="543.27" r="0.6" fill="#141414"/>
<circle cx="448.04" cy="530.09" r="0.6" fill="#141414"/>
<circle cx="449.54" cy="537.88" r="0.6" fill="#141414"/>
<circle cx="448.84" cy="534.79" r="0.6" fill="#141414"/>
<circle cx="445.85" cy="545.33" r="0.6" fill="#141414"/>
<circle cx="446.05" cy="537.39" r="0.6" fill="#141414"/>
<circle cx="445.32" cy="546.84" r="0.6" fill="#141414"/>
<circle cx="447.79" cy="543.47" r="0.6" fill="#141414"/>
<circle cx="449.40" cy="542.60" r="0.6" fill="#141414"/>
<circle cx="447.43" cy="533.43" r="0.6" fill="#141414"/>
<circle cx="447.56" cy="541.74" r="0.6" fill="#141414"/>
<circle cx="445.56" cy="544.15" r="0.6" fill="#141414"/>
<circle cx="448.22" cy="551.17" r="0.6" fill="#141414"/>
<circle cx="447.25" cy="540.14" r="0.6" fill="#141414"/>
<circle cx="447.35" cy="539.91" r="0.6" fill="#141414"/>
<circle cx="449.29" cy="547.41" r="0.6" fill="#141414"/>
<circle cx="448.32" cy="549.82" r="0.6" fill="#141414"/>
<circle cx="446.46" cy="540.92" r="0.6" fill="#141414"/>
<circle cx="450.07" cy="539.01" r="0.6" fill="#141414"/>
<circle cx="448.17" cy="547.89" r="0.6" fill="#141414"/>
<circle cx="446.35" cy="541.70" r="0.6" fill="#141414"/>
<circle cx="449.58" cy="545.53" r="0.6" fill="#141414"/>
<circle cx="448.65" cy="540.51" r="0.6" fill="#141414"/>
<circle cx="447.90" cy="553.15" r="0.6" fill="#141414"/>
<circle cx="447.52" cy="541.69" r="0.6" fill="#141414"/>
<circle cx="448.46" cy="547.91" r="0.6" fill="#141414"/>
<circle cx="447.77" cy="533.24" r="0.6" fill="#141414"/>
<circle cx="447.85" cy="539.78" r="0.6" fill="#141414"/>
<circle cx="449.24" cy="539.47" r="0.6" fill="#141414"/>
<circle cx="448.70" cy="549.09" r="0.6" fill="#141414"/>
<circle cx="448.78" cy="535.87" r="0.6" fill="#141414"/>
<circle cx="448.41" cy="533.81" r="0.6" fill="#141414"/>
<circle cx="449.19" cy="549.38" r="0.6" fill="#141414"/>
<circle cx="447.62" cy="558.06" r="0.6" fill="#141414"/>
<circle cx="447.54" cy="534.32" r="0.6" fill="#141414"/>
<circle cx="447.78" cy="555.07" r="0.6" fill="#141414"/>
<circle cx="447.95" cy="548.16" r="0.6" fill="#141414"/>
<circle cx="447.48" cy="552.29" r="0.6" fill="#141414"/>
<circle cx="448.81" cy="544.67" r="0.6" fill="#141414"/>
<circle cx="446.95" cy="532.93" r="0.6" fill="#141414"/>
<circle cx="448.60" cy="540.32" r="0.6" fill="#141414"/>
<circle cx="445.26" cy="546.70" r="0.6" fill="#141414"/>
<circle cx="445.58" cy="543.03" r="0.6" fill="#141414"/>
<circle cx="445.87" cy="540.94" r="0.6" fill="#141414"/>
<circle cx="447.21" cy="535.27" r="0.6" fill="#141414"/>
<circle cx="448.09" cy="544.84" r="0.6" fill="#141414"/>
<circle cx="447.08" cy="543.18" r="0.6" fill="#141414"/>
<circle cx="447.10" cy="543.24" r="0.6" fill="#141414"/>
<circle cx="445.15" cy="539.87" r="0.6" fill="#141414"/>
<circle cx="445.87" cy="548.29" r="0.6" fill="#141414"/>
<circle cx="449.78" cy="547.47" r="0.6" fill="#141414"/>
<circle cx="447.35" cy="549.87" r="0.6" fill="#141414"/>
<circle cx="445.80" cy="546.88" r="0.6" fill="#141414"/>
<circle cx="447.89" cy="547.74" r="0.6" fill="#141414"/>
<circle cx="447.28" cy="551.17" r="0.6" fill="#141414"/>
<circle cx="444.87" cy="544.98" r="0.6" fill="#141414"/>
<circle cx="446.72" cy="533.97" r="0.6" fill="#141414"/>
<circle cx="449.61" cy="546.62" r="0.6" fill="#141414"/>
<circle cx="446.58" cy="538.55" r="0.6" fill="#141414"/>
<circle cx="446.94" cy="545.13" r="0.6" fill="#141414"/>
<circle cx="446.89" cy="550.08" r="0.6" fill="#141414"/>
<circle cx="447.58" cy="547.42" r="0.6" fill="#141414"/>
<circle cx="447.58" cy="534.36" r="0.6" fill="#141414"/>
<circle cx="447.58" cy="523.93" r="0.6" fill="#141414"/>
<circle cx="446.67" cy="537.58" r="0.6" fill="#141414"/>
<circle cx="449.11" cy="547.74" r="0.6" fill="#141414"/>
<circle cx="449.56" cy="537.57" r="0.6" fill="#141414"/>
<circle cx="446.20" cy="544.34" r="0.6" fill="#141414"/>
<circle cx="447.36" cy="530.82" r="0.6" fill="#141414"/>
<circle cx="447.58" cy="557.75" r="0.6" fill="#141414"/>
<circle cx="446.73" cy="550.99" r="0.6" fill="#141414"/>
<circle cx="446.88" cy="549.20" r="0.6" fill="#141414"/>
<circle cx="447.76" cy="545.90" r="0.6" fill="#141414"/>
<circle cx="446.95" cy="538.04" r="0.6" fill="#141414"/>
<circle cx="446.24" cy="544.73" r="0.6" fill="#141414"/>
<circle cx="449.90" cy="542.30" r="0.6" fill="#141414"/>
<circle cx="449.13" cy="544.35" r="0.6" fill="#141414"/>
<circle cx="448.02" cy="543.04" r="0.6" fill="#141414"/>
<circle cx="449.46" cy="547.88" r="0.6" fill="#141414"/>
<circle cx="447.14" cy="537.09" r="0.6" fill="#141414"/>
<circle cx="449.41" cy="545.00" r="0.6" fill="#141414"/>
<circle cx="449.10" cy="537.50" r="0.6" fill="#141414"/>
<circle cx="448.89" cy="547.74" r="0.6" fill="#141414"/>
<circle cx="445.66" cy="545.35" r="0.6" fill="#141414"/>
<path d="M458.25,502.85 L458.25,503.87 L458.25,504.89 L458.25,505.91 L458.25,506.93 L458.25,507.95 L458.25,508.97 L458.25,509.99 L458.25,511.01 L458.25,512.03 L458.25,513.05 L458.25,514.07 L458.24,515.10 L458.22,516.12 L458.18,517.14 L458.12,518.16 L458.01,519.18 L457.86,520.20 L457.64,521.22 L457.36,522.24 L457.04,523.26 L456.69,524.28 L456.33,525.30 L456.00,526.32 L455.72,527.34 L455.49,528.36 L455.33,529.39 L455.23,530.41 L455.17,531.43 L455.15,532.45 L455.15,533.47 L455.16,534.49 L455.22,535.51 L455.37,536.53 L455.65,537.55 L456.05,538.57 L456.53,539.59 L457.04,540.61 L457.49,541.63 L457.83,542.65 L458.05,543.68 L458.17,544.70 L458.22,545.72 L458.24,546.74 L458.25,547.76 L458.25,548.78 L458.25,549.80 L458.25,550.82 L458.25,551.84 L458.25,552.86 L458.25,553.88 L458.25,554.90 L458.25,555.92 L458.25,556.94 L458.25,557.97 L458.25,558.99 L458.25,560.01 L458.25,561.03 L458.25,562.05 L458.25,563.07 L458.25,564.09 L459.15,564.09 L459.15,563.07 L459.15,562.05 L459.15,561.03 L459.15,560.01 L459.15,558.99 L459.15,557.97 L459.15,556.94 L459.15,555.92 L459.15,554.90 L459.15,553.88 L459.15,552.86 L459.15,551.84 L459.15,550.82 L459.15,549.80 L459.15,548.78 L459.15,547.76 L459.16,546.74 L459.18,545.72 L459.23,544.70 L459.35,543.68 L459.57,542.65 L459.91,541.63 L460.36,540.61 L460.87,539.59 L461.35,538.57 L461.75,537.55 L462.03,536.53 L462.18,535.51 L462.24,534.49 L462.25,533.47 L462.25,532.45 L462.23,531.43 L462.17,530.41 L462.07,529.39 L461.91,528.36 L461.68,527.34 L461.40,526.32 L461.07,525.30 L460.71,524.28 L460.36,523.26 L460.04,522.24 L459.76,521.22 L459.54,520.20 L459.39,519.18 L459.28,518.16 L459.22,517.14 L459.18,516.12 L459.16,515.10 L459.15,514.07 L459.15,513.05 L459.15,512.03 L459.15,511.01 L459.15,509.99 L459.15,508.97 L459.15,507.95 L459.15,506.93 L459.15,505.91 L459.15,504.89 L459.15,503.87 L459.15,502.85Z" fill="#3f3f8e" stroke="#3f3f8e" stroke-width="0.4"/>
<circle cx="458.16" cy="524.22" r="0.6" fill="#1c1c50"/>
<circle cx="459.18" cy="530.52" r="0.6" fill="#1c1c50"/>
<circle cx="460.31" cy="537.28" r="0.6" fill="#1c1c50"/>
<circle cx="459.62" cy="535.21" r="0.6" fill="#1c1c50"/>
<circle cx="461.40" cy="529.53" r="0.6" fill="#1c1c50"/>
<circle cx="458.38" cy="549.30" r="0.6" fill="#1c1c50"/>
<circle cx="461.25" cy="535.07" r="0.6" fill="#1c1c50"/>
<circle cx="458.00" cy="541.66" r="0.6" fill="#1c1c50"/>
<circle cx="459.30" cy="529.37" r="0.6" fill="#1c1c50"/>
<circle cx="456.79" cy="531.15" r="0.6" fill="#1c1c50"/>
<circle cx="458.04" cy="536.14" r="0.6" fill="#1c1c50"/>
<circle cx="456.19" cy="532.40" r="0.6" fill="#1c1c50"/>
<circle cx="456.62" cy="534.04" r="0.6" fill="#1c1c50"/>
<circle cx="458.55" cy="516.50" r="0.6" fill="#1c1c50"/>
<circle cx="458.61" cy="547.12" r="0.6" fill="#1c1c50"/>
<circle cx="459.82" cy="532.19" r="0.6" fill="#1c1c50"/>
<circle cx="460.56" cy="526.80" r="0.6" fill="#1c1c50"/>
<circle cx="459.22" cy="538.52" r="0.6" fill="#1c1c50"/>
<circle cx="459.91" cy="527.46" r="0.6" fill="#1c1c50"/>
<circle cx="456.63" cy="534.88" r="0.6" fill="#1c1c50"/>
<circle cx="457.69" cy="524.14" r="0.6" fill="#1c1c50"/>
<circle cx="459.15" cy="540.32" r="0.6" fill="#1c1c50"/>
<circle cx="456.58" cy="531.68" r="0.6" fill="#1c1c50"/>
<circle cx="457.25" cy="535.67" r="0.6" fill="#1c1c50"/>
<circle cx="459.96" cy="538.55" r="0.6" fill="#1c1c50"/>
<circle cx="459.98" cy="532.57" r="0.6" fill="#1c1c50"/>
<circle cx="459.03" cy="521.56" r="0.6" fill="#1c1c50"/>
<circle cx="458.39" cy="516.91" r="0.6" fill="#1c1c50"/>
<circle cx="457.27" cy="538.93" r="0.6" fill="#1c1c50"/>
<circle cx="458.50" cy="542.71" r="0.6" fill="#1c1c50"/>
<circle cx="457.95" cy="527.76" r="0.6" fill="#1c1c50"/>
<circle cx="457.67" cy="523.58" r="0.6" fill="#1c1c50"/>
<circle cx="458.48" cy="539.73" r="0.6" fill="#1c1c50"/>
<circle cx="458.73" cy="541.85" r="0.6" fill="#1c1c50"/>
<circle cx="458.52" cy="541.99" r="0.6" fill="#1c1c50"/>
<circle cx="456.46" cy="527.43" r="0.6" fill="#1c1c50"/>
<circle cx="458.68" cy="516.64" r="0.6" fill="#1c1c50"/>
<circle cx="456.03" cy="536.45" r="0.6" fill="#1c1c50"/>
<circle cx="458.46" cy="524.61" r="0.6" fill="#1c1c50"/>
<circle cx="457.01" cy="526.12" r="0.6" fill="#1c1c50"/>
<circle cx="458.09" cy="529.13" r="0.6" fill="#1c1c50"/>
<circle cx="457.13" cy="538.19" r="0.6" fill="#1c1c50"/>
<circle cx="457.49" cy="532.63" r="0.6" fill="#1c1c50"/>
<circle cx="458.61" cy="528.63" r="0.6" fill="#1c1c50"/>
<circle cx="460.61" cy="526.40" r="0.6" fill="#1c1c50"/>
<circle cx="459.65" cy="536.01" r="0.6" fill="#1c1c50"/>
<circle cx="459.61" cy="529.56" r="0.6" fill="#1c1c50"/>
<circle cx="459.69" cy="532.07" r="0.6" fill="#1c1c50"/>
<circle cx="456.05" cy="535.48" r="0.6" fill="#1c1c50"/>
<circle cx="456.49" cy="528.73" r="0.6" fill="#1c1c50"/>
<circle cx="457.95" cy="525.70" r="0.6" fill="#1c1c50"/>
<circle cx="457.47" cy="532.17" r="0.6" fill="#1c1c50"/>
<circle cx="457.23" cy="534.16" r="0.6" fill="#1c1c50"/>
<circle cx="460.99" cy="536.86" r="0.6" fill="#1c1c50"/>
<circle cx="458.34" cy="547.77" r="0.6" fill="#1c1c50"/>
<circle cx="459.55" cy="523.96" r="0.6" fill="#1c1c50"/>
<circle cx="460.05" cy="523.45" r="0.6" fill="#1c1c50"/>
<circle cx="457.86" cy="535.50" r="0.6" fill="#1c1c50"/>
<circle cx="458.69" cy="517.50" r="0.6" fill="#1c1c50"/>
<circle cx="456.89" cy="538.83" r="0.6" fill="#1c1c50"/>
<circle cx="456.97" cy="525.55" r="0.6" fill="#1c1c50"/>
<circle cx="458.18" cy="530.87" r="0.6" fill="#1c1c50"/>
<circle cx="461.36" cy="531.30" r="0.6" fill="#1c1c50"/>
<circle cx="458.75" cy="532.74" r="0.6" fill="#1c1c50"/>
<circle cx="457.67" cy="530.06" r="0.6" fill="#1c1c50"/>
<circle cx="458.94" cy="532.79" r="0.6" fill="#1c1c50"/>
<circle cx="458.32" cy="542.78" r="0.6" fill="#1c1c50"/>
<circle cx="458.82" cy="524.02" r="0.6" fill="#1c1c50"/>
<circle cx="459.23" cy="526.22" r="0.6" fill="#1c1c50"/>
<circle cx="460.97" cy="535.91" r="0.6" fill="#1c1c50"/>
<circle cx="458.42" cy="518.77" r="0.6" fill="#1c1c50"/>
<circle cx="457.72" cy="528.59" r="0.6" fill="#1c1c50"/>
<circle cx="457.65" cy="531.32" r="0.6" fill="#1c1c50"/>
<circle cx="458.30" cy="518.31" r="0.6" fill="#1c1c50"/>
<circle cx="459.02" cy="525.91" r="0.6" fill="#1c1c50"/>
<circle cx="456.37" cy="529.04" r="0.6" fill="#1c1c50"/>
<circle cx="457.61" cy="537.16" r="0.6" fill="#1c1c50"/>
<circle cx="456.43" cy="531.83" r="0.6" fill="#1c1c50"/>
<circle cx="458.98" cy="528.06" r="0.6" fill="#1c1c50"/>
<circle cx="458.94" cy="542.38" r="0.6" fill="#1c1c50"/>
<circle cx="459.93" cy="539.05" r="0.6" fill="#1c1c50"/>
<circle cx="461.16" cy="536.30" r="0.6" fill="#1c1c50"/>
<circle cx="460.46" cy="534.85" r="0.6" fill="#1c1c50"/>
<circle cx="456.95" cy="527.24" r="0.6" fill="#1c1c50"/>
<circle cx="459.68" cy="530.33" r="0.6" fill="#1c1c50"/>
<circle cx="456.54" cy="527.82" r="0.6" fill="#1c1c50"/>
<circle cx="456.16" cy="534.75" r="0.6" fill="#1c1c50"/>
<circle cx="457.89" cy="532.78" r="0.6" fill="#1c1c50"/>
<circle cx="458.07" cy="541.04" r="0.6" fill="#1c1c50"/>
<circle cx="457.95" cy="529.90" r="0.6" fill="#1c1c50"/>
<circle cx="459.45" cy="522.53" r="0.6" fill="#1c1c50"/>
<circle cx="456.40" cy="534.07" r="0.6" fill="#1c1c50"/>
<circle cx="458.44" cy="537.80" r="0.6" fill="#1c1c50"/>
<circle cx="459.30" cy="541.48" r="0.6" fill="#1c1c50"/>
<circle cx="458.54" cy="525.95" r="0.6" fill="#1c1c50"/>
<circle cx="458.65" cy="516.70" r="0.6" fill="#1c1c50"/>
<circle cx="460.16" cy="540.05" r="0.6" fill="#1c1c50"/>
<circle cx="456.55" cy="536.25" r="0.6" fill="#1c1c50"/>
<circle cx="461.39" cy="535.13" r="0.6" fill="#1c1c50"/>
<circle cx="459.14" cy="532.15" r="0.6" fill="#1c1c50"/>
<circle cx="457.34" cy="527.38" r="0.6" fill="#1c1c50"/>
<circle cx="457.21" cy="527.88" r="0.6" fill="#1c1c50"/>
<circle cx="457.78" cy="539.48" r="0.6" fill="#1c1c50"/>
<circle cx="458.11" cy="522.67" r="0.6" fill="#1c1c50"/>
<circle cx="459.12" cy="539.53" r="0.6" fill="#1c1c50"/>
<circle cx="458.25" cy="519.87" r="0.6" fill="#1c1c50"/>
<circle cx="456.84" cy="535.07" r="0.6" fill="#1c1c50"/>
<circle cx="459.94" cy="533.33" r="0.6" fill="#1c1c50"/>
<circle cx="457.77" cy="536.71" r="0.6" fill="#1c1c50"/>
<circle cx="459.12" cy="543.29" r="0.6" fill="#1c1c50"/>
<path d="M469.15,497.88 L469.15,498.64 L469.15,499.40 L469.15,500.16 L469.15,500.92 L469.15,501.67 L469.14,502.43 L469.14,503.19 L469.13,503.95 L469.11,504.71 L469.08,505.47 L469.05,506.23 L469.00,506.99 L468.93,507.74 L468.84,508.50 L468.73,509.26 L468.60,510.02 L468.43,510.78 L468.25,511.54 L468.05,512.30 L467.83,513.05 L467.59,513.81 L467.36,514.57 L467.13,515.33 L466.90,516.09 L466.70,516.85 L466.51,517.61 L466.34,518.36 L466.21,519.12 L466.09,519.88 L466.01,520.64 L465.94,521.40 L465.90,522.16 L465.87,522.92 L465.86,523.68 L465.85,524.43 L465.85,525.19 L465.85,525.95 L465.86,526.71 L465.90,527.47 L465.96,528.23 L466.06,528.99 L466.21,529.74 L466.40,530.50 L466.63,531.26 L466.90,532.02 L467.20,532.78 L467.52,533.54 L467.83,534.30 L468.12,535.05 L468.38,535.81 L468.60,536.57 L468.77,537.33 L468.90,538.09 L469.00,538.85 L469.06,539.61 L469.10,540.37 L469.13,541.12 L469.14,541.88 L469.14,542.64 L469.15,543.40 L470.05,543.40 L470.06,542.64 L470.06,541.88 L470.07,541.12 L470.10,540.37 L470.14,539.61 L470.20,538.85 L470.30,538.09 L470.43,537.33 L470.60,536.57 L470.82,535.81 L471.08,535.05 L471.37,534.30 L471.68,533.54 L472.00,532.78 L472.30,532.02 L472.57,531.26 L472.80,530.50 L472.99,529.74 L473.14,528.99 L473.24,528.23 L473.30,527.47 L473.34,526.71 L473.35,525.95 L473.35,525.19 L473.35,524.43 L473.34,523.68 L473.33,522.92 L473.30,522.16 L473.26,521.40 L473.19,520.64 L473.11,519.88 L472.99,519.12 L472.86,518.36 L472.69,517.61 L472.50,516.85 L472.30,516.09 L472.07,515.33 L471.84,514.57 L471.61,513.81 L471.37,513.05 L471.15,512.30 L470.95,511.54 L470.77,510.78 L470.60,510.02 L470.47,509.26 L470.36,508.50 L470.27,507.74 L470.20,506.99 L470.15,506.23 L470.12,505.47 L470.09,504.71 L470.07,503.95 L470.06,503.19 L470.06,502.43 L470.05,501.67 L470.05,500.92 L470.05,500.16 L470.05,499.40 L470.05,498.64 L470.05,497.88Z" fill="#f2a531" stroke="#f2a531" stroke-width="0.4"/>
<circle cx="466.70" cy="527.45" r="0.6" fill="#4a3008"/>
<circle cx="469.97" cy="532.07" r="0.6" fill="#4a3008"/>
<circle cx="467.11" cy="518.54" r="0.6" fill="#4a3008"/>
<circle cx="468.95" cy="519.62" r="0.6" fill="#4a3008"/>
<circle cx="472.46" cy="522.30" r="0.6" fill="#4a3008"/>
<circle cx="471.33" cy="532.39" r="0.6" fill="#4a3008"/>
<circle cx="471.23" cy="529.63" r="0.6" fill="#4a3008"/>
<circle cx="469.93" cy="514.39" r="0.6" fill="#4a3008"/>
<circle cx="467.59" cy="531.22" r="0.6" fill="#4a3008"/>
<circle cx="468.74" cy="524.06" r="0.6" fill="#4a3008"/>
<circle cx="468.44" cy="525.90" r="0.6" fill="#4a3008"/>
<circle cx="469.27" cy="536.96" r="0.6" fill="#4a3008"/>
<circle cx="469.89" cy="536.40" r="0.6" fill="#4a3008"/>
<circle cx="471.61" cy="530.64" r="0.6" fill="#4a3008"/>
<circle cx="470.11" cy="531.62" r="0.6" fill="#4a3008"/>
<circle cx="469.63" cy="511.36" r="0.6" fill="#4a3008"/>
<circle cx="469.86" cy="526.58" r="0.6" fill="#4a3008"/>
<circle cx="469.24" cy="498.33" r="0.6" fill="#4a3008"/>
<circle cx="471.74" cy="518.89" r="0.6" fill="#4a3008"/>
<circle cx="469.88" cy="534.94" r="0.6" fill="#4a3008"/>
<circle cx="469.76" cy="513.43" r="0.6" fill="#4a3008"/>
<circle cx="469.09" cy="532.39" r="0.6" fill="#4a3008"/>
<circle cx="468.21" cy="526.67" r="0.6" fill="#4a3008"/>
<circle cx="471.46" cy="531.38" r="0.6" fill="#4a3008"/>
<circle cx="468.72" cy="513.82" r="0.6" fill="#4a3008"/>
<circle cx="469.77" cy="512.64" r="0.6" fill="#4a3008"/>
<circle cx="469.34" cy="533.88" r="0.6" fill="#4a3008"/>
<circle cx="469.70" cy="514.12" r="0.6" fill="#4a3008"/>
<circle cx="470.23" cy="527.14" r="0.6" fill="#4a3008"/>
<circle cx="468.06" cy="530.92" r="0.6" fill="#4a3008"/>
<circle cx="470.02" cy="515.64" r="0.6" fill="#4a3008"/>
<circle cx="468.18" cy="516.71" r="0.6" fill="#4a3008"/>
<circle cx="470.58" cy="532.10" r="0.6" fill="#4a3008"/>
<circle cx="469.56" cy="513.10" r="0.6" fill="#4a3008"/>
<circle cx="471.22" cy="531.48" r="0.6" fill="#4a3008"/>
<circle cx="472.15" cy="526.92" r="0.6" fill="#4a3008"/>
<circle cx="469.47" cy="518.95" r="0.6" fill="#4a3008"/>
<circle cx="469.30" cy="507.21" r="0.6" fill="#4a3008"/>
<circle cx="470.26" cy="520.43" r="0.6" fill="#4a3008"/>
<circle cx="471.13" cy="522.05" r="0.6" fill="#4a3008"/>
<circle cx="470.68" cy="530.64" r="0.6" fill="#4a3008"/>
<circle cx="470.18" cy="537.48" r="0.6" fill="#4a3008"/>
<circle cx="467.31" cy="528.59" r="0.6" fill="#4a3008"/>
<circle cx="467.84" cy="524.18" r="0.6" fill="#4a3008"/>
<circle cx="470.05" cy="510.69" r="0.6" fill="#4a3008"/>
<circle cx="469.03" cy="521.34" r="0.6" fill="#4a3008"/>
<circle cx="470.17" cy="527.83" r="0.6" fill="#4a3008"/>
<circle cx="470.68" cy="521.68" r="0.6" fill="#4a3008"/>
<circle cx="469.29" cy="501.93" r="0.6" fill="#4a3008"/>
<circle cx="470.83" cy="529.36" r="0.6" fill="#4a3008"/>
<circle cx="468.93" cy="516.77" r="0.6" fill="#4a3008"/>
<circle cx="471.67" cy="530.89" r="0.6" fill="#4a3008"/>
<circle cx="470.77" cy="522.25" r="0.6" fill="#4a3008"/>
<circle cx="469.85" cy="533.66" r="0.6" fill="#4a3008"/>
<circle cx="469.67" cy="515.18" r="0.6" fill="#4a3008"/>
<circle cx="469.50" cy="508.72" r="0.6" fill="#4a3008"/>
<circle cx="468.23" cy="523.24" r="0.6" fill="#4a3008"/>
<circle cx="469.47" cy="521.84" r="0.6" fill="#4a3008"/>
<circle cx="471.39" cy="532.31" r="0.6" fill="#4a3008"/>
<circle cx="468.74" cy="522.67" r="0.6" fill="#4a3008"/>
<circle cx="469.44" cy="537.88" r="0.6" fill="#4a3008"/>
<circle cx="468.11" cy="524.65" r="0.6" fill="#4a3008"/>
<circle cx="467.63" cy="516.32" r="0.6" fill="#4a3008"/>
<circle cx="471.86" cy="517.15" r="0.6" fill="#4a3008"/>
<circle cx="468.32" cy="521.06" r="0.6" fill="#4a3008"/>
<circle cx="470.72" cy="525.75" r="0.6" fill="#4a3008"/>
<circle cx="470.77" cy="532.22" r="0.6" fill="#4a3008"/>
<circle cx="470.15" cy="521.95" r="0.6" fill="#4a3008"/>
<circle cx="467.50" cy="531.67" r="0.6" fill="#4a3008"/>
<circle cx="470.49" cy="514.03" r="0.6" fill="#4a3008"/>
<circle cx="470.60" cy="512.13" r="0.6" fill="#4a3008"/>
<circle cx="470.78" cy="512.00" r="0.6" fill="#4a3008"/>
<circle cx="471.22" cy="528.47" r="0.6" fill="#4a3008"/>
<circle cx="472.38" cy="521.66" r="0.6" fill="#4a3008"/>
<circle cx="468.23" cy="526.81" r="0.6" fill="#4a3008"/>
<circle cx="468.79" cy="515.03" r="0.6" fill="#4a3008"/>
<circle cx="469.36" cy="528.43" r="0.6" fill="#4a3008"/>
<circle cx="468.91" cy="520.96" r="0.6" fill="#4a3008"/>
<circle cx="466.86" cy="528.90" r="0.6" fill="#4a3008"/>
<circle cx="472.27" cy="528.44" r="0.6" fill="#4a3008"/>
<circle cx="472.00" cy="528.78" r="0.6" fill="#4a3008"/>
<circle cx="466.99" cy="529.33" r="0.6" fill="#4a3008"/>
<circle cx="470.90" cy="518.14" r="0.6" fill="#4a3008"/>
<circle cx="471.22" cy="521.82" r="0.6" fill="#4a3008"/>
<circle cx="469.75" cy="498.40" r="0.6" fill="#4a3008"/>
<circle cx="467.30" cy="522.09" r="0.6" fill="#4a3008"/>
<circle cx="469.48" cy="530.24" r="0.6" fill="#4a3008"/>
<circle cx="472.04" cy="530.24" r="0.6" fill="#4a3008"/>
<circle cx="469.83" cy="518.14" r="0.6" fill="#4a3008"/>
<circle cx="467.44" cy="527.63" r="0.6" fill="#4a3008"/>
<circle cx="471.23" cy="524.84" r="0.6" fill="#4a3008"/>
<circle cx="469.62" cy="523.97" r="0.6" fill="#4a3008"/>
<circle cx="469.60" cy="525.87" r="0.6" fill="#4a3008"/>
<circle cx="468.92" cy="521.94" r="0.6" fill="#4a3008"/>
<circle cx="469.37" cy="516.92" r="0.6" fill="#4a3008"/>
<circle cx="472.15" cy="526.03" r="0.6" fill="#4a3008"/>
<circle cx="470.27" cy="509.78" r="0.6" fill="#4a3008"/>
<circle cx="472.49" cy="527.40" r="0.6" fill="#4a3008"/>
<circle cx="468.27" cy="513.68" r="0.6" fill="#4a3008"/>
<circle cx="469.79" cy="505.26" r="0.6" fill="#4a3008"/>
<circle cx="469.38" cy="538.15" r="0.6" fill="#4a3008"/>
<circle cx="470.20" cy="536.09" r="0.6" fill="#4a3008"/>
<circle cx="469.94" cy="518.32" r="0.6" fill="#4a3008"/>
<circle cx="469.41" cy="515.85" r="0.6" fill="#4a3008"/>
<circle cx="467.86" cy="517.46" r="0.6" fill="#4a3008"/>
<circle cx="468.25" cy="528.77" r="0.6" fill="#4a3008"/>
<circle cx="468.20" cy="521.76" r="0.6" fill="#4a3008"/>
<circle cx="469.77" cy="537.16" r="0.6" fill="#4a3008"/>
<circle cx="468.26" cy="520.05" r="0.6" fill="#4a3008"/>
<circle cx="469.26" cy="529.24" r="0.6" fill="#4a3008"/>
<path d="M480.35,483.81 L480.35,485.01 L480.35,486.21 L480.35,487.41 L480.35,488.61 L480.35,489.81 L480.35,491.01 L480.35,492.21 L480.35,493.41 L480.35,494.61 L480.35,495.81 L480.35,497.01 L480.35,498.21 L480.35,499.41 L480.34,500.61 L480.33,501.81 L480.30,503.01 L480.26,504.21 L480.20,505.41 L480.10,506.61 L479.96,507.81 L479.77,509.01 L479.53,510.21 L479.25,511.41 L478.93,512.61 L478.58,513.81 L478.24,515.01 L477.90,516.21 L477.60,517.41 L477.34,518.61 L477.13,519.81 L476.97,521.01 L476.86,522.21 L476.80,523.41 L476.76,524.61 L476.75,525.81 L476.75,527.01 L476.76,528.21 L476.80,529.41 L476.92,530.61 L477.12,531.81 L477.42,533.01 L477.82,534.21 L478.28,535.41 L478.77,536.61 L479.22,537.81 L479.61,539.01 L479.91,540.21 L480.11,541.41 L480.24,542.61 L480.30,543.81 L480.33,545.01 L480.34,546.21 L480.35,547.41 L480.35,548.61 L480.35,549.81 L480.35,551.01 L480.35,552.21 L480.35,553.41 L480.35,554.61 L480.35,555.81 L481.25,555.81 L481.25,554.61 L481.25,553.41 L481.25,552.21 L481.25,551.01 L481.25,549.81 L481.25,548.61 L481.25,547.41 L481.26,546.21 L481.27,545.01 L481.30,543.81 L481.36,542.61 L481.49,541.41 L481.69,540.21 L481.99,539.01 L482.38,537.81 L482.83,536.61 L483.32,535.41 L483.78,534.21 L484.18,533.01 L484.48,531.81 L484.68,530.61 L484.80,529.41 L484.84,528.21 L484.85,527.01 L484.85,525.81 L484.84,524.61 L484.80,523.41 L484.74,522.21 L484.63,521.01 L484.47,519.81 L484.26,518.61 L484.00,517.41 L483.70,516.21 L483.36,515.01 L483.02,513.81 L482.67,512.61 L482.35,511.41 L482.07,510.21 L481.83,509.01 L481.64,507.81 L481.50,506.61 L481.40,505.41 L481.34,504.21 L481.30,503.01 L481.27,501.81 L481.26,500.61 L481.25,499.41 L481.25,498.21 L481.25,497.01 L481.25,495.81 L481.25,494.61 L481.25,493.41 L481.25,492.21 L481.25,491.01 L481.25,489.81 L481.25,488.61 L481.25,487.41 L481.25,486.21 L481.25,485.01 L481.25,483.81Z" fill="#2ea6dc" stroke="#2ea6dc" stroke-width="0.4"/>
<circle cx="477.91" cy="528.84" r="0.6" fill="#0c4a68"/>
<circle cx="481.18" cy="530.88" r="0.6" fill="#0c4a68"/>
<circle cx="480.79" cy="506.04" r="0.6" fill="#0c4a68"/>
<circle cx="477.98" cy="530.99" r="0.6" fill="#0c4a68"/>
<circle cx="481.16" cy="536.63" r="0.6" fill="#0c4a68"/>
<circle cx="479.74" cy="535.75" r="0.6" fill="#0c4a68"/>
<circle cx="481.98" cy="529.16" r="0.6" fill="#0c4a68"/>
<circle cx="478.01" cy="524.14" r="0.6" fill="#0c4a68"/>
<circle cx="481.44" cy="512.34" r="0.6" fill="#0c4a68"/>
<circle cx="480.97" cy="507.17" r="0.6" fill="#0c4a68"/>
<circle cx="480.06" cy="536.93" r="0.6" fill="#0c4a68"/>
<circle cx="479.10" cy="513.51" r="0.6" fill="#0c4a68"/>
<circle cx="480.77" cy="544.60" r="0.6" fill="#0c4a68"/>
<circle cx="478.97" cy="524.38" r="0.6" fill="#0c4a68"/>
<circle cx="478.42" cy="519.43" r="0.6" fill="#0c4a68"/>
<circle cx="478.09" cy="524.27" r="0.6" fill="#0c4a68"/>
<circle cx="479.51" cy="514.72" r="0.6" fill="#0c4a68"/>
<circle cx="480.76" cy="515.22" r="0.6" fill="#0c4a68"/>
<circle cx="482.02" cy="537.06" r="0.6" fill="#0c4a68"/>
<circle cx="479.35" cy="521.92" r="0.6" fill="#0c4a68"/>
<circle cx="480.84" cy="502.61" r="0.6" fill="#0c4a68"/>
<circle cx="480.30" cy="530.84" r="0.6" fill="#0c4a68"/>
<circle cx="478.35" cy="530.39" r="0.6" fill="#0c4a68"/>
<circle cx="480.01" cy="518.56" r="0.6" fill="#0c4a68"/>
<circle cx="481.71" cy="527.92" r="0.6" fill="#0c4a68"/>
<circle cx="479.97" cy="538.46" r="0.6" fill="#0c4a68"/>
<circle cx="481.65" cy="528.84" r="0.6" fill="#0c4a68"/>
<circle cx="481.32" cy="530.15" r="0.6" fill="#0c4a68"/>
<circle cx="481.40" cy="515.61" r="0.6" fill="#0c4a68"/>
<circle cx="479.25" cy="528.27" r="0.6" fill="#0c4a68"/>
<circle cx="477.99" cy="524.36" r="0.6" fill="#0c4a68"/>
<circle cx="480.24" cy="530.11" r="0.6" fill="#0c4a68"/>
<circle cx="479.12" cy="533.32" r="0.6" fill="#0c4a68"/>
<circle cx="482.65" cy="529.54" r="0.6" fill="#0c4a68"/>
<circle cx="480.28" cy="530.73" r="0.6" fill="#0c4a68"/>
<circle cx="477.73" cy="526.63" r="0.6" fill="#0c4a68"/>
<circle cx="480.87" cy="527.83" r="0.6" fill="#0c4a68"/>
<circle cx="483.57" cy="530.68" r="0.6" fill="#0c4a68"/>
<circle cx="479.90" cy="511.01" r="0.6" fill="#0c4a68"/>
<circle cx="479.11" cy="535.37" r="0.6" fill="#0c4a68"/>
<circle cx="479.88" cy="535.41" r="0.6" fill="#0c4a68"/>
<circle cx="483.83" cy="529.20" r="0.6" fill="#0c4a68"/>
<circle cx="483.48" cy="523.32" r="0.6" fill="#0c4a68"/>
<circle cx="481.25" cy="513.37" r="0.6" fill="#0c4a68"/>
<circle cx="480.95" cy="533.76" r="0.6" fill="#0c4a68"/>
<circle cx="480.17" cy="508.05" r="0.6" fill="#0c4a68"/>
<circle cx="482.43" cy="535.60" r="0.6" fill="#0c4a68"/>
<circle cx="480.80" cy="528.75" r="0.6" fill="#0c4a68"/>
<circle cx="480.61" cy="526.52" r="0.6" fill="#0c4a68"/>
<circle cx="481.36" cy="533.21" r="0.6" fill="#0c4a68"/>
<circle cx="482.22" cy="521.62" r="0.6" fill="#0c4a68"/>
<circle cx="481.74" cy="509.77" r="0.6" fill="#0c4a68"/>
<circle cx="480.45" cy="524.36" r="0.6" fill="#0c4a68"/>
<circle cx="483.06" cy="529.97" r="0.6" fill="#0c4a68"/>
<circle cx="481.32" cy="525.12" r="0.6" fill="#0c4a68"/>
<circle cx="479.90" cy="521.67" r="0.6" fill="#0c4a68"/>
<circle cx="482.51" cy="525.76" r="0.6" fill="#0c4a68"/>
<circle cx="481.36" cy="521.03" r="0.6" fill="#0c4a68"/>
<circle cx="481.14" cy="543.64" r="0.6" fill="#0c4a68"/>
<circle cx="479.72" cy="525.18" r="0.6" fill="#0c4a68"/>
<circle cx="480.32" cy="532.65" r="0.6" fill="#0c4a68"/>
<circle cx="478.83" cy="533.25" r="0.6" fill="#0c4a68"/>
<circle cx="477.57" cy="527.44" r="0.6" fill="#0c4a68"/>
<circle cx="480.53" cy="540.19" r="0.6" fill="#0c4a68"/>
<circle cx="482.83" cy="531.42" r="0.6" fill="#0c4a68"/>
<circle cx="480.03" cy="534.19" r="0.6" fill="#0c4a68"/>
<circle cx="480.98" cy="539.89" r="0.6" fill="#0c4a68"/>
<circle cx="478.59" cy="527.27" r="0.6" fill="#0c4a68"/>
<circle cx="481.09" cy="506.35" r="0.6" fill="#0c4a68"/>
<circle cx="477.84" cy="526.96" r="0.6" fill="#0c4a68"/>
<circle cx="478.98" cy="530.99" r="0.6" fill="#0c4a68"/>
<circle cx="483.08" cy="527.41" r="0.6" fill="#0c4a68"/>
<circle cx="480.16" cy="518.83" r="0.6" fill="#0c4a68"/>
<circle cx="480.05" cy="537.40" r="0.6" fill="#0c4a68"/>
<circle cx="480.96" cy="509.94" r="0.6" fill="#0c4a68"/>
<circle cx="480.82" cy="527.61" r="0.6" fill="#0c4a68"/>
<circle cx="480.04" cy="520.29" r="0.6" fill="#0c4a68"/>
<circle cx="481.23" cy="539.50" r="0.6" fill="#0c4a68"/>
<circle cx="479.25" cy="525.23" r="0.6" fill="#0c4a68"/>
<circle cx="478.55" cy="529.56" r="0.6" fill="#0c4a68"/>
<circle cx="480.32" cy="507.18" r="0.6" fill="#0c4a68"/>
<circle cx="480.40" cy="525.05" r="0.6" fill="#0c4a68"/>
<circle cx="479.31" cy="536.79" r="0.6" fill="#0c4a68"/>
<circle cx="482.53" cy="528.32" r="0.6" fill="#0c4a68"/>
<circle cx="482.00" cy="532.65" r="0.6" fill="#0c4a68"/>
<circle cx="481.18" cy="536.68" r="0.6" fill="#0c4a68"/>
<circle cx="480.58" cy="500.68" r="0.6" fill="#0c4a68"/>
<circle cx="480.67" cy="503.63" r="0.6" fill="#0c4a68"/>
<circle cx="479.01" cy="523.43" r="0.6" fill="#0c4a68"/>
<circle cx="480.34" cy="523.18" r="0.6" fill="#0c4a68"/>
<circle cx="478.64" cy="525.32" r="0.6" fill="#0c4a68"/>
<circle cx="482.50" cy="534.99" r="0.6" fill="#0c4a68"/>
<circle cx="480.48" cy="528.58" r="0.6" fill="#0c4a68"/>
<circle cx="478.79" cy="515.34" r="0.6" fill="#0c4a68"/>
<circle cx="483.13" cy="524.87" r="0.6" fill="#0c4a68"/>
<circle cx="481.24" cy="539.50" r="0.6" fill="#0c4a68"/>
<circle cx="480.66" cy="539.59" r="0.6" fill="#0c4a68"/>
<circle cx="481.56" cy="534.15" r="0.6" fill="#0c4a68"/>
<circle cx="478.81" cy="528.88" r="0.6" fill="#0c4a68"/>
<circle cx="479.82" cy="514.63" r="0.6" fill="#0c4a68"/>
<circle cx="481.02" cy="527.50" r="0.6" fill="#0c4a68"/>
<circle cx="480.03" cy="532.21" r="0.6" fill="#0c4a68"/>
<circle cx="478.88" cy="518.19" r="0.6" fill="#0c4a68"/>
<circle cx="477.87" cy="520.08" r="0.6" fill="#0c4a68"/>
<circle cx="477.70" cy="521.98" r="0.6" fill="#0c4a68"/>
<circle cx="483.75" cy="528.61" r="0.6" fill="#0c4a68"/>
<circle cx="479.13" cy="535.51" r="0.6" fill="#0c4a68"/>
<circle cx="480.40" cy="503.47" r="0.6" fill="#0c4a68"/>
<circle cx="480.75" cy="511.21" r="0.6" fill="#0c4a68"/>
<circle cx="480.60" cy="535.16" r="0.6" fill="#0c4a68"/>
<path d="M491.45,516.92 L491.45,517.63 L491.45,518.35 L491.45,519.07 L491.45,519.79 L491.45,520.50 L491.44,521.22 L491.43,521.94 L491.42,522.65 L491.39,523.37 L491.36,524.09 L491.30,524.81 L491.22,525.52 L491.11,526.24 L490.98,526.96 L490.80,527.68 L490.60,528.39 L490.36,529.11 L490.10,529.83 L489.82,530.54 L489.54,531.26 L489.26,531.98 L489.00,532.70 L488.76,533.41 L488.55,534.13 L488.37,534.85 L488.22,535.56 L488.12,536.28 L488.04,537.00 L487.99,537.72 L487.96,538.43 L487.95,539.15 L487.95,539.87 L487.95,540.59 L487.96,541.30 L487.98,542.02 L488.03,542.74 L488.11,543.45 L488.23,544.17 L488.39,544.89 L488.59,545.61 L488.84,546.32 L489.12,547.04 L489.42,547.76 L489.74,548.48 L490.05,549.19 L490.34,549.91 L490.60,550.63 L490.83,551.34 L491.01,552.06 L491.15,552.78 L491.26,553.50 L491.33,554.21 L491.38,554.93 L491.41,555.65 L491.43,556.37 L491.44,557.08 L491.45,557.80 L491.45,558.52 L491.45,559.23 L491.45,559.95 L492.35,559.95 L492.35,559.23 L492.35,558.52 L492.35,557.80 L492.36,557.08 L492.37,556.37 L492.39,555.65 L492.42,554.93 L492.47,554.21 L492.54,553.50 L492.65,552.78 L492.79,552.06 L492.97,551.34 L493.20,550.63 L493.46,549.91 L493.75,549.19 L494.06,548.48 L494.38,547.76 L494.68,547.04 L494.96,546.32 L495.21,545.61 L495.41,544.89 L495.57,544.17 L495.69,543.45 L495.77,542.74 L495.82,542.02 L495.84,541.30 L495.85,540.59 L495.85,539.87 L495.85,539.15 L495.84,538.43 L495.81,537.72 L495.76,537.00 L495.68,536.28 L495.58,535.56 L495.43,534.85 L495.25,534.13 L495.04,533.41 L494.80,532.70 L494.54,531.98 L494.26,531.26 L493.98,530.54 L493.70,529.83 L493.44,529.11 L493.20,528.39 L493.00,527.68 L492.82,526.96 L492.69,526.24 L492.58,525.52 L492.50,524.81 L492.44,524.09 L492.41,523.37 L492.38,522.65 L492.37,521.94 L492.36,521.22 L492.35,520.50 L492.35,519.79 L492.35,519.07 L492.35,518.35 L492.35,517.63 L492.35,516.92Z" fill="#a3163c" stroke="#a3163c" stroke-width="0.4"/>
<circle cx="490.49" cy="547.28" r="0.6" fill="#3c0610"/>
<circle cx="491.59" cy="533.64" r="0.6" fill="#3c0610"/>
<circle cx="493.90" cy="540.88" r="0.6" fill="#3c0610"/>
<circle cx="492.08" cy="533.23" r="0.6" fill="#3c0610"/>
<circle cx="489.67" cy="534.44" r="0.6" fill="#3c0610"/>
<circle cx="491.59" cy="548.71" r="0.6" fill="#3c0610"/>
<circle cx="491.19" cy="531.17" r="0.6" fill="#3c0610"/>
<circle cx="491.03" cy="550.23" r="0.6" fill="#3c0610"/>
<circle cx="493.09" cy="549.35" r="0.6" fill="#3c0610"/>
<circle cx="489.42" cy="545.37" r="0.6" fill="#3c0610"/>
<circle cx="490.58" cy="548.00" r="0.6" fill="#3c0610"/>
<circle cx="491.58" cy="538.38" r="0.6" fill="#3c0610"/>
<circle cx="490.60" cy="537.26" r="0.6" fill="#3c0610"/>
<circle cx="490.80" cy="534.59" r="0.6" fill="#3c0610"/>
<circle cx="490.93" cy="540.96" r="0.6" fill="#3c0610"/>
<circle cx="489.39" cy="543.32" r="0.6" fill="#3c0610"/>
<circle cx="491.66" cy="536.90" r="0.6" fill="#3c0610"/>
<circle cx="492.58" cy="527.98" r="0.6" fill="#3c0610"/>
<circle cx="494.17" cy="536.54" r="0.6" fill="#3c0610"/>
<circle cx="490.80" cy="531.72" r="0.6" fill="#3c0610"/>
<circle cx="491.92" cy="538.71" r="0.6" fill="#3c0610"/>
<circle cx="491.91" cy="524.78" r="0.6" fill="#3c0610"/>
<circle cx="492.55" cy="547.48" r="0.6" fill="#3c0610"/>
<circle cx="491.33" cy="543.55" r="0.6" fill="#3c0610"/>
<circle cx="493.92" cy="534.07" r="0.6" fill="#3c0610"/>
<circle cx="491.21" cy="533.54" r="0.6" fill="#3c0610"/>
<circle cx="491.58" cy="543.99" r="0.6" fill="#3c0610"/>
<circle cx="489.05" cy="542.58" r="0.6" fill="#3c0610"/>
<circle cx="489.17" cy="539.48" r="0.6" fill="#3c0610"/>
<circle cx="492.00" cy="522.13" r="0.6" fill="#3c0610"/>
<circle cx="491.63" cy="538.88" r="0.6" fill="#3c0610"/>
<circle cx="490.84" cy="538.27" r="0.6" fill="#3c0610"/>
<circle cx="492.19" cy="554.66" r="0.6" fill="#3c0610"/>
<circle cx="494.09" cy="541.01" r="0.6" fill="#3c0610"/>
<circle cx="492.50" cy="532.92" r="0.6" fill="#3c0610"/>
<circle cx="494.33" cy="538.93" r="0.6" fill="#3c0610"/>
<circle cx="494.53" cy="535.92" r="0.6" fill="#3c0610"/>
<circle cx="492.16" cy="520.73" r="0.6" fill="#3c0610"/>
<circle cx="492.68" cy="548.54" r="0.6" fill="#3c0610"/>
<circle cx="491.23" cy="530.07" r="0.6" fill="#3c0610"/>
<circle cx="491.82" cy="523.78" r="0.6" fill="#3c0610"/>
<circle cx="492.25" cy="529.98" r="0.6" fill="#3c0610"/>
<circle cx="490.85" cy="533.20" r="0.6" fill="#3c0610"/>
<circle cx="493.61" cy="534.13" r="0.6" fill="#3c0610"/>
<circle cx="492.41" cy="540.44" r="0.6" fill="#3c0610"/>
<circle cx="493.19" cy="548.84" r="0.6" fill="#3c0610"/>
<circle cx="492.60" cy="542.44" r="0.6" fill="#3c0610"/>
<circle cx="494.00" cy="533.03" r="0.6" fill="#3c0610"/>
<circle cx="492.03" cy="533.48" r="0.6" fill="#3c0610"/>
<circle cx="490.16" cy="540.07" r="0.6" fill="#3c0610"/>
<circle cx="491.62" cy="541.34" r="0.6" fill="#3c0610"/>
<circle cx="489.83" cy="534.41" r="0.6" fill="#3c0610"/>
<circle cx="490.69" cy="532.97" r="0.6" fill="#3c0610"/>
<circle cx="489.44" cy="539.38" r="0.6" fill="#3c0610"/>
<circle cx="494.02" cy="541.12" r="0.6" fill="#3c0610"/>
<circle cx="491.72" cy="556.81" r="0.6" fill="#3c0610"/>
<circle cx="489.85" cy="539.71" r="0.6" fill="#3c0610"/>
<circle cx="491.84" cy="542.81" r="0.6" fill="#3c0610"/>
<circle cx="493.86" cy="534.66" r="0.6" fill="#3c0610"/>
<circle cx="492.13" cy="553.74" r="0.6" fill="#3c0610"/>
<circle cx="492.23" cy="546.95" r="0.6" fill="#3c0610"/>
<circle cx="489.02" cy="537.23" r="0.6" fill="#3c0610"/>
<circle cx="489.38" cy="536.05" r="0.6" fill="#3c0610"/>
<circle cx="491.07" cy="538.99" r="0.6" fill="#3c0610"/>
<circle cx="492.12" cy="554.23" r="0.6" fill="#3c0610"/>
<circle cx="490.78" cy="541.25" r="0.6" fill="#3c0610"/>
<circle cx="493.96" cy="535.28" r="0.6" fill="#3c0610"/>
<circle cx="491.36" cy="549.73" r="0.6" fill="#3c0610"/>
<circle cx="491.23" cy="529.14" r="0.6" fill="#3c0610"/>
<circle cx="490.65" cy="539.47" r="0.6" fill="#3c0610"/>
<circle cx="492.42" cy="536.70" r="0.6" fill="#3c0610"/>
<circle cx="492.37" cy="528.34" r="0.6" fill="#3c0610"/>
<circle cx="492.46" cy="536.43" r="0.6" fill="#3c0610"/>
<circle cx="493.36" cy="541.87" r="0.6" fill="#3c0610"/>
<circle cx="492.71" cy="532.03" r="0.6" fill="#3c0610"/>
<circle cx="490.64" cy="531.67" r="0.6" fill="#3c0610"/>
<circle cx="493.38" cy="536.54" r="0.6" fill="#3c0610"/>
<circle cx="491.74" cy="539.05" r="0.6" fill="#3c0610"/>
<circle cx="492.26" cy="543.43" r="0.6" fill="#3c0610"/>
<circle cx="492.73" cy="545.45" r="0.6" fill="#3c0610"/>
<circle cx="492.54" cy="538.39" r="0.6" fill="#3c0610"/>
<circle cx="490.60" cy="548.35" r="0.6" fill="#3c0610"/>
<circle cx="489.63" cy="535.03" r="0.6" fill="#3c0610"/>
<circle cx="488.89" cy="541.90" r="0.6" fill="#3c0610"/>
<circle cx="490.45" cy="539.51" r="0.6" fill="#3c0610"/>
<circle cx="491.27" cy="538.09" r="0.6" fill="#3c0610"/>
<circle cx="492.87" cy="546.18" r="0.6" fill="#3c0610"/>
<circle cx="488.99" cy="543.41" r="0.6" fill="#3c0610"/>
<circle cx="491.55" cy="536.68" r="0.6" fill="#3c0610"/>
<circle cx="491.88" cy="522.85" r="0.6" fill="#3c0610"/>
<circle cx="492.94" cy="532.84" r="0.6" fill="#3c0610"/>
<circle cx="492.02" cy="530.18" r="0.6" fill="#3c0610"/>
<circle cx="490.78" cy="549.97" r="0.6" fill="#3c0610"/>
<circle cx="492.90" cy="542.87" r="0.6" fill="#3c0610"/>
<circle cx="492.62" cy="536.91" r="0.6" fill="#3c0610"/>
<circle cx="492.70" cy="546.62" r="0.6" fill="#3c0610"/>
<circle cx="493.15" cy="543.16" r="0.6" fill="#3c0610"/>
<circle cx="492.09" cy="527.53" r="0.6" fill="#3c0610"/>
<circle cx="491.47" cy="551.66" r="0.6" fill="#3c0610"/>
<circle cx="492.03" cy="534.90" r="0.6" fill="#3c0610"/>
<circle cx="494.68" cy="540.89" r="0.6" fill="#3c0610"/>
<circle cx="492.13" cy="530.83" r="0.6" fill="#3c0610"/>
<circle cx="494.37" cy="545.36" r="0.6" fill="#3c0610"/>
<circle cx="492.48" cy="528.38" r="0.6" fill="#3c0610"/>
<circle cx="492.32" cy="552.83" r="0.6" fill="#3c0610"/>
<circle cx="491.82" cy="536.48" r="0.6" fill="#3c0610"/>
<circle cx="493.44" cy="546.02" r="0.6" fill="#3c0610"/>
<circle cx="491.58" cy="557.91" r="0.6" fill="#3c0610"/>
<circle cx="492.10" cy="522.98" r="0.6" fill="#3c0610"/>
<circle cx="492.66" cy="529.73" r="0.6" fill="#3c0610"/>
<path d="M447.60,419.30V411.90H491.90V430.40" stroke="#333" stroke-width="0.8" fill="none"/>
<text x="469.75" y="408.80" font-size="5.8" fill="#333" text-anchor="middle" >ns</text>
<path d="M447.60,441.20V422.70H480.80V425.80" stroke="#333" stroke-width="0.8" fill="none"/>
<text x="464.20" y="422.70" font-size="7" fill="#333" text-anchor="middle" font-weight="bold">****</text>
<path d="M458.70,437.30V433.50H491.90V441.20" stroke="#333" stroke-width="0.8" fill="none"/>
<text x="475.30" y="433.50" font-size="7" fill="#333" text-anchor="middle" font-weight="bold">****</text>
<path d="M447.60,470.40V444.20H469.60V447.30" stroke="#333" stroke-width="0.8" fill="none"/>
<text x="458.60" y="444.20" font-size="7" fill="#333" text-anchor="middle" font-weight="bold">****</text>
<path d="M469.60,447.30V444.20H491.90V458.80" stroke="#333" stroke-width="0.8" fill="none"/>
<text x="480.75" y="444.20" font-size="7" fill="#333" text-anchor="middle" font-weight="bold">****</text>
<path d="M458.70,466.50V455.80H480.80V458.80" stroke="#333" stroke-width="0.8" fill="none"/>
<text x="469.75" y="452.80" font-size="5.8" fill="#333" text-anchor="middle" >ns</text>
<path d="M458.70,470.40V466.50H469.60V478.00" stroke="#333" stroke-width="0.8" fill="none"/>
<text x="464.15" y="466.50" font-size="7" fill="#333" text-anchor="middle" font-weight="bold">*</text>
<path d="M480.80,485.00V466.50H491.90V515.00" stroke="#333" stroke-width="0.8" fill="none"/>
<text x="486.35" y="466.50" font-size="7" fill="#333" text-anchor="middle" font-weight="bold">****</text>
<path d="M447.60,519.50V478.10H458.70V501.00" stroke="#333" stroke-width="0.8" fill="none"/>
<text x="453.15" y="478.10" font-size="7" fill="#333" text-anchor="middle" font-weight="bold">****</text>
<path d="M469.60,495.00V478.10H480.80V483.00" stroke="#333" stroke-width="0.8" fill="none"/>
<text x="475.20" y="475.60" font-size="5.8" fill="#333" text-anchor="middle" >ns</text>
<text transform="translate(417.50,501.10) rotate(-90)" font-size="6.4" fill="#333" text-anchor="middle" textLength="63.2" lengthAdjust="spacingAndGlyphs">MFI: phalloidin (×10<tspan font-size="4.3" dy="-2.4">3</tspan><tspan dy="2.4">)</tspan></text>
<text transform="translate(429.80,597.60) rotate(-45)" font-size="7" fill="#333">CD56<tspan font-size="3.8" dy="-2.2">bright</tspan></text>
<text transform="translate(443.10,596.80) rotate(-45)" font-size="7" fill="#333">CD56<tspan font-size="3.8" dy="-2.2">dim</tspan></text>
<text transform="translate(454.00,596.20) rotate(-45)" font-size="7" fill="#333">CD56<tspan font-size="3.8" dy="-2.2">dim</tspan></text>
<text transform="translate(466.60,608.80) rotate(-45)" font-size="7" fill="#333">CD16/CD226<tspan font-size="3.8" dy="-2.2">lo</tspan></text>
<text transform="translate(456.3,603.2) rotate(-45)" font-size="7" fill="#333">Adaptive-like</text>
<rect x="0" y="0" width="520" height="1" fill="#5c5c5c"/>
<rect x="0" y="616" width="520" height="1" fill="#5c5c5c"/>
<rect x="0" y="0" width="1" height="617" fill="#5c5c5c"/>
<rect x="519" y="0" width="1" height="617" fill="#5c5c5c"/>
</svg></body></html>
